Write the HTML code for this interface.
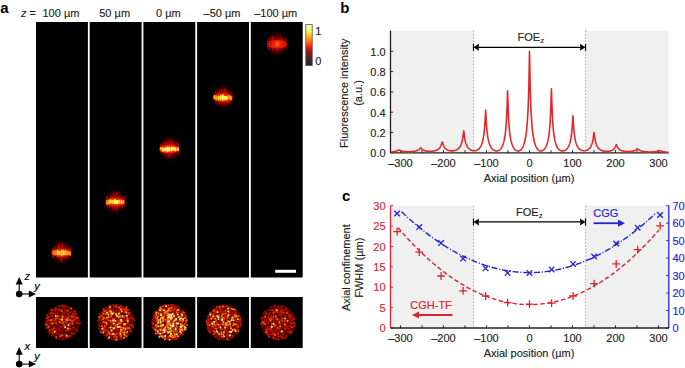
<!DOCTYPE html>
<html><head><meta charset="utf-8"><style>
html,body{margin:0;padding:0;background:#fff;overflow:hidden;width:685px;height:368px;}
svg{display:block;font-family:"Liberation Sans", sans-serif;}
</style></head><body>
<svg width="685" height="368" viewBox="0 0 685 368">
<rect width="685" height="368" fill="#fff"/>
<text x="0.20" y="13.30" font-size="15" text-anchor="start" fill="#000" stroke="#000" stroke-width="0" font-weight="bold" font-style="normal" >a</text>
<text x="21.00" y="17.00" font-size="11" text-anchor="start" fill="#231f20" stroke="#231f20" stroke-width="0.15" font-weight="normal" font-style="italic" >z</text>
<text x="29.60" y="17.00" font-size="11" text-anchor="start" fill="#231f20" stroke="#231f20" stroke-width="0.15" font-weight="normal" font-style="normal" >=</text>
<text x="60.95" y="17.00" font-size="11" text-anchor="middle" fill="#231f20" stroke="#231f20" stroke-width="0.15" font-weight="normal" font-style="normal" >100 µm</text>
<text x="114.65" y="17.00" font-size="11" text-anchor="middle" fill="#231f20" stroke="#231f20" stroke-width="0.15" font-weight="normal" font-style="normal" >50 µm</text>
<text x="168.35" y="17.00" font-size="11" text-anchor="middle" fill="#231f20" stroke="#231f20" stroke-width="0.15" font-weight="normal" font-style="normal" >0 µm</text>
<text x="222.05" y="17.00" font-size="11" text-anchor="middle" fill="#231f20" stroke="#231f20" stroke-width="0.15" font-weight="normal" font-style="normal" >–50 µm</text>
<text x="275.75" y="17.00" font-size="11" text-anchor="middle" fill="#231f20" stroke="#231f20" stroke-width="0.15" font-weight="normal" font-style="normal" >–100 µm</text>
<rect x="36.00" y="22" width="51.9" height="255.5" fill="#000"/>
<rect x="36.00" y="297" width="51.9" height="51" fill="#000"/>
<rect x="89.70" y="22" width="51.9" height="255.5" fill="#000"/>
<rect x="89.70" y="297" width="51.9" height="51" fill="#000"/>
<rect x="143.40" y="22" width="51.9" height="255.5" fill="#000"/>
<rect x="143.40" y="297" width="51.9" height="51" fill="#000"/>
<rect x="197.10" y="22" width="51.9" height="255.5" fill="#000"/>
<rect x="197.10" y="297" width="51.9" height="51" fill="#000"/>
<rect x="250.80" y="22" width="51.9" height="255.5" fill="#000"/>
<rect x="250.80" y="297" width="51.9" height="51" fill="#000"/>
<defs>
<radialGradient id="glow"><stop offset="0" stop-color="#e01000" stop-opacity="1"/><stop offset="0.55" stop-color="#a00000" stop-opacity="0.6"/><stop offset="1" stop-color="#400000" stop-opacity="0"/></radialGradient>
<radialGradient id="core"><stop offset="0" stop-color="#ffffa0"/><stop offset="0.45" stop-color="#ffd020"/><stop offset="0.8" stop-color="#ff5000" stop-opacity="0.8"/><stop offset="1" stop-color="#ff0000" stop-opacity="0"/></radialGradient>
<filter id="bl1" x="-50%" y="-50%" width="200%" height="200%" color-interpolation-filters="sRGB"><feGaussianBlur stdDeviation="0.55"/></filter>
<filter id="bl2" x="-50%" y="-50%" width="200%" height="200%" color-interpolation-filters="sRGB"><feGaussianBlur stdDeviation="0.55"/></filter>
<linearGradient id="cbar" x1="0" y1="1" x2="0" y2="0"><stop offset="0" stop-color="#2a2222"/><stop offset="0.18" stop-color="#4a2828"/><stop offset="0.33" stop-color="#8a1c1c"/><stop offset="0.42" stop-color="#e01010"/><stop offset="0.55" stop-color="#ff5a10"/><stop offset="0.7" stop-color="#ffb020"/><stop offset="0.82" stop-color="#fff040"/><stop offset="1" stop-color="#fffff0"/></linearGradient>
<filter id="bl3" x="-50%" y="-50%" width="200%" height="200%" color-interpolation-filters="sRGB"><feGaussianBlur stdDeviation="2.2"/></filter>
<filter id="bl4" x="-50%" y="-50%" width="200%" height="200%" color-interpolation-filters="sRGB"><feGaussianBlur stdDeviation="0.7"/></filter>
</defs>
<ellipse cx="61.5" cy="252.3" rx="7.5" ry="10" fill="#a00000" opacity="0.66" filter="url(#bl3)"/>
<g filter="url(#bl4)">
<ellipse cx="52.4" cy="253.1" rx="0.65" ry="5.3" fill="#e00800" opacity="0.71"/>
<ellipse cx="53.7" cy="252.2" rx="0.65" ry="5.9" fill="#e00800" opacity="0.71"/>
<ellipse cx="55.2" cy="251.7" rx="0.65" ry="5.8" fill="#e00800" opacity="0.71"/>
<ellipse cx="57.0" cy="252.4" rx="0.65" ry="5.6" fill="#e00800" opacity="0.71"/>
<ellipse cx="58.5" cy="251.1" rx="0.65" ry="7.4" fill="#e00800" opacity="0.71"/>
<ellipse cx="59.8" cy="252.9" rx="0.65" ry="9.1" fill="#e00800" opacity="0.71"/>
<ellipse cx="61.5" cy="253.5" rx="0.65" ry="9.2" fill="#e00800" opacity="0.71"/>
<ellipse cx="62.7" cy="251.3" rx="0.65" ry="8.3" fill="#e00800" opacity="0.71"/>
<ellipse cx="64.3" cy="252.7" rx="0.65" ry="6.5" fill="#e00800" opacity="0.71"/>
<ellipse cx="66.2" cy="253.0" rx="0.65" ry="6.6" fill="#e00800" opacity="0.71"/>
<ellipse cx="67.6" cy="252.7" rx="0.65" ry="6.4" fill="#e00800" opacity="0.71"/>
<ellipse cx="68.7" cy="252.7" rx="0.65" ry="5.0" fill="#e00800" opacity="0.71"/>
<ellipse cx="70.6" cy="252.3" rx="0.65" ry="5.2" fill="#e00800" opacity="0.71"/>
</g>
<g filter="url(#bl1)">
<ellipse cx="61.5" cy="252.8" rx="9.8" ry="4.3" fill="#f02000" opacity="0.95"/>
<ellipse cx="53.4" cy="252.6" rx="1.25" ry="2.4" fill="#ff8417" opacity="0.95"/>
<ellipse cx="55.5" cy="252.9" rx="1.25" ry="2.4" fill="#ff8f1a" opacity="0.95"/>
<ellipse cx="57.7" cy="252.5" rx="1.25" ry="3.0" fill="#ffd130" opacity="0.95"/>
<ellipse cx="59.1" cy="253.1" rx="1.25" ry="2.4" fill="#ffd432" opacity="0.95"/>
<ellipse cx="61.5" cy="253.0" rx="1.25" ry="3.2" fill="#ffd231" opacity="0.95"/>
<ellipse cx="63.6" cy="252.6" rx="1.25" ry="2.9" fill="#fff14c" opacity="0.95"/>
<ellipse cx="65.7" cy="252.7" rx="1.25" ry="2.8" fill="#ffc52a" opacity="0.95"/>
<ellipse cx="68.0" cy="253.0" rx="1.25" ry="2.0" fill="#ffa21d" opacity="0.95"/>
<ellipse cx="69.9" cy="253.4" rx="1.25" ry="2.4" fill="#ff931a" opacity="0.95"/>
</g>
<ellipse cx="115.3" cy="201.5" rx="7.5" ry="10" fill="#a00000" opacity="0.70" filter="url(#bl3)"/>
<g filter="url(#bl4)">
<ellipse cx="106.2" cy="202.0" rx="0.65" ry="5.6" fill="#e00800" opacity="0.75"/>
<ellipse cx="107.5" cy="201.2" rx="0.65" ry="5.5" fill="#e00800" opacity="0.75"/>
<ellipse cx="109.1" cy="202.7" rx="0.65" ry="6.3" fill="#e00800" opacity="0.75"/>
<ellipse cx="110.6" cy="201.8" rx="0.65" ry="6.4" fill="#e00800" opacity="0.75"/>
<ellipse cx="112.5" cy="202.2" rx="0.65" ry="6.7" fill="#e00800" opacity="0.75"/>
<ellipse cx="113.8" cy="201.4" rx="0.65" ry="9.3" fill="#e00800" opacity="0.75"/>
<ellipse cx="115.5" cy="201.8" rx="0.65" ry="7.9" fill="#e00800" opacity="0.75"/>
<ellipse cx="116.7" cy="201.7" rx="0.65" ry="9.6" fill="#e00800" opacity="0.75"/>
<ellipse cx="118.1" cy="201.7" rx="0.65" ry="6.5" fill="#e00800" opacity="0.75"/>
<ellipse cx="119.6" cy="201.8" rx="0.65" ry="7.1" fill="#e00800" opacity="0.75"/>
<ellipse cx="121.2" cy="202.3" rx="0.65" ry="5.6" fill="#e00800" opacity="0.75"/>
<ellipse cx="122.7" cy="202.2" rx="0.65" ry="6.8" fill="#e00800" opacity="0.75"/>
<ellipse cx="124.4" cy="201.8" rx="0.65" ry="5.7" fill="#e00800" opacity="0.75"/>
</g>
<g filter="url(#bl1)">
<ellipse cx="115.3" cy="202.0" rx="9.8" ry="4.3" fill="#f02000" opacity="1.00"/>
<ellipse cx="107.2" cy="202.5" rx="1.25" ry="2.4" fill="#ff8017" opacity="1.00"/>
<ellipse cx="109.4" cy="201.9" rx="1.25" ry="2.3" fill="#ffd633" opacity="1.00"/>
<ellipse cx="110.9" cy="201.5" rx="1.25" ry="2.2" fill="#ffe43a" opacity="1.00"/>
<ellipse cx="113.0" cy="201.8" rx="1.25" ry="2.3" fill="#ffdc36" opacity="1.00"/>
<ellipse cx="114.9" cy="201.5" rx="1.25" ry="2.8" fill="#fff04a" opacity="1.00"/>
<ellipse cx="117.0" cy="202.1" rx="1.25" ry="2.4" fill="#fff57d" opacity="1.00"/>
<ellipse cx="119.2" cy="201.8" rx="1.25" ry="2.2" fill="#ffcf2f" opacity="1.00"/>
<ellipse cx="121.7" cy="202.0" rx="1.25" ry="2.3" fill="#ffe43a" opacity="1.00"/>
<ellipse cx="123.2" cy="201.8" rx="1.25" ry="2.0" fill="#ff8417" opacity="1.00"/>
</g>
<ellipse cx="169.3" cy="148.5" rx="7.5" ry="10" fill="#a00000" opacity="0.73" filter="url(#bl3)"/>
<g filter="url(#bl4)">
<ellipse cx="160.5" cy="148.5" rx="0.65" ry="4.5" fill="#e00800" opacity="0.79"/>
<ellipse cx="162.1" cy="148.1" rx="0.65" ry="5.6" fill="#e00800" opacity="0.79"/>
<ellipse cx="163.3" cy="149.4" rx="0.65" ry="5.8" fill="#e00800" opacity="0.79"/>
<ellipse cx="165.1" cy="148.3" rx="0.65" ry="7.9" fill="#e00800" opacity="0.79"/>
<ellipse cx="166.2" cy="148.2" rx="0.65" ry="6.7" fill="#e00800" opacity="0.79"/>
<ellipse cx="168.0" cy="149.0" rx="0.65" ry="8.6" fill="#e00800" opacity="0.79"/>
<ellipse cx="169.2" cy="149.7" rx="0.65" ry="8.6" fill="#e00800" opacity="0.79"/>
<ellipse cx="171.1" cy="148.4" rx="0.65" ry="9.2" fill="#e00800" opacity="0.79"/>
<ellipse cx="172.5" cy="147.7" rx="0.65" ry="7.4" fill="#e00800" opacity="0.79"/>
<ellipse cx="173.8" cy="148.0" rx="0.65" ry="6.0" fill="#e00800" opacity="0.79"/>
<ellipse cx="175.0" cy="148.6" rx="0.65" ry="5.8" fill="#e00800" opacity="0.79"/>
<ellipse cx="176.9" cy="147.9" rx="0.65" ry="6.6" fill="#e00800" opacity="0.79"/>
<ellipse cx="178.6" cy="148.6" rx="0.65" ry="6.8" fill="#e00800" opacity="0.79"/>
</g>
<g filter="url(#bl1)">
<ellipse cx="169.3" cy="149.0" rx="9.8" ry="4.3" fill="#f02000" opacity="1.00"/>
<ellipse cx="161.0" cy="148.7" rx="1.25" ry="1.9" fill="#ff9f1c" opacity="1.00"/>
<ellipse cx="162.9" cy="149.5" rx="1.25" ry="2.6" fill="#ffd934" opacity="1.00"/>
<ellipse cx="165.2" cy="149.4" rx="1.25" ry="2.2" fill="#fff04b" opacity="1.00"/>
<ellipse cx="167.4" cy="149.3" rx="1.25" ry="3.0" fill="#fff89f" opacity="1.00"/>
<ellipse cx="169.3" cy="149.3" rx="1.25" ry="2.7" fill="#fff36b" opacity="1.00"/>
<ellipse cx="171.6" cy="148.9" rx="1.25" ry="2.6" fill="#fff8a7" opacity="1.00"/>
<ellipse cx="173.8" cy="148.6" rx="1.25" ry="2.2" fill="#fff154" opacity="1.00"/>
<ellipse cx="175.2" cy="149.4" rx="1.25" ry="2.1" fill="#ffee3f" opacity="1.00"/>
<ellipse cx="177.8" cy="149.2" rx="1.25" ry="2.1" fill="#ffd934" opacity="1.00"/>
</g>
<ellipse cx="222.8" cy="97.1" rx="7.5" ry="10" fill="#a00000" opacity="0.68" filter="url(#bl3)"/>
<g filter="url(#bl4)">
<ellipse cx="213.8" cy="97.1" rx="0.65" ry="4.4" fill="#e00800" opacity="0.73"/>
<ellipse cx="215.6" cy="97.1" rx="0.65" ry="6.3" fill="#e00800" opacity="0.73"/>
<ellipse cx="217.1" cy="97.9" rx="0.65" ry="7.0" fill="#e00800" opacity="0.73"/>
<ellipse cx="218.5" cy="97.3" rx="0.65" ry="6.1" fill="#e00800" opacity="0.73"/>
<ellipse cx="219.7" cy="97.8" rx="0.65" ry="7.2" fill="#e00800" opacity="0.73"/>
<ellipse cx="221.2" cy="96.6" rx="0.65" ry="7.2" fill="#e00800" opacity="0.73"/>
<ellipse cx="223.0" cy="97.3" rx="0.65" ry="8.1" fill="#e00800" opacity="0.73"/>
<ellipse cx="224.4" cy="96.2" rx="0.65" ry="8.6" fill="#e00800" opacity="0.73"/>
<ellipse cx="226.1" cy="97.2" rx="0.65" ry="7.6" fill="#e00800" opacity="0.73"/>
<ellipse cx="227.3" cy="97.9" rx="0.65" ry="6.1" fill="#e00800" opacity="0.73"/>
<ellipse cx="228.6" cy="98.4" rx="0.65" ry="6.2" fill="#e00800" opacity="0.73"/>
<ellipse cx="230.1" cy="97.6" rx="0.65" ry="6.3" fill="#e00800" opacity="0.73"/>
<ellipse cx="231.8" cy="97.5" rx="0.65" ry="5.3" fill="#e00800" opacity="0.73"/>
</g>
<g filter="url(#bl1)">
<ellipse cx="222.8" cy="97.6" rx="9.8" ry="4.3" fill="#f02000" opacity="0.97"/>
<ellipse cx="214.6" cy="97.1" rx="1.25" ry="2.2" fill="#ffaa1e" opacity="0.97"/>
<ellipse cx="216.4" cy="97.9" rx="1.25" ry="2.4" fill="#ff9e1c" opacity="0.97"/>
<ellipse cx="218.7" cy="98.1" rx="1.25" ry="2.5" fill="#ffde37" opacity="0.97"/>
<ellipse cx="220.8" cy="97.6" rx="1.25" ry="2.9" fill="#ffe53a" opacity="0.97"/>
<ellipse cx="222.8" cy="97.6" rx="1.25" ry="3.3" fill="#fff261" opacity="0.97"/>
<ellipse cx="225.0" cy="98.1" rx="1.25" ry="2.5" fill="#fff25f" opacity="0.97"/>
<ellipse cx="226.9" cy="98.0" rx="1.25" ry="2.2" fill="#ffeb3d" opacity="0.97"/>
<ellipse cx="228.6" cy="97.1" rx="1.25" ry="2.1" fill="#ffab1f" opacity="0.97"/>
<ellipse cx="230.7" cy="97.9" rx="1.25" ry="2.5" fill="#ffa01d" opacity="0.97"/>
</g>
<ellipse cx="277.0" cy="43.8" rx="7.5" ry="10" fill="#a00000" opacity="0.63" filter="url(#bl3)"/>
<g filter="url(#bl4)">
<ellipse cx="267.8" cy="43.9" rx="0.65" ry="6.0" fill="#e00800" opacity="0.68"/>
<ellipse cx="269.3" cy="44.1" rx="0.65" ry="7.2" fill="#e00800" opacity="0.68"/>
<ellipse cx="270.8" cy="43.1" rx="0.65" ry="7.1" fill="#e00800" opacity="0.68"/>
<ellipse cx="272.5" cy="43.6" rx="0.65" ry="8.4" fill="#e00800" opacity="0.68"/>
<ellipse cx="273.8" cy="44.0" rx="0.65" ry="7.4" fill="#e00800" opacity="0.68"/>
<ellipse cx="275.4" cy="44.1" rx="0.65" ry="7.1" fill="#e00800" opacity="0.68"/>
<ellipse cx="277.1" cy="44.9" rx="0.65" ry="7.6" fill="#e00800" opacity="0.68"/>
<ellipse cx="278.5" cy="44.4" rx="0.65" ry="6.8" fill="#e00800" opacity="0.68"/>
<ellipse cx="280.1" cy="43.1" rx="0.65" ry="6.8" fill="#e00800" opacity="0.68"/>
<ellipse cx="281.8" cy="44.2" rx="0.65" ry="8.3" fill="#e00800" opacity="0.68"/>
<ellipse cx="282.8" cy="43.6" rx="0.65" ry="5.5" fill="#e00800" opacity="0.68"/>
<ellipse cx="284.7" cy="43.7" rx="0.65" ry="5.2" fill="#e00800" opacity="0.68"/>
<ellipse cx="286.0" cy="43.9" rx="0.65" ry="6.5" fill="#e00800" opacity="0.68"/>
</g>
<g filter="url(#bl1)">
<ellipse cx="277.0" cy="44.3" rx="9.8" ry="4.3" fill="#f02000" opacity="0.90"/>
<ellipse cx="268.6" cy="44.8" rx="1.25" ry="2.2" fill="#a71717" opacity="0.90"/>
<ellipse cx="271.0" cy="43.8" rx="1.25" ry="2.5" fill="#cf1212" opacity="0.90"/>
<ellipse cx="272.8" cy="44.8" rx="1.25" ry="2.7" fill="#e72110" opacity="0.90"/>
<ellipse cx="275.2" cy="44.7" rx="1.25" ry="2.3" fill="#f33e10" opacity="0.90"/>
<ellipse cx="277.3" cy="44.1" rx="1.25" ry="3.0" fill="#ff7815" opacity="0.90"/>
<ellipse cx="279.4" cy="43.9" rx="1.25" ry="2.7" fill="#f94d10" opacity="0.90"/>
<ellipse cx="280.9" cy="43.9" rx="1.25" ry="2.1" fill="#e82410" opacity="0.90"/>
<ellipse cx="282.9" cy="44.1" rx="1.25" ry="2.6" fill="#e31710" opacity="0.90"/>
<ellipse cx="285.0" cy="43.9" rx="1.25" ry="2.1" fill="#d61111" opacity="0.90"/>
</g>
<rect x="275.2" y="269.8" width="20.8" height="3" fill="#fff"/>
<rect x="305.8" y="24.6" width="6.4" height="41" fill="url(#cbar)" stroke="#505050" stroke-width="0.8"/>
<text x="315.20" y="34.50" font-size="11" text-anchor="start" fill="#231f20" stroke="#231f20" stroke-width="0.15" font-weight="normal" font-style="normal" >1</text>
<text x="315.20" y="64.60" font-size="11" text-anchor="start" fill="#231f20" stroke="#231f20" stroke-width="0.15" font-weight="normal" font-style="normal" >0</text>
<g filter="url(#bl2)">
<circle cx="62.4" cy="322.4" r="17.5" fill="#400000"/>
<circle cx="56.5" cy="312.2" r="1.07" fill="#680800"/>
<circle cx="60.4" cy="312.5" r="1.01" fill="#680800"/>
<circle cx="63.4" cy="314.1" r="0.90" fill="#680800"/>
<circle cx="64.9" cy="317.6" r="1.03" fill="#680800"/>
<circle cx="58.6" cy="317.9" r="1.09" fill="#680800"/>
<circle cx="57.7" cy="332.8" r="1.00" fill="#690800"/>
<circle cx="51.8" cy="311.3" r="0.87" fill="#690800"/>
<circle cx="62.9" cy="326.3" r="1.05" fill="#690800"/>
<circle cx="49.4" cy="318.0" r="1.07" fill="#690800"/>
<circle cx="64.8" cy="328.2" r="0.94" fill="#690800"/>
<circle cx="63.9" cy="337.5" r="0.88" fill="#6a0800"/>
<circle cx="52.1" cy="317.3" r="0.90" fill="#6a0800"/>
<circle cx="65.4" cy="332.8" r="0.98" fill="#6a0800"/>
<circle cx="73.4" cy="321.9" r="1.07" fill="#6b0800"/>
<circle cx="78.7" cy="317.5" r="1.01" fill="#6b0800"/>
<circle cx="54.8" cy="332.2" r="1.08" fill="#6b0800"/>
<circle cx="62.6" cy="330.9" r="0.90" fill="#6b0800"/>
<circle cx="74.2" cy="323.3" r="0.93" fill="#6c0800"/>
<circle cx="54.9" cy="315.1" r="1.04" fill="#6c0800"/>
<circle cx="65.1" cy="311.4" r="1.01" fill="#6c0800"/>
<circle cx="48.3" cy="313.7" r="0.95" fill="#6d0800"/>
<circle cx="59.6" cy="339.1" r="1.02" fill="#6d0800"/>
<circle cx="58.6" cy="309.5" r="0.93" fill="#6d0800"/>
<circle cx="53.4" cy="315.5" r="0.86" fill="#6d0800"/>
<circle cx="68.7" cy="320.0" r="0.95" fill="#6d0800"/>
<circle cx="65.6" cy="315.5" r="0.86" fill="#6d0800"/>
<circle cx="73.4" cy="329.7" r="1.01" fill="#6e0800"/>
<circle cx="72.0" cy="312.0" r="0.93" fill="#6e0800"/>
<circle cx="59.9" cy="334.2" r="0.97" fill="#6e0800"/>
<circle cx="50.4" cy="331.5" r="1.00" fill="#6e0800"/>
<circle cx="71.1" cy="323.5" r="0.91" fill="#6e0800"/>
<circle cx="61.2" cy="333.5" r="0.97" fill="#6e0800"/>
<circle cx="48.6" cy="315.1" r="0.85" fill="#6e0800"/>
<circle cx="61.9" cy="338.3" r="1.08" fill="#6e0800"/>
<circle cx="56.0" cy="313.4" r="0.99" fill="#6f0900"/>
<circle cx="61.0" cy="338.1" r="1.10" fill="#6f0900"/>
<circle cx="54.4" cy="311.0" r="0.86" fill="#6f0900"/>
<circle cx="59.7" cy="320.4" r="1.00" fill="#6f0900"/>
<circle cx="71.6" cy="313.9" r="1.03" fill="#700900"/>
<circle cx="79.0" cy="324.1" r="0.93" fill="#700900"/>
<circle cx="73.5" cy="324.7" r="0.87" fill="#710900"/>
<circle cx="61.9" cy="308.4" r="0.89" fill="#710900"/>
<circle cx="59.6" cy="331.7" r="0.89" fill="#720900"/>
<circle cx="57.5" cy="321.9" r="1.04" fill="#720900"/>
<circle cx="74.9" cy="324.1" r="0.87" fill="#720900"/>
<circle cx="63.3" cy="312.8" r="1.05" fill="#720900"/>
<circle cx="75.8" cy="328.7" r="0.96" fill="#730900"/>
<circle cx="51.9" cy="330.8" r="0.98" fill="#730900"/>
<circle cx="55.5" cy="310.9" r="1.00" fill="#740900"/>
<circle cx="57.3" cy="326.4" r="0.99" fill="#740900"/>
<circle cx="56.1" cy="322.2" r="1.01" fill="#750900"/>
<circle cx="57.9" cy="326.1" r="1.00" fill="#750900"/>
<circle cx="47.1" cy="321.7" r="0.93" fill="#750900"/>
<circle cx="57.1" cy="320.5" r="1.04" fill="#760a00"/>
<circle cx="64.8" cy="323.3" r="0.91" fill="#760a00"/>
<circle cx="58.7" cy="312.5" r="1.03" fill="#770a00"/>
<circle cx="52.6" cy="314.7" r="1.04" fill="#770a00"/>
<circle cx="53.9" cy="317.7" r="1.04" fill="#770a00"/>
<circle cx="51.9" cy="326.2" r="0.93" fill="#770a00"/>
<circle cx="62.5" cy="305.4" r="1.04" fill="#770a00"/>
<circle cx="49.4" cy="333.7" r="1.09" fill="#770a00"/>
<circle cx="56.2" cy="332.8" r="0.96" fill="#780a00"/>
<circle cx="65.1" cy="308.5" r="0.92" fill="#780a00"/>
<circle cx="47.5" cy="328.3" r="0.98" fill="#780a00"/>
<circle cx="71.8" cy="314.6" r="1.09" fill="#780a00"/>
<circle cx="68.0" cy="323.3" r="0.88" fill="#780a00"/>
<circle cx="71.9" cy="326.2" r="0.85" fill="#790a00"/>
<circle cx="64.1" cy="329.6" r="0.97" fill="#790a00"/>
<circle cx="71.6" cy="335.7" r="1.01" fill="#790a00"/>
<circle cx="65.9" cy="336.8" r="1.04" fill="#790a00"/>
<circle cx="68.2" cy="316.7" r="0.94" fill="#7a0a00"/>
<circle cx="62.8" cy="339.5" r="1.10" fill="#7a0a00"/>
<circle cx="69.3" cy="312.2" r="0.91" fill="#7a0a00"/>
<circle cx="50.6" cy="312.7" r="1.04" fill="#7a0a00"/>
<circle cx="55.0" cy="312.5" r="0.87" fill="#7b0a00"/>
<circle cx="60.6" cy="311.0" r="0.86" fill="#7b0a00"/>
<circle cx="78.6" cy="325.4" r="0.88" fill="#7c0a00"/>
<circle cx="66.3" cy="328.2" r="0.87" fill="#7c0a00"/>
<circle cx="48.4" cy="332.2" r="0.98" fill="#7c0a00"/>
<circle cx="62.3" cy="330.4" r="0.99" fill="#7c0a00"/>
<circle cx="63.8" cy="327.1" r="0.90" fill="#7e0b00"/>
<circle cx="51.1" cy="319.6" r="1.08" fill="#7e0b00"/>
<circle cx="78.1" cy="320.5" r="0.94" fill="#7e0b00"/>
<circle cx="59.4" cy="326.2" r="0.89" fill="#7e0b00"/>
<circle cx="45.5" cy="321.8" r="0.89" fill="#7e0b00"/>
<circle cx="46.1" cy="328.2" r="1.03" fill="#7e0b00"/>
<circle cx="62.7" cy="307.6" r="1.08" fill="#7f0b00"/>
<circle cx="52.5" cy="325.0" r="0.89" fill="#7f0b00"/>
<circle cx="58.4" cy="328.1" r="0.86" fill="#7f0b00"/>
<circle cx="53.4" cy="335.3" r="1.04" fill="#7f0b00"/>
<circle cx="59.5" cy="335.6" r="0.91" fill="#800b00"/>
<circle cx="73.9" cy="328.6" r="1.10" fill="#800b00"/>
<circle cx="71.1" cy="322.1" r="0.97" fill="#800b00"/>
<circle cx="61.9" cy="332.4" r="1.01" fill="#810b00"/>
<circle cx="58.7" cy="308.7" r="0.94" fill="#810b00"/>
<circle cx="60.8" cy="335.3" r="1.05" fill="#810b00"/>
<circle cx="58.0" cy="320.8" r="0.97" fill="#810b00"/>
<circle cx="56.6" cy="331.3" r="0.93" fill="#810b00"/>
<circle cx="66.8" cy="313.8" r="1.08" fill="#820b00"/>
<circle cx="55.0" cy="333.9" r="0.88" fill="#820b00"/>
<circle cx="51.0" cy="325.6" r="1.03" fill="#820b00"/>
<circle cx="61.1" cy="331.3" r="0.87" fill="#830b00"/>
<circle cx="64.7" cy="320.7" r="1.01" fill="#830b00"/>
<circle cx="75.1" cy="315.3" r="0.95" fill="#830b00"/>
<circle cx="74.5" cy="321.7" r="1.07" fill="#850c00"/>
<circle cx="63.4" cy="335.1" r="0.86" fill="#850c00"/>
<circle cx="69.1" cy="317.7" r="0.99" fill="#860c00"/>
<circle cx="53.8" cy="336.3" r="0.95" fill="#860c00"/>
<circle cx="61.8" cy="314.7" r="1.08" fill="#860c00"/>
<circle cx="62.9" cy="328.1" r="1.09" fill="#860c00"/>
<circle cx="59.4" cy="311.4" r="1.01" fill="#870c00"/>
<circle cx="70.3" cy="326.1" r="0.91" fill="#870c00"/>
<circle cx="77.9" cy="316.7" r="0.91" fill="#880c00"/>
<circle cx="65.8" cy="324.7" r="0.92" fill="#880c00"/>
<circle cx="74.2" cy="317.6" r="0.96" fill="#880c00"/>
<circle cx="67.1" cy="330.2" r="0.91" fill="#890c00"/>
<circle cx="68.3" cy="337.5" r="0.90" fill="#890c00"/>
<circle cx="66.7" cy="337.9" r="1.04" fill="#890c00"/>
<circle cx="66.5" cy="306.8" r="1.01" fill="#8a0c00"/>
<circle cx="68.9" cy="327.0" r="0.92" fill="#8b0d00"/>
<circle cx="53.2" cy="319.4" r="1.10" fill="#8b0d00"/>
<circle cx="67.8" cy="337.0" r="0.90" fill="#8c0d00"/>
<circle cx="66.0" cy="312.8" r="0.99" fill="#8d0d00"/>
<circle cx="61.9" cy="327.5" r="0.89" fill="#8d0d00"/>
<circle cx="76.3" cy="319.5" r="1.07" fill="#8d0d00"/>
<circle cx="57.3" cy="324.8" r="1.07" fill="#8e0d00"/>
<circle cx="54.7" cy="321.6" r="0.92" fill="#8e0d00"/>
<circle cx="58.8" cy="306.0" r="1.04" fill="#8e0d00"/>
<circle cx="50.3" cy="321.7" r="1.06" fill="#8f0d00"/>
<circle cx="67.7" cy="333.5" r="0.92" fill="#8f0d00"/>
<circle cx="63.5" cy="316.5" r="0.93" fill="#8f0d00"/>
<circle cx="61.0" cy="306.1" r="0.97" fill="#910d00"/>
<circle cx="50.2" cy="316.0" r="1.07" fill="#920e00"/>
<circle cx="55.3" cy="328.7" r="0.89" fill="#920e00"/>
<circle cx="59.1" cy="316.7" r="1.02" fill="#920e00"/>
<circle cx="61.1" cy="337.1" r="1.00" fill="#920e00"/>
<circle cx="68.2" cy="319.1" r="0.96" fill="#930e00"/>
<circle cx="58.0" cy="308.9" r="0.99" fill="#930e00"/>
<circle cx="49.8" cy="327.2" r="1.07" fill="#930e00"/>
<circle cx="48.6" cy="326.1" r="0.90" fill="#930e00"/>
<circle cx="77.3" cy="322.2" r="1.07" fill="#930e00"/>
<circle cx="53.3" cy="321.7" r="0.94" fill="#940e00"/>
<circle cx="57.6" cy="319.3" r="1.04" fill="#950e00"/>
<circle cx="58.0" cy="313.4" r="1.07" fill="#960e00"/>
<circle cx="57.1" cy="309.7" r="0.90" fill="#960e00"/>
<circle cx="76.6" cy="321.4" r="1.07" fill="#970e00"/>
<circle cx="72.1" cy="318.2" r="1.10" fill="#970e00"/>
<circle cx="61.1" cy="330.4" r="0.92" fill="#980e00"/>
<circle cx="51.5" cy="335.6" r="0.86" fill="#980e00"/>
<circle cx="51.4" cy="324.4" r="0.88" fill="#990f00"/>
<circle cx="73.4" cy="319.6" r="1.09" fill="#990f00"/>
<circle cx="73.6" cy="333.6" r="0.85" fill="#990f00"/>
<circle cx="55.9" cy="324.6" r="1.08" fill="#990f00"/>
<circle cx="68.2" cy="329.9" r="0.89" fill="#9a0f00"/>
<circle cx="51.1" cy="316.0" r="1.03" fill="#9a0f00"/>
<circle cx="55.0" cy="329.9" r="0.87" fill="#9a0f00"/>
<circle cx="65.7" cy="305.9" r="0.89" fill="#9a0f00"/>
<circle cx="59.6" cy="328.6" r="1.02" fill="#9a0f00"/>
<circle cx="62.7" cy="320.3" r="0.87" fill="#9b0f00"/>
<circle cx="74.6" cy="313.3" r="0.93" fill="#9b0f00"/>
<circle cx="48.3" cy="324.5" r="1.08" fill="#9b0f00"/>
<circle cx="69.5" cy="335.4" r="1.03" fill="#9c0f00"/>
<circle cx="61.9" cy="317.3" r="1.07" fill="#9c0f00"/>
<circle cx="53.3" cy="313.8" r="1.09" fill="#9c0f00"/>
<circle cx="63.3" cy="317.5" r="0.86" fill="#9d0f00"/>
<circle cx="56.5" cy="328.3" r="0.91" fill="#9d0f00"/>
<circle cx="76.2" cy="329.7" r="1.05" fill="#9e0f00"/>
<circle cx="56.7" cy="333.7" r="1.02" fill="#9e0f00"/>
<circle cx="47.9" cy="322.0" r="0.86" fill="#9e0f00"/>
<circle cx="73.7" cy="314.9" r="0.98" fill="#9e0f00"/>
<circle cx="68.9" cy="335.7" r="0.91" fill="#9e0f00"/>
<circle cx="64.4" cy="336.1" r="0.96" fill="#9f0f00"/>
<circle cx="50.9" cy="310.1" r="0.88" fill="#9f0f00"/>
<circle cx="58.0" cy="330.1" r="0.85" fill="#9f0f00"/>
<circle cx="79.8" cy="322.9" r="1.10" fill="#a11000"/>
<circle cx="67.2" cy="326.8" r="0.93" fill="#a11000"/>
<circle cx="78.2" cy="318.9" r="1.07" fill="#a11000"/>
<circle cx="58.8" cy="315.3" r="0.88" fill="#a21000"/>
<circle cx="71.4" cy="319.2" r="0.97" fill="#a31100"/>
<circle cx="61.0" cy="309.8" r="0.88" fill="#a31100"/>
<circle cx="69.2" cy="307.5" r="0.96" fill="#a31100"/>
<circle cx="78.2" cy="323.3" r="0.89" fill="#a31100"/>
<circle cx="74.5" cy="333.0" r="1.02" fill="#a41100"/>
<circle cx="61.0" cy="326.2" r="0.89" fill="#a51100"/>
<circle cx="70.5" cy="312.2" r="1.03" fill="#a61200"/>
<circle cx="68.2" cy="314.0" r="0.98" fill="#a61200"/>
<circle cx="74.4" cy="316.2" r="0.88" fill="#a91300"/>
<circle cx="53.8" cy="320.5" r="0.94" fill="#a91300"/>
<circle cx="59.8" cy="315.5" r="0.97" fill="#aa1300"/>
<circle cx="59.0" cy="329.8" r="1.08" fill="#aa1300"/>
<circle cx="47.1" cy="327.0" r="0.94" fill="#ad1400"/>
<circle cx="53.3" cy="334.1" r="0.90" fill="#ad1400"/>
<circle cx="52.2" cy="328.9" r="1.09" fill="#ad1400"/>
<circle cx="75.7" cy="318.1" r="1.07" fill="#ae1400"/>
<circle cx="64.2" cy="312.9" r="1.03" fill="#ae1400"/>
<circle cx="47.2" cy="322.8" r="0.92" fill="#ae1400"/>
<circle cx="52.6" cy="316.2" r="0.89" fill="#af1500"/>
<circle cx="53.6" cy="330.8" r="0.92" fill="#b01500"/>
<circle cx="55.9" cy="329.8" r="0.87" fill="#b11500"/>
<circle cx="69.4" cy="326.2" r="0.86" fill="#b11500"/>
<circle cx="63.7" cy="324.2" r="0.98" fill="#b11500"/>
<circle cx="62.8" cy="315.6" r="0.95" fill="#b11500"/>
<circle cx="69.7" cy="330.0" r="0.99" fill="#b11500"/>
<circle cx="60.3" cy="327.3" r="0.94" fill="#b21500"/>
<circle cx="77.0" cy="331.0" r="0.85" fill="#b21600"/>
<circle cx="73.2" cy="313.7" r="1.02" fill="#b31600"/>
<circle cx="54.9" cy="313.4" r="1.01" fill="#b31600"/>
<circle cx="54.2" cy="326.7" r="0.99" fill="#b41600"/>
<circle cx="47.4" cy="320.4" r="0.99" fill="#b41600"/>
<circle cx="52.1" cy="312.6" r="1.02" fill="#b41600"/>
<circle cx="73.4" cy="327.7" r="1.10" fill="#b51600"/>
<circle cx="50.9" cy="322.1" r="1.07" fill="#b51700"/>
<circle cx="47.1" cy="315.4" r="1.03" fill="#b71700"/>
<circle cx="64.5" cy="310.2" r="0.95" fill="#b71700"/>
<circle cx="45.1" cy="324.1" r="0.93" fill="#b81800"/>
<circle cx="60.5" cy="321.6" r="0.95" fill="#b81800"/>
<circle cx="74.9" cy="311.4" r="1.09" fill="#ba1800"/>
<circle cx="55.3" cy="318.2" r="0.95" fill="#bc1900"/>
<circle cx="51.1" cy="332.2" r="0.95" fill="#bd1900"/>
<circle cx="62.1" cy="314.2" r="0.95" fill="#bd1900"/>
<circle cx="66.6" cy="323.4" r="0.89" fill="#bd1900"/>
<circle cx="69.6" cy="336.3" r="1.10" fill="#c01a00"/>
<circle cx="58.7" cy="334.0" r="0.85" fill="#c01a00"/>
<circle cx="48.2" cy="316.9" r="1.00" fill="#c11a00"/>
<circle cx="56.1" cy="338.1" r="1.08" fill="#c31b00"/>
<circle cx="67.0" cy="322.0" r="0.91" fill="#c41c00"/>
<circle cx="65.3" cy="319.0" r="1.00" fill="#c51c00"/>
<circle cx="55.7" cy="320.4" r="0.94" fill="#c61c00"/>
<circle cx="66.1" cy="317.4" r="0.91" fill="#c61c00"/>
<circle cx="65.3" cy="316.2" r="0.90" fill="#c71c00"/>
<circle cx="49.5" cy="324.2" r="0.88" fill="#c91d00"/>
<circle cx="55.4" cy="310.2" r="1.06" fill="#c91d00"/>
<circle cx="59.7" cy="309.9" r="1.05" fill="#c91d00"/>
<circle cx="69.9" cy="319.3" r="1.08" fill="#ca1d00"/>
<circle cx="68.1" cy="315.2" r="0.86" fill="#cb1e00"/>
<circle cx="55.7" cy="322.9" r="1.02" fill="#cb1e00"/>
<circle cx="74.2" cy="320.8" r="0.93" fill="#cc1e00"/>
<circle cx="75.9" cy="314.1" r="1.01" fill="#cc1e00"/>
<circle cx="77.2" cy="322.9" r="0.99" fill="#cd1e00"/>
<circle cx="61.7" cy="323.1" r="0.93" fill="#cd1f00"/>
<circle cx="74.7" cy="319.2" r="1.09" fill="#d22000"/>
<circle cx="65.6" cy="334.4" r="0.85" fill="#d32100"/>
<circle cx="67.0" cy="310.9" r="1.04" fill="#d32100"/>
<circle cx="48.8" cy="320.2" r="1.06" fill="#d42100"/>
<circle cx="69.8" cy="316.2" r="0.98" fill="#d52100"/>
<circle cx="73.4" cy="316.4" r="1.00" fill="#d62100"/>
<circle cx="69.6" cy="323.1" r="1.10" fill="#d82200"/>
<circle cx="70.7" cy="328.8" r="0.91" fill="#d92200"/>
<circle cx="60.0" cy="323.1" r="1.01" fill="#da2300"/>
<circle cx="64.0" cy="319.5" r="1.04" fill="#da2300"/>
<circle cx="53.9" cy="328.3" r="0.94" fill="#db2300"/>
<circle cx="64.1" cy="306.0" r="1.03" fill="#db2300"/>
<circle cx="71.9" cy="333.5" r="0.95" fill="#dc2300"/>
<circle cx="65.9" cy="330.9" r="0.98" fill="#dc2400"/>
<circle cx="47.0" cy="318.2" r="1.00" fill="#dd2400"/>
<circle cx="53.3" cy="323.3" r="1.02" fill="#de2400"/>
<circle cx="52.8" cy="333.0" r="0.93" fill="#e02500"/>
<circle cx="68.2" cy="310.6" r="1.01" fill="#e02600"/>
<circle cx="69.5" cy="324.8" r="0.99" fill="#e12700"/>
<circle cx="55.7" cy="308.3" r="0.91" fill="#e12800"/>
<circle cx="66.8" cy="319.4" r="1.00" fill="#e42c02"/>
<circle cx="69.2" cy="328.8" r="0.92" fill="#e73303"/>
<circle cx="61.1" cy="320.0" r="1.08" fill="#e73303"/>
<circle cx="56.4" cy="323.0" r="0.97" fill="#e73303"/>
<circle cx="62.5" cy="321.4" r="1.03" fill="#e83404"/>
<circle cx="52.9" cy="330.3" r="0.98" fill="#e83504"/>
<circle cx="52.1" cy="309.9" r="0.97" fill="#eb3a05"/>
<circle cx="59.2" cy="319.1" r="0.91" fill="#eb3b06"/>
<circle cx="51.1" cy="313.3" r="0.89" fill="#ed3e06"/>
<circle cx="51.9" cy="320.1" r="1.08" fill="#ee4007"/>
<circle cx="60.6" cy="319.2" r="0.98" fill="#ee4107"/>
<circle cx="49.6" cy="330.2" r="0.98" fill="#f04508"/>
<circle cx="76.8" cy="317.5" r="0.98" fill="#f14508"/>
<circle cx="72.0" cy="320.9" r="1.05" fill="#f24809"/>
<circle cx="70.4" cy="320.2" r="0.91" fill="#f34909"/>
<circle cx="56.7" cy="317.8" r="0.89" fill="#f34909"/>
<circle cx="50.6" cy="320.2" r="1.06" fill="#f34909"/>
<circle cx="60.1" cy="336.2" r="0.97" fill="#f44c0a"/>
<circle cx="64.2" cy="325.6" r="1.01" fill="#f54d0b"/>
<circle cx="71.3" cy="308.5" r="1.06" fill="#f7520c"/>
<circle cx="67.9" cy="318.0" r="1.07" fill="#f8530c"/>
<circle cx="62.2" cy="335.4" r="1.07" fill="#f8530c"/>
<circle cx="56.4" cy="336.6" r="0.86" fill="#f8540c"/>
<circle cx="55.6" cy="319.1" r="0.95" fill="#f9540c"/>
<circle cx="61.8" cy="311.0" r="1.06" fill="#f9540d"/>
<circle cx="62.9" cy="323.1" r="1.05" fill="#fb5a0e"/>
<circle cx="65.4" cy="322.0" r="0.88" fill="#fc5a0e"/>
<circle cx="59.6" cy="322.0" r="0.89" fill="#fd5d0f"/>
<circle cx="46.5" cy="324.6" r="0.91" fill="#ff6d15"/>
<circle cx="48.5" cy="326.8" r="0.88" fill="#ff7117"/>
<circle cx="72.0" cy="316.5" r="0.94" fill="#ff7117"/>
<circle cx="72.4" cy="323.5" r="1.05" fill="#ff7317"/>
<circle cx="66.5" cy="320.1" r="0.98" fill="#ff811d"/>
<circle cx="67.9" cy="320.1" r="0.96" fill="#ff821d"/>
<circle cx="57.8" cy="316.0" r="0.87" fill="#ff8d22"/>
<circle cx="52.4" cy="323.4" r="0.95" fill="#ff9224"/>
<circle cx="67.8" cy="328.7" r="1.10" fill="#ff9324"/>
<circle cx="62.5" cy="316.7" r="1.02" fill="#ff9625"/>
<circle cx="66.8" cy="335.7" r="0.96" fill="#ffc045"/>
<circle cx="54.8" cy="331.7" r="0.97" fill="#ffcb52"/>
<circle cx="55.8" cy="316.0" r="1.05" fill="#ffcf57"/>
<circle cx="62.0" cy="319.4" r="1.04" fill="#ffd15a"/>
<circle cx="68.3" cy="324.9" r="0.89" fill="#fff393"/>
<circle cx="65.2" cy="327.2" r="1.02" fill="#fff393"/>
</g>
<g filter="url(#bl2)">
<circle cx="116.0" cy="322.2" r="18.3" fill="#400000"/>
<circle cx="101.2" cy="318.3" r="0.94" fill="#680800"/>
<circle cx="100.4" cy="321.8" r="0.88" fill="#690800"/>
<circle cx="101.1" cy="329.1" r="0.97" fill="#690800"/>
<circle cx="123.2" cy="336.8" r="0.85" fill="#690800"/>
<circle cx="106.1" cy="334.2" r="0.89" fill="#690800"/>
<circle cx="107.0" cy="320.4" r="0.91" fill="#690800"/>
<circle cx="132.4" cy="325.9" r="0.87" fill="#690800"/>
<circle cx="101.3" cy="321.0" r="0.87" fill="#6a0800"/>
<circle cx="107.7" cy="331.3" r="0.90" fill="#6a0800"/>
<circle cx="105.1" cy="308.5" r="0.98" fill="#6a0800"/>
<circle cx="130.9" cy="330.2" r="0.88" fill="#6a0800"/>
<circle cx="130.8" cy="325.9" r="1.06" fill="#6a0800"/>
<circle cx="118.7" cy="338.5" r="0.95" fill="#6b0800"/>
<circle cx="117.4" cy="338.3" r="0.91" fill="#6b0800"/>
<circle cx="115.5" cy="328.6" r="0.91" fill="#6b0800"/>
<circle cx="115.5" cy="319.1" r="1.06" fill="#6c0800"/>
<circle cx="122.4" cy="325.3" r="0.86" fill="#6c0800"/>
<circle cx="130.1" cy="320.0" r="1.04" fill="#6e0800"/>
<circle cx="132.0" cy="321.1" r="0.87" fill="#6e0800"/>
<circle cx="123.8" cy="335.7" r="1.09" fill="#6f0900"/>
<circle cx="100.2" cy="330.3" r="0.95" fill="#6f0900"/>
<circle cx="112.2" cy="322.2" r="1.00" fill="#700900"/>
<circle cx="113.9" cy="311.7" r="1.07" fill="#700900"/>
<circle cx="107.6" cy="308.8" r="0.88" fill="#700900"/>
<circle cx="119.6" cy="339.3" r="0.87" fill="#700900"/>
<circle cx="112.2" cy="337.2" r="1.02" fill="#700900"/>
<circle cx="128.8" cy="320.8" r="1.00" fill="#700900"/>
<circle cx="115.2" cy="331.6" r="1.03" fill="#710900"/>
<circle cx="121.2" cy="310.6" r="0.92" fill="#710900"/>
<circle cx="112.7" cy="317.3" r="0.97" fill="#710900"/>
<circle cx="107.8" cy="328.0" r="0.90" fill="#720900"/>
<circle cx="106.9" cy="336.6" r="0.96" fill="#720900"/>
<circle cx="122.8" cy="317.9" r="0.92" fill="#730900"/>
<circle cx="113.9" cy="307.8" r="1.00" fill="#740900"/>
<circle cx="118.5" cy="308.5" r="0.92" fill="#740900"/>
<circle cx="113.0" cy="335.6" r="0.92" fill="#750900"/>
<circle cx="115.9" cy="327.2" r="1.01" fill="#750900"/>
<circle cx="103.8" cy="325.0" r="0.87" fill="#750900"/>
<circle cx="101.6" cy="329.9" r="1.05" fill="#760a00"/>
<circle cx="106.4" cy="308.8" r="0.97" fill="#760a00"/>
<circle cx="101.5" cy="322.3" r="0.91" fill="#770a00"/>
<circle cx="113.4" cy="309.9" r="0.88" fill="#770a00"/>
<circle cx="110.3" cy="337.3" r="0.98" fill="#770a00"/>
<circle cx="104.0" cy="325.9" r="0.98" fill="#780a00"/>
<circle cx="107.3" cy="326.2" r="1.03" fill="#780a00"/>
<circle cx="119.0" cy="325.2" r="0.94" fill="#780a00"/>
<circle cx="118.1" cy="333.9" r="0.95" fill="#780a00"/>
<circle cx="110.6" cy="323.4" r="1.07" fill="#780a00"/>
<circle cx="123.9" cy="315.6" r="0.92" fill="#790a00"/>
<circle cx="123.1" cy="312.3" r="1.10" fill="#7a0a00"/>
<circle cx="131.8" cy="321.7" r="1.07" fill="#7a0a00"/>
<circle cx="116.2" cy="330.3" r="1.10" fill="#7a0a00"/>
<circle cx="104.6" cy="334.6" r="1.09" fill="#7a0a00"/>
<circle cx="112.7" cy="333.0" r="0.91" fill="#7b0a00"/>
<circle cx="116.9" cy="312.6" r="1.05" fill="#7b0a00"/>
<circle cx="103.9" cy="320.8" r="1.00" fill="#7b0a00"/>
<circle cx="114.6" cy="322.2" r="0.90" fill="#7c0a00"/>
<circle cx="106.9" cy="319.5" r="1.10" fill="#7c0a00"/>
<circle cx="105.6" cy="321.0" r="1.01" fill="#7c0a00"/>
<circle cx="106.4" cy="316.3" r="1.05" fill="#7d0b00"/>
<circle cx="126.4" cy="311.3" r="0.99" fill="#7e0b00"/>
<circle cx="99.0" cy="319.9" r="0.87" fill="#7e0b00"/>
<circle cx="114.4" cy="316.9" r="1.07" fill="#7e0b00"/>
<circle cx="119.4" cy="329.3" r="0.89" fill="#7f0b00"/>
<circle cx="108.7" cy="318.4" r="0.91" fill="#7f0b00"/>
<circle cx="128.4" cy="324.6" r="1.00" fill="#7f0b00"/>
<circle cx="107.8" cy="321.8" r="0.90" fill="#800b00"/>
<circle cx="111.4" cy="325.2" r="0.97" fill="#800b00"/>
<circle cx="111.9" cy="339.3" r="1.03" fill="#800b00"/>
<circle cx="99.8" cy="323.5" r="0.87" fill="#800b00"/>
<circle cx="132.6" cy="319.2" r="1.02" fill="#800b00"/>
<circle cx="119.7" cy="317.7" r="0.88" fill="#800b00"/>
<circle cx="128.6" cy="327.6" r="0.97" fill="#810b00"/>
<circle cx="101.3" cy="313.1" r="1.01" fill="#810b00"/>
<circle cx="127.5" cy="326.5" r="1.02" fill="#810b00"/>
<circle cx="128.9" cy="326.1" r="0.86" fill="#810b00"/>
<circle cx="106.3" cy="311.7" r="0.90" fill="#820b00"/>
<circle cx="133.3" cy="323.5" r="1.09" fill="#820b00"/>
<circle cx="118.4" cy="309.7" r="0.95" fill="#830b00"/>
<circle cx="101.7" cy="316.7" r="0.96" fill="#830b00"/>
<circle cx="119.4" cy="320.4" r="0.94" fill="#830b00"/>
<circle cx="128.6" cy="315.3" r="1.02" fill="#840c00"/>
<circle cx="124.6" cy="337.1" r="1.04" fill="#840c00"/>
<circle cx="130.9" cy="317.3" r="1.01" fill="#850c00"/>
<circle cx="102.9" cy="323.9" r="0.95" fill="#850c00"/>
<circle cx="105.2" cy="317.2" r="0.99" fill="#850c00"/>
<circle cx="103.7" cy="331.2" r="0.98" fill="#860c00"/>
<circle cx="106.9" cy="333.4" r="0.90" fill="#860c00"/>
<circle cx="119.3" cy="331.8" r="1.09" fill="#870c00"/>
<circle cx="124.2" cy="320.8" r="1.09" fill="#870c00"/>
<circle cx="105.9" cy="331.5" r="1.04" fill="#870c00"/>
<circle cx="125.5" cy="337.4" r="1.10" fill="#870c00"/>
<circle cx="124.0" cy="317.7" r="0.97" fill="#880c00"/>
<circle cx="115.5" cy="333.0" r="1.06" fill="#880c00"/>
<circle cx="130.5" cy="328.7" r="0.91" fill="#880c00"/>
<circle cx="98.2" cy="321.0" r="1.04" fill="#890c00"/>
<circle cx="118.6" cy="335.6" r="1.03" fill="#890c00"/>
<circle cx="112.1" cy="315.9" r="1.08" fill="#890c00"/>
<circle cx="115.4" cy="310.2" r="1.06" fill="#890c00"/>
<circle cx="118.8" cy="322.2" r="1.07" fill="#890c00"/>
<circle cx="116.2" cy="316.3" r="0.92" fill="#890c00"/>
<circle cx="132.2" cy="315.5" r="1.05" fill="#8a0c00"/>
<circle cx="119.4" cy="337.4" r="0.97" fill="#8a0c00"/>
<circle cx="102.9" cy="312.6" r="0.93" fill="#8a0c00"/>
<circle cx="126.7" cy="313.7" r="0.94" fill="#8b0d00"/>
<circle cx="111.2" cy="306.0" r="1.05" fill="#8d0d00"/>
<circle cx="106.1" cy="312.4" r="1.06" fill="#8d0d00"/>
<circle cx="129.5" cy="314.5" r="1.06" fill="#8e0d00"/>
<circle cx="131.7" cy="327.6" r="1.02" fill="#8e0d00"/>
<circle cx="98.9" cy="325.3" r="0.89" fill="#8e0d00"/>
<circle cx="117.8" cy="311.1" r="0.89" fill="#8f0d00"/>
<circle cx="112.9" cy="309.1" r="0.99" fill="#900d00"/>
<circle cx="129.3" cy="323.8" r="0.90" fill="#900d00"/>
<circle cx="122.4" cy="310.1" r="0.93" fill="#910d00"/>
<circle cx="111.3" cy="314.6" r="0.88" fill="#910d00"/>
<circle cx="115.2" cy="305.0" r="0.89" fill="#920e00"/>
<circle cx="106.9" cy="321.9" r="1.03" fill="#930e00"/>
<circle cx="117.9" cy="337.2" r="0.91" fill="#940e00"/>
<circle cx="127.7" cy="334.2" r="1.06" fill="#940e00"/>
<circle cx="116.5" cy="326.2" r="0.93" fill="#940e00"/>
<circle cx="111.2" cy="332.9" r="1.06" fill="#940e00"/>
<circle cx="99.7" cy="325.9" r="0.93" fill="#940e00"/>
<circle cx="122.5" cy="328.0" r="0.92" fill="#940e00"/>
<circle cx="126.0" cy="326.2" r="0.95" fill="#950e00"/>
<circle cx="107.9" cy="335.4" r="0.85" fill="#950e00"/>
<circle cx="114.7" cy="324.6" r="0.96" fill="#950e00"/>
<circle cx="109.9" cy="322.4" r="0.94" fill="#950e00"/>
<circle cx="102.2" cy="318.6" r="0.85" fill="#950e00"/>
<circle cx="107.1" cy="333.9" r="1.07" fill="#960e00"/>
<circle cx="108.5" cy="323.9" r="0.94" fill="#970e00"/>
<circle cx="122.4" cy="326.6" r="0.85" fill="#970e00"/>
<circle cx="117.7" cy="329.8" r="1.09" fill="#970e00"/>
<circle cx="123.3" cy="333.8" r="0.91" fill="#970e00"/>
<circle cx="126.2" cy="324.4" r="0.91" fill="#970e00"/>
<circle cx="120.6" cy="338.2" r="0.86" fill="#990f00"/>
<circle cx="108.6" cy="333.8" r="0.87" fill="#990f00"/>
<circle cx="129.7" cy="321.8" r="1.03" fill="#9a0f00"/>
<circle cx="111.3" cy="335.6" r="1.00" fill="#9b0f00"/>
<circle cx="113.4" cy="339.8" r="0.98" fill="#9b0f00"/>
<circle cx="109.7" cy="313.9" r="0.91" fill="#9b0f00"/>
<circle cx="99.8" cy="320.4" r="0.92" fill="#9b0f00"/>
<circle cx="122.4" cy="323.6" r="1.09" fill="#9b0f00"/>
<circle cx="102.3" cy="325.9" r="0.94" fill="#9c0f00"/>
<circle cx="106.0" cy="317.9" r="1.10" fill="#9d0f00"/>
<circle cx="133.9" cy="320.4" r="1.07" fill="#9d0f00"/>
<circle cx="117.7" cy="313.0" r="0.88" fill="#9e0f00"/>
<circle cx="119.3" cy="332.9" r="1.06" fill="#9e0f00"/>
<circle cx="114.3" cy="338.0" r="0.86" fill="#9f0f00"/>
<circle cx="120.2" cy="311.3" r="1.03" fill="#9f0f00"/>
<circle cx="110.8" cy="326.1" r="1.05" fill="#a01000"/>
<circle cx="106.2" cy="315.2" r="1.02" fill="#a01000"/>
<circle cx="109.9" cy="325.2" r="0.99" fill="#a01000"/>
<circle cx="108.7" cy="307.7" r="1.05" fill="#a01000"/>
<circle cx="115.4" cy="311.3" r="0.89" fill="#a11000"/>
<circle cx="129.7" cy="317.0" r="0.98" fill="#a21000"/>
<circle cx="113.1" cy="305.0" r="0.92" fill="#a21000"/>
<circle cx="110.1" cy="318.0" r="0.95" fill="#a21000"/>
<circle cx="114.7" cy="337.2" r="0.90" fill="#a41100"/>
<circle cx="115.1" cy="339.4" r="1.03" fill="#a41100"/>
<circle cx="107.0" cy="327.4" r="0.99" fill="#a41100"/>
<circle cx="118.3" cy="326.5" r="1.04" fill="#a51100"/>
<circle cx="116.8" cy="304.7" r="1.01" fill="#a51100"/>
<circle cx="107.8" cy="307.9" r="1.00" fill="#a51100"/>
<circle cx="111.5" cy="310.4" r="1.08" fill="#a51100"/>
<circle cx="120.4" cy="314.4" r="1.05" fill="#a51100"/>
<circle cx="115.8" cy="322.2" r="0.99" fill="#a61200"/>
<circle cx="102.9" cy="320.6" r="0.93" fill="#a61200"/>
<circle cx="114.9" cy="323.9" r="1.08" fill="#a61200"/>
<circle cx="111.3" cy="319.0" r="0.94" fill="#a71200"/>
<circle cx="121.2" cy="307.0" r="0.88" fill="#a71200"/>
<circle cx="102.8" cy="315.7" r="0.93" fill="#a81200"/>
<circle cx="132.0" cy="318.4" r="1.03" fill="#a91300"/>
<circle cx="117.6" cy="331.3" r="1.08" fill="#a91300"/>
<circle cx="121.0" cy="323.7" r="1.01" fill="#a91300"/>
<circle cx="113.2" cy="324.8" r="1.02" fill="#aa1300"/>
<circle cx="114.3" cy="332.9" r="1.08" fill="#ab1300"/>
<circle cx="111.8" cy="326.4" r="1.04" fill="#ac1300"/>
<circle cx="130.4" cy="312.8" r="0.96" fill="#ad1400"/>
<circle cx="99.3" cy="329.1" r="0.97" fill="#ad1400"/>
<circle cx="121.5" cy="339.3" r="1.04" fill="#ad1400"/>
<circle cx="121.7" cy="326.3" r="0.93" fill="#ae1400"/>
<circle cx="127.5" cy="312.3" r="0.88" fill="#ae1400"/>
<circle cx="133.6" cy="318.3" r="1.00" fill="#af1400"/>
<circle cx="116.3" cy="310.3" r="1.05" fill="#af1400"/>
<circle cx="110.1" cy="319.3" r="0.91" fill="#b01500"/>
<circle cx="118.6" cy="311.3" r="1.02" fill="#b01500"/>
<circle cx="121.8" cy="319.9" r="1.07" fill="#b01500"/>
<circle cx="102.2" cy="324.9" r="0.88" fill="#b01500"/>
<circle cx="104.0" cy="312.5" r="0.88" fill="#b01500"/>
<circle cx="122.2" cy="332.6" r="0.97" fill="#b11500"/>
<circle cx="129.8" cy="330.2" r="0.93" fill="#b11500"/>
<circle cx="117.6" cy="339.8" r="1.09" fill="#b21600"/>
<circle cx="112.9" cy="330.5" r="1.10" fill="#b21600"/>
<circle cx="122.9" cy="307.1" r="0.96" fill="#b31600"/>
<circle cx="121.0" cy="312.4" r="1.05" fill="#b31600"/>
<circle cx="127.8" cy="330.3" r="1.01" fill="#b41600"/>
<circle cx="127.6" cy="323.1" r="0.89" fill="#b41600"/>
<circle cx="110.7" cy="309.6" r="1.09" fill="#b41600"/>
<circle cx="122.8" cy="329.3" r="0.89" fill="#b51700"/>
<circle cx="128.6" cy="318.6" r="0.87" fill="#b51700"/>
<circle cx="130.0" cy="318.3" r="0.96" fill="#b61700"/>
<circle cx="114.4" cy="335.8" r="0.85" fill="#b71700"/>
<circle cx="124.4" cy="310.5" r="0.97" fill="#b71700"/>
<circle cx="103.0" cy="311.9" r="0.95" fill="#b71700"/>
<circle cx="125.6" cy="331.8" r="1.09" fill="#b71700"/>
<circle cx="113.9" cy="306.5" r="0.95" fill="#b81800"/>
<circle cx="127.1" cy="321.8" r="1.06" fill="#b91800"/>
<circle cx="117.8" cy="316.5" r="1.04" fill="#ba1800"/>
<circle cx="99.9" cy="314.1" r="1.00" fill="#bb1900"/>
<circle cx="102.6" cy="332.0" r="0.91" fill="#bc1900"/>
<circle cx="107.8" cy="320.0" r="0.93" fill="#bc1900"/>
<circle cx="116.2" cy="317.9" r="0.97" fill="#bc1900"/>
<circle cx="119.5" cy="309.8" r="0.95" fill="#bc1900"/>
<circle cx="122.3" cy="322.1" r="1.01" fill="#bc1900"/>
<circle cx="105.4" cy="319.4" r="0.98" fill="#bd1900"/>
<circle cx="121.8" cy="335.8" r="0.93" fill="#be1a00"/>
<circle cx="100.0" cy="319.2" r="1.00" fill="#be1a00"/>
<circle cx="124.7" cy="331.2" r="1.10" fill="#bf1a00"/>
<circle cx="126.3" cy="316.4" r="0.90" fill="#bf1a00"/>
<circle cx="107.0" cy="323.3" r="0.93" fill="#bf1a00"/>
<circle cx="118.6" cy="319.6" r="0.85" fill="#c11a00"/>
<circle cx="128.9" cy="310.1" r="0.87" fill="#c21b00"/>
<circle cx="110.3" cy="328.7" r="0.86" fill="#c31b00"/>
<circle cx="117.8" cy="329.3" r="0.96" fill="#c41b00"/>
<circle cx="105.4" cy="326.0" r="1.06" fill="#c51c00"/>
<circle cx="117.7" cy="318.0" r="1.02" fill="#c61c00"/>
<circle cx="112.5" cy="311.1" r="1.09" fill="#c71d00"/>
<circle cx="127.0" cy="319.7" r="1.06" fill="#c81d00"/>
<circle cx="105.4" cy="330.4" r="1.00" fill="#c81d00"/>
<circle cx="120.2" cy="322.0" r="1.00" fill="#c91d00"/>
<circle cx="117.6" cy="333.2" r="0.85" fill="#ca1d00"/>
<circle cx="120.9" cy="306.0" r="0.95" fill="#ca1d00"/>
<circle cx="133.4" cy="326.5" r="0.92" fill="#cd1e00"/>
<circle cx="127.5" cy="310.1" r="1.01" fill="#ce1f00"/>
<circle cx="124.9" cy="324.8" r="0.87" fill="#ce1f00"/>
<circle cx="116.2" cy="328.6" r="0.99" fill="#cf1f00"/>
<circle cx="101.4" cy="332.5" r="0.94" fill="#cf1f00"/>
<circle cx="115.2" cy="315.2" r="0.97" fill="#d22000"/>
<circle cx="124.8" cy="330.5" r="0.95" fill="#d22000"/>
<circle cx="125.5" cy="316.0" r="0.88" fill="#d32000"/>
<circle cx="122.4" cy="331.2" r="1.03" fill="#d32100"/>
<circle cx="109.7" cy="333.4" r="1.05" fill="#d42100"/>
<circle cx="104.7" cy="328.8" r="1.00" fill="#d42100"/>
<circle cx="124.9" cy="320.0" r="0.88" fill="#d42100"/>
<circle cx="113.9" cy="337.0" r="1.00" fill="#d42100"/>
<circle cx="109.9" cy="305.9" r="1.07" fill="#d52100"/>
<circle cx="130.7" cy="331.7" r="1.10" fill="#d52100"/>
<circle cx="124.3" cy="326.1" r="1.04" fill="#d52100"/>
<circle cx="129.4" cy="325.0" r="0.86" fill="#d52100"/>
<circle cx="106.4" cy="335.2" r="1.07" fill="#d62100"/>
<circle cx="109.3" cy="327.4" r="1.02" fill="#d62100"/>
<circle cx="124.2" cy="312.6" r="0.92" fill="#d62100"/>
<circle cx="109.2" cy="310.0" r="1.08" fill="#d62100"/>
<circle cx="122.4" cy="320.7" r="1.06" fill="#d62200"/>
<circle cx="108.3" cy="333.3" r="1.07" fill="#d82200"/>
<circle cx="110.0" cy="317.1" r="0.91" fill="#d82200"/>
<circle cx="114.8" cy="334.4" r="0.99" fill="#da2300"/>
<circle cx="108.9" cy="312.7" r="0.94" fill="#dc2300"/>
<circle cx="103.9" cy="310.1" r="0.92" fill="#dc2300"/>
<circle cx="99.8" cy="317.0" r="1.04" fill="#dd2400"/>
<circle cx="119.6" cy="334.1" r="1.00" fill="#de2400"/>
<circle cx="127.9" cy="319.7" r="0.93" fill="#df2400"/>
<circle cx="120.1" cy="335.6" r="0.99" fill="#df2400"/>
<circle cx="118.5" cy="320.9" r="1.08" fill="#df2400"/>
<circle cx="128.6" cy="314.1" r="0.99" fill="#df2400"/>
<circle cx="115.8" cy="306.3" r="1.08" fill="#e12600"/>
<circle cx="102.9" cy="327.8" r="0.99" fill="#e12800"/>
<circle cx="126.3" cy="310.5" r="1.10" fill="#e12800"/>
<circle cx="122.0" cy="309.0" r="0.86" fill="#e12800"/>
<circle cx="116.0" cy="324.6" r="0.96" fill="#e22901"/>
<circle cx="124.8" cy="309.2" r="0.99" fill="#e22a01"/>
<circle cx="106.7" cy="330.1" r="1.03" fill="#e32b01"/>
<circle cx="104.6" cy="327.2" r="1.09" fill="#e32c01"/>
<circle cx="103.8" cy="308.8" r="1.01" fill="#e42e02"/>
<circle cx="126.9" cy="327.3" r="0.97" fill="#e52e02"/>
<circle cx="106.9" cy="324.4" r="1.01" fill="#e63003"/>
<circle cx="106.0" cy="310.4" r="0.98" fill="#e63103"/>
<circle cx="101.0" cy="315.7" r="1.03" fill="#e63103"/>
<circle cx="108.7" cy="320.4" r="1.09" fill="#e63103"/>
<circle cx="112.2" cy="323.9" r="0.85" fill="#e73303"/>
<circle cx="124.0" cy="330.7" r="0.93" fill="#e83504"/>
<circle cx="103.5" cy="330.7" r="1.07" fill="#e93604"/>
<circle cx="115.5" cy="335.3" r="0.86" fill="#e93704"/>
<circle cx="103.3" cy="317.3" r="1.05" fill="#e93704"/>
<circle cx="126.8" cy="333.1" r="0.86" fill="#e93705"/>
<circle cx="123.9" cy="324.8" r="1.01" fill="#e93705"/>
<circle cx="131.5" cy="325.1" r="1.05" fill="#ea3805"/>
<circle cx="108.0" cy="311.9" r="0.91" fill="#ea3905"/>
<circle cx="112.7" cy="327.9" r="0.95" fill="#eb3a05"/>
<circle cx="125.1" cy="311.5" r="0.91" fill="#eb3b06"/>
<circle cx="126.3" cy="309.1" r="1.03" fill="#eb3b06"/>
<circle cx="112.1" cy="331.2" r="0.98" fill="#ec3d06"/>
<circle cx="116.1" cy="334.1" r="1.00" fill="#ed3d06"/>
<circle cx="116.3" cy="321.2" r="0.93" fill="#ee3f07"/>
<circle cx="119.2" cy="313.1" r="1.00" fill="#ee4007"/>
<circle cx="113.0" cy="319.0" r="1.09" fill="#ee4007"/>
<circle cx="111.4" cy="321.7" r="1.04" fill="#ee4007"/>
<circle cx="118.4" cy="315.5" r="1.09" fill="#ef4107"/>
<circle cx="108.3" cy="338.5" r="0.91" fill="#ef4308"/>
<circle cx="128.5" cy="312.9" r="0.98" fill="#ef4308"/>
<circle cx="125.4" cy="335.7" r="0.95" fill="#f04408"/>
<circle cx="111.5" cy="316.6" r="0.94" fill="#f04508"/>
<circle cx="127.2" cy="317.9" r="1.05" fill="#f14508"/>
<circle cx="123.7" cy="309.1" r="0.89" fill="#f14508"/>
<circle cx="127.8" cy="328.6" r="0.99" fill="#f14609"/>
<circle cx="112.1" cy="334.4" r="1.04" fill="#f14609"/>
<circle cx="115.3" cy="326.1" r="1.08" fill="#f44b0a"/>
<circle cx="121.8" cy="317.3" r="0.85" fill="#f44c0a"/>
<circle cx="104.9" cy="313.8" r="0.92" fill="#f44c0a"/>
<circle cx="104.5" cy="311.3" r="0.97" fill="#f44c0a"/>
<circle cx="103.2" cy="313.8" r="1.08" fill="#f54e0b"/>
<circle cx="118.5" cy="323.4" r="0.89" fill="#f64e0b"/>
<circle cx="121.6" cy="330.1" r="1.06" fill="#f64f0b"/>
<circle cx="109.8" cy="311.3" r="0.95" fill="#f7500b"/>
<circle cx="110.7" cy="313.1" r="0.99" fill="#f7510b"/>
<circle cx="126.3" cy="307.3" r="1.08" fill="#f7520c"/>
<circle cx="100.8" cy="331.8" r="0.87" fill="#f8530c"/>
<circle cx="124.7" cy="329.2" r="0.93" fill="#f8530c"/>
<circle cx="116.5" cy="307.2" r="0.89" fill="#f9550d"/>
<circle cx="106.3" cy="314.2" r="0.88" fill="#f9550d"/>
<circle cx="125.4" cy="328.1" r="0.93" fill="#fa570d"/>
<circle cx="110.8" cy="315.2" r="1.03" fill="#fa570d"/>
<circle cx="104.7" cy="322.3" r="1.00" fill="#fa580d"/>
<circle cx="104.8" cy="325.3" r="0.88" fill="#fb590e"/>
<circle cx="126.6" cy="336.1" r="1.05" fill="#fb590e"/>
<circle cx="121.2" cy="336.5" r="0.98" fill="#fb5a0e"/>
<circle cx="120.9" cy="331.5" r="0.89" fill="#fb5a0e"/>
<circle cx="108.6" cy="332.0" r="1.06" fill="#fc5b0e"/>
<circle cx="116.5" cy="336.7" r="1.06" fill="#fe5e0f"/>
<circle cx="99.0" cy="317.2" r="0.90" fill="#ff6010"/>
<circle cx="120.0" cy="326.3" r="1.08" fill="#ff6110"/>
<circle cx="123.7" cy="316.9" r="1.05" fill="#ff6311"/>
<circle cx="103.3" cy="322.2" r="0.91" fill="#ff6311"/>
<circle cx="104.2" cy="317.9" r="0.85" fill="#ff6411"/>
<circle cx="120.2" cy="316.4" r="1.07" fill="#ff6813"/>
<circle cx="123.8" cy="337.9" r="1.06" fill="#ff6813"/>
<circle cx="101.6" cy="326.1" r="0.87" fill="#ff6913"/>
<circle cx="113.8" cy="312.9" r="1.04" fill="#ff6913"/>
<circle cx="129.3" cy="328.0" r="1.04" fill="#ff6b14"/>
<circle cx="103.0" cy="319.2" r="1.01" fill="#ff7217"/>
<circle cx="110.5" cy="320.7" r="1.06" fill="#ff7719"/>
<circle cx="119.3" cy="307.5" r="1.10" fill="#ff7b1b"/>
<circle cx="109.9" cy="334.1" r="0.93" fill="#ff7c1b"/>
<circle cx="123.4" cy="332.8" r="1.06" fill="#ff7c1b"/>
<circle cx="114.2" cy="319.6" r="1.08" fill="#ff821d"/>
<circle cx="128.0" cy="321.8" r="0.93" fill="#ff821d"/>
<circle cx="113.4" cy="329.1" r="1.02" fill="#ff8820"/>
<circle cx="120.6" cy="327.6" r="1.02" fill="#ff8820"/>
<circle cx="125.5" cy="324.0" r="1.06" fill="#ff8c21"/>
<circle cx="120.8" cy="334.6" r="0.99" fill="#ff8e22"/>
<circle cx="124.8" cy="332.7" r="0.92" fill="#ff9123"/>
<circle cx="120.9" cy="329.9" r="0.91" fill="#ff9123"/>
<circle cx="120.9" cy="309.3" r="0.99" fill="#ff9625"/>
<circle cx="127.2" cy="332.0" r="0.88" fill="#ff9e29"/>
<circle cx="119.1" cy="317.1" r="1.06" fill="#ffa42b"/>
<circle cx="108.5" cy="316.7" r="1.07" fill="#ffaa2d"/>
<circle cx="119.9" cy="323.3" r="0.91" fill="#ffab2e"/>
<circle cx="121.3" cy="329.4" r="1.02" fill="#ffad2e"/>
<circle cx="127.6" cy="320.6" r="1.02" fill="#ffb131"/>
<circle cx="116.2" cy="339.5" r="0.88" fill="#ffb334"/>
<circle cx="115.2" cy="321.1" r="1.04" fill="#ffb93b"/>
<circle cx="109.2" cy="337.4" r="1.04" fill="#ffbd41"/>
<circle cx="123.3" cy="328.0" r="0.93" fill="#ffc045"/>
<circle cx="106.9" cy="317.9" r="0.87" fill="#ffc145"/>
<circle cx="124.4" cy="334.6" r="0.92" fill="#ffc145"/>
<circle cx="110.7" cy="327.5" r="1.04" fill="#ffc64c"/>
<circle cx="110.0" cy="307.4" r="0.97" fill="#ffc74d"/>
<circle cx="116.1" cy="314.1" r="1.05" fill="#ffc84f"/>
<circle cx="103.5" cy="332.6" r="0.89" fill="#ffcc53"/>
<circle cx="126.2" cy="312.5" r="0.88" fill="#ffcd55"/>
<circle cx="120.4" cy="333.1" r="0.94" fill="#ffce56"/>
<circle cx="118.9" cy="327.1" r="1.07" fill="#ffd35c"/>
<circle cx="125.6" cy="328.9" r="0.89" fill="#ffd45d"/>
<circle cx="106.2" cy="323.1" r="0.87" fill="#ffd65f"/>
<circle cx="110.8" cy="311.5" r="1.04" fill="#ffd660"/>
<circle cx="122.3" cy="315.8" r="0.87" fill="#ffd862"/>
<circle cx="117.5" cy="327.1" r="1.02" fill="#ffd964"/>
<circle cx="121.8" cy="311.2" r="0.87" fill="#ffdf6b"/>
<circle cx="127.0" cy="315.7" r="0.91" fill="#ffee7e"/>
<circle cx="107.2" cy="312.8" r="1.02" fill="#fff081"/>
<circle cx="113.3" cy="334.0" r="1.07" fill="#fff393"/>
<circle cx="113.1" cy="320.7" r="0.95" fill="#fff393"/>
<circle cx="124.2" cy="323.9" r="0.96" fill="#fff393"/>
<circle cx="108.3" cy="314.6" r="0.86" fill="#fff393"/>
<circle cx="116.9" cy="315.9" r="0.94" fill="#fff393"/>
<circle cx="114.1" cy="328.0" r="0.91" fill="#fff393"/>
<circle cx="120.8" cy="319.7" r="1.05" fill="#fff393"/>
<circle cx="102.4" cy="328.8" r="1.03" fill="#fff393"/>
<circle cx="111.9" cy="313.2" r="1.05" fill="#fff393"/>
<circle cx="112.4" cy="314.0" r="0.98" fill="#fff393"/>
<circle cx="113.7" cy="323.6" r="1.02" fill="#fff393"/>
<circle cx="111.3" cy="330.4" r="0.88" fill="#fff393"/>
<circle cx="121.4" cy="321.3" r="0.95" fill="#fff393"/>
<circle cx="118.9" cy="313.8" r="0.92" fill="#fff393"/>
<circle cx="117.5" cy="324.5" r="0.92" fill="#fff393"/>
</g>
<g filter="url(#bl2)">
<circle cx="169.8" cy="322.2" r="18.1" fill="#400000"/>
<circle cx="168.8" cy="312.8" r="1.09" fill="#680800"/>
<circle cx="179.3" cy="327.7" r="1.09" fill="#690800"/>
<circle cx="182.2" cy="317.4" r="0.98" fill="#690800"/>
<circle cx="161.7" cy="321.2" r="0.99" fill="#6a0800"/>
<circle cx="180.9" cy="316.7" r="0.90" fill="#6a0800"/>
<circle cx="157.7" cy="314.4" r="1.05" fill="#6a0800"/>
<circle cx="183.9" cy="316.9" r="0.97" fill="#6b0800"/>
<circle cx="168.6" cy="334.1" r="1.04" fill="#6b0800"/>
<circle cx="180.2" cy="335.5" r="1.08" fill="#6c0800"/>
<circle cx="180.5" cy="311.4" r="1.01" fill="#6c0800"/>
<circle cx="155.5" cy="324.1" r="1.02" fill="#6c0800"/>
<circle cx="166.3" cy="312.8" r="0.99" fill="#6d0800"/>
<circle cx="169.3" cy="332.9" r="0.88" fill="#6e0800"/>
<circle cx="156.9" cy="323.7" r="0.96" fill="#6e0800"/>
<circle cx="175.6" cy="314.8" r="0.87" fill="#6e0800"/>
<circle cx="156.7" cy="332.0" r="0.90" fill="#6e0800"/>
<circle cx="179.5" cy="322.3" r="1.10" fill="#6f0900"/>
<circle cx="155.4" cy="320.7" r="0.95" fill="#6f0900"/>
<circle cx="184.2" cy="330.6" r="0.88" fill="#700900"/>
<circle cx="155.8" cy="327.4" r="0.96" fill="#700900"/>
<circle cx="167.9" cy="335.8" r="0.87" fill="#700900"/>
<circle cx="178.2" cy="315.8" r="1.00" fill="#700900"/>
<circle cx="161.0" cy="331.3" r="0.91" fill="#700900"/>
<circle cx="167.7" cy="334.1" r="0.90" fill="#710900"/>
<circle cx="164.0" cy="338.3" r="1.01" fill="#710900"/>
<circle cx="177.8" cy="318.3" r="1.08" fill="#720900"/>
<circle cx="173.4" cy="338.0" r="0.85" fill="#720900"/>
<circle cx="164.5" cy="323.3" r="1.03" fill="#720900"/>
<circle cx="151.9" cy="321.5" r="1.00" fill="#730900"/>
<circle cx="155.5" cy="326.6" r="0.97" fill="#730900"/>
<circle cx="163.1" cy="323.8" r="0.96" fill="#740900"/>
<circle cx="179.4" cy="312.8" r="0.85" fill="#740900"/>
<circle cx="184.9" cy="320.0" r="0.94" fill="#750900"/>
<circle cx="165.8" cy="307.2" r="0.98" fill="#760a00"/>
<circle cx="164.2" cy="316.2" r="0.93" fill="#760a00"/>
<circle cx="173.2" cy="306.1" r="1.10" fill="#770a00"/>
<circle cx="155.1" cy="312.8" r="0.94" fill="#770a00"/>
<circle cx="164.8" cy="306.1" r="1.06" fill="#780a00"/>
<circle cx="176.3" cy="306.0" r="1.05" fill="#780a00"/>
<circle cx="182.9" cy="323.9" r="1.05" fill="#7a0a00"/>
<circle cx="172.3" cy="331.9" r="0.97" fill="#7a0a00"/>
<circle cx="169.7" cy="319.2" r="0.97" fill="#7a0a00"/>
<circle cx="154.7" cy="325.1" r="1.06" fill="#7b0a00"/>
<circle cx="181.8" cy="310.6" r="0.88" fill="#7c0a00"/>
<circle cx="183.1" cy="326.6" r="0.91" fill="#7c0a00"/>
<circle cx="183.5" cy="333.6" r="0.85" fill="#7e0b00"/>
<circle cx="171.7" cy="339.4" r="0.97" fill="#7e0b00"/>
<circle cx="171.0" cy="322.1" r="0.96" fill="#7e0b00"/>
<circle cx="168.5" cy="306.1" r="1.09" fill="#7e0b00"/>
<circle cx="152.7" cy="325.1" r="1.08" fill="#7e0b00"/>
<circle cx="163.9" cy="308.0" r="0.95" fill="#7e0b00"/>
<circle cx="171.1" cy="311.9" r="0.97" fill="#7e0b00"/>
<circle cx="178.4" cy="326.7" r="0.88" fill="#800b00"/>
<circle cx="181.7" cy="334.5" r="1.04" fill="#800b00"/>
<circle cx="185.6" cy="314.5" r="0.98" fill="#800b00"/>
<circle cx="183.8" cy="327.5" r="0.89" fill="#800b00"/>
<circle cx="184.5" cy="321.3" r="1.07" fill="#800b00"/>
<circle cx="172.8" cy="312.1" r="0.86" fill="#810b00"/>
<circle cx="177.8" cy="324.8" r="0.90" fill="#810b00"/>
<circle cx="165.2" cy="322.8" r="0.97" fill="#820b00"/>
<circle cx="160.9" cy="325.1" r="1.10" fill="#820b00"/>
<circle cx="175.6" cy="312.6" r="0.88" fill="#820b00"/>
<circle cx="177.3" cy="330.5" r="0.92" fill="#820b00"/>
<circle cx="170.5" cy="304.7" r="1.05" fill="#830b00"/>
<circle cx="166.0" cy="331.8" r="0.93" fill="#830b00"/>
<circle cx="178.0" cy="329.3" r="1.08" fill="#830b00"/>
<circle cx="173.2" cy="304.6" r="0.85" fill="#830b00"/>
<circle cx="170.4" cy="337.1" r="0.91" fill="#830b00"/>
<circle cx="167.0" cy="335.5" r="0.93" fill="#840c00"/>
<circle cx="154.3" cy="328.2" r="1.06" fill="#840c00"/>
<circle cx="163.6" cy="321.9" r="0.88" fill="#850c00"/>
<circle cx="178.3" cy="320.6" r="1.02" fill="#850c00"/>
<circle cx="180.7" cy="322.7" r="1.07" fill="#860c00"/>
<circle cx="173.4" cy="309.2" r="1.09" fill="#860c00"/>
<circle cx="183.5" cy="311.3" r="1.05" fill="#880c00"/>
<circle cx="178.4" cy="331.5" r="0.86" fill="#880c00"/>
<circle cx="154.6" cy="313.9" r="0.97" fill="#880c00"/>
<circle cx="160.7" cy="311.3" r="0.90" fill="#890c00"/>
<circle cx="166.4" cy="309.9" r="0.88" fill="#890c00"/>
<circle cx="159.0" cy="311.6" r="0.91" fill="#890c00"/>
<circle cx="155.2" cy="318.6" r="1.03" fill="#890c00"/>
<circle cx="164.5" cy="305.3" r="0.99" fill="#8a0c00"/>
<circle cx="154.9" cy="331.9" r="0.88" fill="#8a0c00"/>
<circle cx="183.6" cy="314.3" r="0.92" fill="#8a0c00"/>
<circle cx="168.0" cy="304.9" r="0.87" fill="#8b0d00"/>
<circle cx="163.4" cy="328.2" r="1.08" fill="#8b0d00"/>
<circle cx="157.9" cy="322.0" r="1.04" fill="#8b0d00"/>
<circle cx="172.5" cy="327.4" r="0.97" fill="#8b0d00"/>
<circle cx="166.8" cy="316.7" r="1.09" fill="#8c0d00"/>
<circle cx="167.8" cy="338.4" r="1.09" fill="#8c0d00"/>
<circle cx="152.3" cy="322.6" r="0.90" fill="#8f0d00"/>
<circle cx="179.5" cy="330.4" r="0.91" fill="#8f0d00"/>
<circle cx="177.6" cy="332.8" r="0.90" fill="#900d00"/>
<circle cx="161.3" cy="334.6" r="1.01" fill="#900d00"/>
<circle cx="159.3" cy="312.7" r="1.00" fill="#900d00"/>
<circle cx="177.1" cy="319.4" r="0.98" fill="#910d00"/>
<circle cx="158.9" cy="335.6" r="1.04" fill="#910d00"/>
<circle cx="185.5" cy="324.7" r="0.98" fill="#920e00"/>
<circle cx="174.5" cy="317.5" r="0.93" fill="#930e00"/>
<circle cx="181.7" cy="312.6" r="1.02" fill="#930e00"/>
<circle cx="154.0" cy="318.4" r="1.09" fill="#930e00"/>
<circle cx="176.2" cy="316.6" r="0.86" fill="#950e00"/>
<circle cx="154.5" cy="320.1" r="0.97" fill="#950e00"/>
<circle cx="169.7" cy="330.4" r="0.88" fill="#960e00"/>
<circle cx="165.9" cy="334.0" r="1.04" fill="#960e00"/>
<circle cx="170.7" cy="339.8" r="0.96" fill="#960e00"/>
<circle cx="156.2" cy="322.1" r="1.06" fill="#960e00"/>
<circle cx="158.0" cy="329.2" r="1.02" fill="#970e00"/>
<circle cx="179.7" cy="310.3" r="1.09" fill="#990f00"/>
<circle cx="167.6" cy="307.6" r="0.99" fill="#990f00"/>
<circle cx="167.0" cy="333.5" r="1.00" fill="#990f00"/>
<circle cx="185.0" cy="315.3" r="1.09" fill="#990f00"/>
<circle cx="160.0" cy="326.8" r="1.05" fill="#9a0f00"/>
<circle cx="177.8" cy="306.4" r="0.93" fill="#9a0f00"/>
<circle cx="161.5" cy="310.6" r="0.88" fill="#9b0f00"/>
<circle cx="169.6" cy="311.8" r="1.08" fill="#9b0f00"/>
<circle cx="172.1" cy="313.4" r="0.87" fill="#9c0f00"/>
<circle cx="170.6" cy="321.0" r="1.08" fill="#9c0f00"/>
<circle cx="164.0" cy="321.3" r="1.08" fill="#9d0f00"/>
<circle cx="174.6" cy="327.6" r="1.02" fill="#9d0f00"/>
<circle cx="169.6" cy="306.5" r="1.09" fill="#9d0f00"/>
<circle cx="159.2" cy="323.2" r="1.00" fill="#9e0f00"/>
<circle cx="165.1" cy="309.3" r="1.04" fill="#9e0f00"/>
<circle cx="153.0" cy="319.5" r="1.00" fill="#9e0f00"/>
<circle cx="154.7" cy="316.8" r="0.91" fill="#9f0f00"/>
<circle cx="158.0" cy="309.9" r="0.87" fill="#9f0f00"/>
<circle cx="182.0" cy="333.2" r="1.04" fill="#9f0f00"/>
<circle cx="183.2" cy="310.6" r="0.96" fill="#a11000"/>
<circle cx="153.7" cy="320.8" r="0.88" fill="#a11000"/>
<circle cx="162.4" cy="322.4" r="0.99" fill="#a11000"/>
<circle cx="182.7" cy="329.5" r="0.92" fill="#a11000"/>
<circle cx="166.8" cy="339.0" r="0.92" fill="#a11000"/>
<circle cx="179.3" cy="324.6" r="1.07" fill="#a21000"/>
<circle cx="164.4" cy="326.4" r="1.00" fill="#a21000"/>
<circle cx="154.1" cy="322.8" r="1.04" fill="#a21000"/>
<circle cx="175.4" cy="323.5" r="1.05" fill="#a21000"/>
<circle cx="156.8" cy="315.7" r="0.96" fill="#a41100"/>
<circle cx="175.2" cy="315.4" r="0.96" fill="#a41100"/>
<circle cx="157.0" cy="319.3" r="0.96" fill="#a41100"/>
<circle cx="176.4" cy="337.2" r="0.94" fill="#a41100"/>
<circle cx="157.9" cy="318.2" r="1.04" fill="#a51100"/>
<circle cx="172.7" cy="319.6" r="1.07" fill="#a51100"/>
<circle cx="158.5" cy="314.7" r="0.92" fill="#a51100"/>
<circle cx="165.6" cy="315.6" r="1.03" fill="#a61200"/>
<circle cx="159.5" cy="334.6" r="0.90" fill="#a61200"/>
<circle cx="173.8" cy="318.2" r="0.85" fill="#a61200"/>
<circle cx="169.3" cy="307.9" r="1.02" fill="#a71200"/>
<circle cx="166.7" cy="322.0" r="1.04" fill="#a71200"/>
<circle cx="182.8" cy="320.9" r="0.93" fill="#a71200"/>
<circle cx="176.2" cy="325.0" r="1.10" fill="#a81200"/>
<circle cx="172.4" cy="330.9" r="1.03" fill="#a91300"/>
<circle cx="162.4" cy="334.8" r="0.93" fill="#aa1300"/>
<circle cx="180.4" cy="325.3" r="1.04" fill="#aa1300"/>
<circle cx="162.6" cy="307.3" r="1.06" fill="#aa1300"/>
<circle cx="185.9" cy="318.2" r="0.89" fill="#aa1300"/>
<circle cx="169.3" cy="326.3" r="1.08" fill="#ab1300"/>
<circle cx="159.3" cy="315.8" r="0.96" fill="#ab1300"/>
<circle cx="175.8" cy="332.8" r="0.92" fill="#ad1400"/>
<circle cx="186.4" cy="322.5" r="0.94" fill="#ad1400"/>
<circle cx="162.5" cy="328.8" r="0.98" fill="#ad1400"/>
<circle cx="163.3" cy="311.9" r="0.98" fill="#ae1400"/>
<circle cx="179.5" cy="307.3" r="0.92" fill="#af1500"/>
<circle cx="162.9" cy="315.6" r="0.87" fill="#af1500"/>
<circle cx="168.5" cy="330.4" r="1.01" fill="#af1500"/>
<circle cx="162.3" cy="314.7" r="1.03" fill="#af1500"/>
<circle cx="179.7" cy="316.1" r="1.02" fill="#b01500"/>
<circle cx="176.5" cy="307.8" r="0.95" fill="#b11500"/>
<circle cx="178.0" cy="316.8" r="1.06" fill="#b11500"/>
<circle cx="174.1" cy="311.4" r="0.85" fill="#b11500"/>
<circle cx="165.9" cy="317.9" r="0.88" fill="#b11500"/>
<circle cx="182.5" cy="328.1" r="0.85" fill="#b21600"/>
<circle cx="163.1" cy="309.4" r="0.99" fill="#b31600"/>
<circle cx="176.7" cy="321.1" r="0.98" fill="#b31600"/>
<circle cx="161.9" cy="309.2" r="0.91" fill="#b41600"/>
<circle cx="163.2" cy="336.1" r="0.98" fill="#b41600"/>
<circle cx="162.4" cy="331.8" r="0.85" fill="#b41600"/>
<circle cx="182.7" cy="334.0" r="0.86" fill="#b41600"/>
<circle cx="185.6" cy="317.0" r="1.09" fill="#b61700"/>
<circle cx="174.7" cy="322.4" r="1.07" fill="#b61700"/>
<circle cx="163.3" cy="313.2" r="0.87" fill="#b61700"/>
<circle cx="164.1" cy="318.6" r="1.01" fill="#b81800"/>
<circle cx="162.3" cy="330.5" r="0.98" fill="#ba1800"/>
<circle cx="182.1" cy="311.9" r="0.98" fill="#ba1800"/>
<circle cx="163.7" cy="306.0" r="1.06" fill="#ba1800"/>
<circle cx="167.1" cy="330.1" r="1.01" fill="#bb1800"/>
<circle cx="174.9" cy="325.1" r="1.09" fill="#bb1900"/>
<circle cx="174.5" cy="339.0" r="1.02" fill="#bb1900"/>
<circle cx="182.3" cy="319.8" r="1.08" fill="#bc1900"/>
<circle cx="170.1" cy="313.1" r="0.88" fill="#be1a00"/>
<circle cx="156.1" cy="319.8" r="1.06" fill="#bf1a00"/>
<circle cx="174.5" cy="306.5" r="0.93" fill="#bf1a00"/>
<circle cx="175.3" cy="317.9" r="1.08" fill="#bf1a00"/>
<circle cx="172.4" cy="337.5" r="1.05" fill="#bf1a00"/>
<circle cx="165.5" cy="305.0" r="1.09" fill="#c11a00"/>
<circle cx="171.3" cy="338.1" r="1.04" fill="#c11b00"/>
<circle cx="167.5" cy="328.6" r="0.95" fill="#c11b00"/>
<circle cx="186.1" cy="316.1" r="0.98" fill="#c21b00"/>
<circle cx="178.5" cy="337.4" r="1.05" fill="#c31b00"/>
<circle cx="162.8" cy="326.5" r="0.86" fill="#c31b00"/>
<circle cx="153.7" cy="315.6" r="0.98" fill="#c41b00"/>
<circle cx="163.9" cy="314.5" r="0.99" fill="#c51c00"/>
<circle cx="175.7" cy="321.0" r="1.03" fill="#c61c00"/>
<circle cx="176.5" cy="338.7" r="0.94" fill="#c71d00"/>
<circle cx="174.3" cy="319.6" r="1.00" fill="#c81d00"/>
<circle cx="166.2" cy="323.8" r="1.03" fill="#c81d00"/>
<circle cx="177.8" cy="312.1" r="0.95" fill="#cb1e00"/>
<circle cx="183.1" cy="331.4" r="1.02" fill="#cc1e00"/>
<circle cx="172.1" cy="305.4" r="1.08" fill="#ce1f00"/>
<circle cx="185.8" cy="322.2" r="0.94" fill="#ce1f00"/>
<circle cx="173.5" cy="310.2" r="0.98" fill="#ce1f00"/>
<circle cx="162.1" cy="311.5" r="0.97" fill="#cf1f00"/>
<circle cx="178.6" cy="332.7" r="1.06" fill="#cf1f00"/>
<circle cx="175.0" cy="307.7" r="0.92" fill="#cf1f00"/>
<circle cx="165.4" cy="337.5" r="0.92" fill="#d01f00"/>
<circle cx="161.6" cy="313.1" r="0.95" fill="#d12000"/>
<circle cx="161.8" cy="319.8" r="1.01" fill="#d12000"/>
<circle cx="162.0" cy="327.7" r="0.89" fill="#d12000"/>
<circle cx="170.9" cy="307.7" r="1.09" fill="#d12000"/>
<circle cx="176.4" cy="322.8" r="0.98" fill="#d12000"/>
<circle cx="172.1" cy="310.2" r="1.03" fill="#d22000"/>
<circle cx="158.9" cy="333.1" r="0.95" fill="#d22000"/>
<circle cx="160.1" cy="327.5" r="0.86" fill="#d32000"/>
<circle cx="159.0" cy="330.5" r="0.95" fill="#d42100"/>
<circle cx="170.1" cy="326.8" r="0.99" fill="#d42100"/>
<circle cx="174.5" cy="314.4" r="0.87" fill="#d52100"/>
<circle cx="155.0" cy="328.7" r="1.10" fill="#d62100"/>
<circle cx="153.1" cy="327.8" r="1.00" fill="#d72200"/>
<circle cx="167.9" cy="337.3" r="0.96" fill="#d82200"/>
<circle cx="153.9" cy="329.2" r="0.86" fill="#d92200"/>
<circle cx="177.9" cy="327.9" r="0.91" fill="#da2300"/>
<circle cx="168.7" cy="305.4" r="0.93" fill="#da2300"/>
<circle cx="158.6" cy="316.6" r="1.01" fill="#da2300"/>
<circle cx="163.1" cy="333.1" r="0.89" fill="#dc2300"/>
<circle cx="171.4" cy="306.6" r="0.97" fill="#dd2400"/>
<circle cx="186.0" cy="329.4" r="0.92" fill="#de2400"/>
<circle cx="159.2" cy="309.2" r="0.99" fill="#e02500"/>
<circle cx="186.0" cy="320.9" r="1.02" fill="#e02500"/>
<circle cx="176.3" cy="311.6" r="0.98" fill="#e02600"/>
<circle cx="166.0" cy="320.9" r="1.04" fill="#e12700"/>
<circle cx="171.6" cy="327.9" r="1.01" fill="#e12700"/>
<circle cx="172.8" cy="316.5" r="0.87" fill="#e12700"/>
<circle cx="167.1" cy="327.6" r="1.01" fill="#e22901"/>
<circle cx="162.4" cy="306.4" r="0.97" fill="#e22901"/>
<circle cx="155.4" cy="312.0" r="1.04" fill="#e22901"/>
<circle cx="183.7" cy="325.2" r="1.08" fill="#e22a01"/>
<circle cx="184.4" cy="312.7" r="0.94" fill="#e32b01"/>
<circle cx="169.0" cy="318.3" r="1.06" fill="#e42d02"/>
<circle cx="164.8" cy="314.7" r="0.91" fill="#e42d02"/>
<circle cx="175.4" cy="331.6" r="1.01" fill="#e42d02"/>
<circle cx="180.2" cy="334.5" r="0.85" fill="#e42e02"/>
<circle cx="157.3" cy="330.5" r="1.06" fill="#e42e02"/>
<circle cx="174.9" cy="336.0" r="0.96" fill="#e53003"/>
<circle cx="169.0" cy="336.7" r="0.96" fill="#e63103"/>
<circle cx="180.9" cy="314.0" r="0.97" fill="#e63103"/>
<circle cx="178.9" cy="312.1" r="0.94" fill="#e63203"/>
<circle cx="156.2" cy="329.5" r="0.91" fill="#e63203"/>
<circle cx="170.0" cy="327.6" r="1.02" fill="#e73203"/>
<circle cx="153.1" cy="323.5" r="1.01" fill="#e73303"/>
<circle cx="170.8" cy="315.7" r="0.86" fill="#e73404"/>
<circle cx="156.8" cy="321.2" r="0.92" fill="#e83504"/>
<circle cx="177.0" cy="331.4" r="1.08" fill="#e93705"/>
<circle cx="168.1" cy="324.7" r="0.92" fill="#ea3805"/>
<circle cx="184.8" cy="323.9" r="0.92" fill="#eb3a05"/>
<circle cx="173.0" cy="322.4" r="0.99" fill="#eb3a05"/>
<circle cx="179.5" cy="319.3" r="0.94" fill="#eb3a05"/>
<circle cx="166.5" cy="319.7" r="1.09" fill="#ed3e06"/>
<circle cx="160.9" cy="329.1" r="1.10" fill="#ed3e07"/>
<circle cx="157.8" cy="312.1" r="0.88" fill="#ed3e07"/>
<circle cx="173.8" cy="313.2" r="0.91" fill="#ed3f07"/>
<circle cx="160.9" cy="335.5" r="0.89" fill="#ee4007"/>
<circle cx="175.7" cy="330.8" r="0.96" fill="#ee4007"/>
<circle cx="173.1" cy="332.9" r="0.92" fill="#ee4007"/>
<circle cx="175.8" cy="335.7" r="1.02" fill="#ee4007"/>
<circle cx="158.4" cy="320.8" r="1.07" fill="#ef4308"/>
<circle cx="171.8" cy="321.3" r="0.87" fill="#ef4308"/>
<circle cx="177.3" cy="322.6" r="0.86" fill="#f04308"/>
<circle cx="166.5" cy="314.2" r="0.88" fill="#f04408"/>
<circle cx="171.1" cy="319.9" r="0.93" fill="#f04508"/>
<circle cx="159.4" cy="329.3" r="0.88" fill="#f14508"/>
<circle cx="174.8" cy="309.1" r="0.96" fill="#f14508"/>
<circle cx="167.3" cy="326.0" r="0.94" fill="#f14609"/>
<circle cx="186.9" cy="325.1" r="1.03" fill="#f14609"/>
<circle cx="179.7" cy="321.0" r="1.09" fill="#f24709"/>
<circle cx="162.2" cy="333.1" r="1.09" fill="#f24709"/>
<circle cx="161.0" cy="317.4" r="0.96" fill="#f24809"/>
<circle cx="164.8" cy="319.5" r="1.01" fill="#f24809"/>
<circle cx="173.8" cy="329.2" r="0.88" fill="#f34909"/>
<circle cx="176.8" cy="313.0" r="1.00" fill="#f34a0a"/>
<circle cx="166.1" cy="326.3" r="1.07" fill="#f34a0a"/>
<circle cx="164.1" cy="336.7" r="1.07" fill="#f44b0a"/>
<circle cx="176.7" cy="310.3" r="0.89" fill="#f44c0a"/>
<circle cx="162.5" cy="310.4" r="0.89" fill="#f44c0a"/>
<circle cx="171.8" cy="308.0" r="1.08" fill="#f54e0b"/>
<circle cx="169.9" cy="308.5" r="1.02" fill="#f54e0b"/>
<circle cx="181.1" cy="320.6" r="1.04" fill="#f54e0b"/>
<circle cx="167.8" cy="311.3" r="0.87" fill="#f6500b"/>
<circle cx="164.9" cy="338.4" r="1.00" fill="#f7500b"/>
<circle cx="183.2" cy="312.6" r="0.86" fill="#f7520c"/>
<circle cx="175.1" cy="336.8" r="1.03" fill="#f7520c"/>
<circle cx="170.6" cy="310.6" r="1.05" fill="#f8520c"/>
<circle cx="174.8" cy="333.4" r="0.93" fill="#f8530c"/>
<circle cx="181.1" cy="316.1" r="0.85" fill="#f8530c"/>
<circle cx="160.2" cy="307.4" r="1.03" fill="#f8540c"/>
<circle cx="165.5" cy="329.1" r="1.10" fill="#fb590e"/>
<circle cx="170.2" cy="314.6" r="1.01" fill="#fb590e"/>
<circle cx="155.6" cy="317.2" r="0.94" fill="#fb5a0e"/>
<circle cx="162.6" cy="337.4" r="0.93" fill="#fc5a0e"/>
<circle cx="170.9" cy="325.4" r="1.05" fill="#fc5a0e"/>
<circle cx="163.9" cy="316.9" r="1.09" fill="#fc5a0e"/>
<circle cx="182.7" cy="321.9" r="0.94" fill="#fd5d0f"/>
<circle cx="164.7" cy="339.4" r="0.91" fill="#fe5e0f"/>
<circle cx="162.9" cy="321.1" r="1.10" fill="#ff6010"/>
<circle cx="175.6" cy="327.9" r="0.96" fill="#ff6411"/>
<circle cx="158.4" cy="313.4" r="0.96" fill="#ff6411"/>
<circle cx="165.6" cy="311.5" r="0.93" fill="#ff6512"/>
<circle cx="156.4" cy="326.7" r="1.03" fill="#ff6713"/>
<circle cx="167.6" cy="323.5" r="1.10" fill="#ff6813"/>
<circle cx="157.8" cy="323.8" r="0.97" fill="#ff6d15"/>
<circle cx="167.2" cy="325.2" r="1.06" fill="#ff6d15"/>
<circle cx="155.8" cy="333.5" r="0.95" fill="#ff6f16"/>
<circle cx="180.3" cy="330.5" r="0.96" fill="#ff7116"/>
<circle cx="168.9" cy="323.7" r="1.05" fill="#ff7116"/>
<circle cx="180.3" cy="319.5" r="1.09" fill="#ff7317"/>
<circle cx="181.1" cy="327.6" r="1.04" fill="#ff7418"/>
<circle cx="170.7" cy="323.4" r="1.03" fill="#ff7418"/>
<circle cx="160.9" cy="324.0" r="1.06" fill="#ff7418"/>
<circle cx="157.1" cy="318.3" r="1.08" fill="#ff7518"/>
<circle cx="168.3" cy="319.8" r="1.09" fill="#ff7618"/>
<circle cx="167.2" cy="331.5" r="0.98" fill="#ff7719"/>
<circle cx="168.7" cy="329.5" r="0.95" fill="#ff791a"/>
<circle cx="157.9" cy="333.2" r="0.85" fill="#ff7b1a"/>
<circle cx="166.6" cy="311.8" r="0.98" fill="#ff821d"/>
<circle cx="167.7" cy="310.6" r="0.94" fill="#ff821d"/>
<circle cx="173.9" cy="331.3" r="0.85" fill="#ff831e"/>
<circle cx="174.9" cy="334.6" r="1.10" fill="#ff831e"/>
<circle cx="163.2" cy="318.3" r="0.93" fill="#ff841e"/>
<circle cx="171.7" cy="315.6" r="1.08" fill="#ff851e"/>
<circle cx="160.8" cy="318.4" r="0.85" fill="#ff851e"/>
<circle cx="169.0" cy="310.4" r="0.94" fill="#ff8820"/>
<circle cx="168.5" cy="322.4" r="1.05" fill="#ff8920"/>
<circle cx="155.6" cy="330.1" r="1.02" fill="#ff8c21"/>
<circle cx="155.9" cy="325.1" r="1.02" fill="#ff8e22"/>
<circle cx="176.6" cy="326.4" r="0.97" fill="#ff8f23"/>
<circle cx="169.7" cy="335.6" r="0.87" fill="#ff8f23"/>
<circle cx="164.9" cy="312.8" r="1.06" fill="#ff8f23"/>
<circle cx="163.2" cy="320.1" r="1.04" fill="#ff9123"/>
<circle cx="167.8" cy="313.5" r="0.97" fill="#ff9123"/>
<circle cx="172.7" cy="335.6" r="0.99" fill="#ff9424"/>
<circle cx="162.5" cy="325.4" r="1.05" fill="#ff9826"/>
<circle cx="180.0" cy="329.3" r="0.97" fill="#ff9926"/>
<circle cx="185.0" cy="317.9" r="0.97" fill="#ff9926"/>
<circle cx="157.8" cy="316.6" r="0.97" fill="#ff9b27"/>
<circle cx="173.3" cy="337.2" r="1.03" fill="#ff9e29"/>
<circle cx="171.1" cy="333.6" r="1.03" fill="#ff9f29"/>
<circle cx="168.4" cy="308.9" r="0.93" fill="#ffa029"/>
<circle cx="180.9" cy="324.1" r="1.04" fill="#ffa12a"/>
<circle cx="181.0" cy="332.8" r="0.94" fill="#ffa22a"/>
<circle cx="168.1" cy="333.1" r="1.02" fill="#ffa52b"/>
<circle cx="171.6" cy="330.3" r="0.94" fill="#ffa52b"/>
<circle cx="160.7" cy="330.1" r="1.07" fill="#ffa62c"/>
<circle cx="169.5" cy="339.6" r="1.09" fill="#ffa62c"/>
<circle cx="182.2" cy="325.4" r="1.04" fill="#ffa72c"/>
<circle cx="182.5" cy="315.7" r="0.95" fill="#ffac2e"/>
<circle cx="182.2" cy="330.3" r="0.94" fill="#ffac2e"/>
<circle cx="161.0" cy="308.6" r="0.96" fill="#ffad2f"/>
<circle cx="160.5" cy="313.9" r="1.00" fill="#ffaf2f"/>
<circle cx="156.2" cy="314.8" r="0.86" fill="#ffb131"/>
<circle cx="156.4" cy="312.8" r="0.99" fill="#ffb233"/>
<circle cx="159.5" cy="336.9" r="1.08" fill="#ffb333"/>
<circle cx="167.5" cy="315.5" r="0.87" fill="#ffb435"/>
<circle cx="168.3" cy="327.5" r="1.07" fill="#ffb536"/>
<circle cx="165.2" cy="327.6" r="0.99" fill="#ffb637"/>
<circle cx="184.7" cy="329.4" r="1.10" fill="#ffb638"/>
<circle cx="173.9" cy="321.3" r="1.03" fill="#ffb739"/>
<circle cx="178.8" cy="316.9" r="1.03" fill="#ffba3d"/>
<circle cx="170.7" cy="331.5" r="1.04" fill="#ffbc40"/>
<circle cx="186.6" cy="320.1" r="0.96" fill="#ffbd40"/>
<circle cx="168.6" cy="314.2" r="0.88" fill="#ffc044"/>
<circle cx="170.9" cy="336.2" r="1.06" fill="#ffc449"/>
<circle cx="184.4" cy="326.8" r="1.07" fill="#ffc64c"/>
<circle cx="164.1" cy="329.2" r="1.03" fill="#ffc84e"/>
<circle cx="161.9" cy="336.2" r="0.90" fill="#ffc94f"/>
<circle cx="158.5" cy="319.9" r="0.97" fill="#ffcd54"/>
<circle cx="181.8" cy="329.4" r="0.98" fill="#ffcd54"/>
<circle cx="178.0" cy="336.1" r="0.94" fill="#ffd159"/>
<circle cx="172.9" cy="324.7" r="0.97" fill="#ffd45d"/>
<circle cx="168.3" cy="317.0" r="0.96" fill="#ffd963"/>
<circle cx="162.1" cy="317.5" r="1.10" fill="#ffdc67"/>
<circle cx="183.1" cy="318.9" r="1.01" fill="#ffde6a"/>
<circle cx="169.1" cy="315.5" r="1.09" fill="#ffea78"/>
<circle cx="170.3" cy="328.6" r="1.08" fill="#ffeb7a"/>
<circle cx="181.4" cy="318.1" r="0.89" fill="#ffec7c"/>
<circle cx="175.5" cy="320.0" r="1.04" fill="#ffef7f"/>
<circle cx="171.0" cy="318.8" r="0.95" fill="#fff085"/>
<circle cx="171.0" cy="316.5" r="1.00" fill="#fff393"/>
<circle cx="158.5" cy="322.3" r="0.99" fill="#fff393"/>
<circle cx="176.8" cy="323.5" r="1.03" fill="#fff393"/>
<circle cx="180.3" cy="326.7" r="0.93" fill="#fff393"/>
<circle cx="169.2" cy="321.2" r="1.02" fill="#fff393"/>
<circle cx="167.8" cy="321.5" r="0.94" fill="#fff393"/>
<circle cx="185.5" cy="327.8" r="1.05" fill="#fff393"/>
<circle cx="171.0" cy="334.0" r="0.97" fill="#fff393"/>
<circle cx="166.2" cy="306.2" r="1.01" fill="#fff393"/>
<circle cx="173.5" cy="325.9" r="1.10" fill="#fff393"/>
<circle cx="157.8" cy="331.6" r="0.92" fill="#fff393"/>
<circle cx="167.8" cy="318.0" r="0.85" fill="#fff393"/>
<circle cx="164.0" cy="310.2" r="1.07" fill="#fff393"/>
<circle cx="177.7" cy="314.5" r="0.98" fill="#fff393"/>
<circle cx="160.3" cy="333.5" r="1.01" fill="#fff393"/>
<circle cx="181.6" cy="326.5" r="1.06" fill="#fff393"/>
<circle cx="164.8" cy="330.7" r="1.07" fill="#fff393"/>
<circle cx="171.1" cy="314.7" r="0.95" fill="#fff393"/>
<circle cx="172.5" cy="314.0" r="1.10" fill="#fff393"/>
<circle cx="160.8" cy="322.0" r="0.95" fill="#fff393"/>
<circle cx="163.2" cy="325.0" r="1.03" fill="#fff393"/>
<circle cx="158.4" cy="326.2" r="1.06" fill="#fff393"/>
<circle cx="160.2" cy="319.9" r="0.94" fill="#fff393"/>
<circle cx="160.1" cy="310.3" r="0.95" fill="#fff393"/>
<circle cx="178.1" cy="309.8" r="0.94" fill="#fff393"/>
<circle cx="173.5" cy="323.8" r="0.94" fill="#fff393"/>
<circle cx="180.2" cy="318.7" r="0.95" fill="#fff393"/>
<circle cx="175.7" cy="329.1" r="1.06" fill="#fff393"/>
<circle cx="183.3" cy="320.0" r="0.87" fill="#fff393"/>
<circle cx="178.2" cy="323.5" r="1.10" fill="#fff393"/>
<circle cx="171.8" cy="317.9" r="1.05" fill="#fff393"/>
<circle cx="176.8" cy="334.2" r="0.99" fill="#fff393"/>
<circle cx="169.3" cy="331.9" r="1.01" fill="#fff393"/>
<circle cx="180.3" cy="331.7" r="0.92" fill="#fff393"/>
<circle cx="174.0" cy="316.1" r="1.04" fill="#fff393"/>
<circle cx="165.1" cy="336.0" r="1.07" fill="#fff393"/>
<circle cx="169.6" cy="317.3" r="0.95" fill="#fff393"/>
<circle cx="181.9" cy="314.4" r="0.97" fill="#fff393"/>
<circle cx="161.1" cy="326.0" r="0.90" fill="#fff393"/>
<circle cx="163.2" cy="330.5" r="0.91" fill="#fff393"/>
<circle cx="172.2" cy="326.4" r="1.06" fill="#fff393"/>
<circle cx="161.2" cy="315.3" r="1.01" fill="#fff393"/>
<circle cx="176.3" cy="318.8" r="0.96" fill="#fff393"/>
<circle cx="164.4" cy="332.3" r="1.01" fill="#fff393"/>
<circle cx="170.0" cy="325.2" r="0.90" fill="#fff393"/>
</g>
<g filter="url(#bl2)">
<circle cx="224.0" cy="322.6" r="17.8" fill="#400000"/>
<circle cx="225.2" cy="332.6" r="0.96" fill="#680800"/>
<circle cx="227.1" cy="336.2" r="1.01" fill="#680800"/>
<circle cx="211.0" cy="324.6" r="1.02" fill="#680800"/>
<circle cx="223.0" cy="309.5" r="0.92" fill="#690800"/>
<circle cx="230.0" cy="307.0" r="1.02" fill="#6a0800"/>
<circle cx="239.2" cy="313.8" r="1.08" fill="#6a0800"/>
<circle cx="225.6" cy="317.9" r="0.97" fill="#6b0800"/>
<circle cx="233.9" cy="335.6" r="0.95" fill="#6b0800"/>
<circle cx="222.8" cy="333.9" r="1.02" fill="#6b0800"/>
<circle cx="237.9" cy="320.2" r="1.07" fill="#6b0800"/>
<circle cx="225.3" cy="335.3" r="1.02" fill="#6b0800"/>
<circle cx="227.9" cy="305.4" r="1.08" fill="#6d0800"/>
<circle cx="207.5" cy="325.7" r="1.05" fill="#6d0800"/>
<circle cx="217.0" cy="319.4" r="1.09" fill="#6d0800"/>
<circle cx="219.2" cy="330.1" r="0.91" fill="#6e0800"/>
<circle cx="228.5" cy="328.9" r="1.02" fill="#6e0800"/>
<circle cx="222.1" cy="338.3" r="0.90" fill="#6f0900"/>
<circle cx="234.6" cy="332.2" r="0.88" fill="#6f0900"/>
<circle cx="225.5" cy="337.6" r="0.94" fill="#710900"/>
<circle cx="225.9" cy="312.2" r="1.09" fill="#710900"/>
<circle cx="230.3" cy="311.9" r="0.92" fill="#720900"/>
<circle cx="209.9" cy="321.4" r="0.93" fill="#720900"/>
<circle cx="223.9" cy="329.7" r="1.08" fill="#720900"/>
<circle cx="227.0" cy="332.5" r="1.10" fill="#720900"/>
<circle cx="228.3" cy="337.6" r="1.04" fill="#730900"/>
<circle cx="231.2" cy="311.4" r="0.94" fill="#730900"/>
<circle cx="239.5" cy="315.4" r="1.06" fill="#730900"/>
<circle cx="212.6" cy="319.0" r="0.87" fill="#740900"/>
<circle cx="236.8" cy="323.0" r="0.85" fill="#740900"/>
<circle cx="212.7" cy="335.6" r="0.87" fill="#750900"/>
<circle cx="215.4" cy="308.8" r="0.93" fill="#760a00"/>
<circle cx="218.7" cy="326.9" r="0.91" fill="#760a00"/>
<circle cx="223.2" cy="339.6" r="1.06" fill="#760a00"/>
<circle cx="231.6" cy="306.6" r="0.96" fill="#760a00"/>
<circle cx="237.2" cy="328.1" r="1.06" fill="#770a00"/>
<circle cx="225.1" cy="321.6" r="0.97" fill="#770a00"/>
<circle cx="220.7" cy="338.0" r="0.94" fill="#770a00"/>
<circle cx="218.6" cy="307.4" r="0.93" fill="#790a00"/>
<circle cx="220.0" cy="331.0" r="0.86" fill="#790a00"/>
<circle cx="220.4" cy="305.5" r="0.96" fill="#7a0a00"/>
<circle cx="230.8" cy="317.9" r="1.09" fill="#7c0a00"/>
<circle cx="211.5" cy="327.5" r="1.09" fill="#7c0a00"/>
<circle cx="227.8" cy="334.7" r="1.08" fill="#7c0a00"/>
<circle cx="210.7" cy="331.4" r="0.87" fill="#7c0a00"/>
<circle cx="210.3" cy="326.2" r="0.96" fill="#7c0a00"/>
<circle cx="215.8" cy="327.1" r="1.06" fill="#7c0a00"/>
<circle cx="224.1" cy="312.4" r="0.89" fill="#7c0a00"/>
<circle cx="239.1" cy="324.2" r="0.87" fill="#7c0a00"/>
<circle cx="234.0" cy="328.7" r="0.90" fill="#7c0a00"/>
<circle cx="232.5" cy="310.7" r="0.87" fill="#7c0a00"/>
<circle cx="235.3" cy="328.3" r="1.04" fill="#7d0b00"/>
<circle cx="238.6" cy="323.3" r="1.03" fill="#7e0b00"/>
<circle cx="229.1" cy="339.4" r="1.10" fill="#7e0b00"/>
<circle cx="233.4" cy="317.4" r="0.86" fill="#7e0b00"/>
<circle cx="209.9" cy="328.7" r="1.03" fill="#7e0b00"/>
<circle cx="226.1" cy="307.1" r="1.05" fill="#7f0b00"/>
<circle cx="227.0" cy="328.7" r="0.89" fill="#7f0b00"/>
<circle cx="215.1" cy="318.2" r="0.87" fill="#7f0b00"/>
<circle cx="220.9" cy="317.3" r="1.09" fill="#800b00"/>
<circle cx="207.6" cy="328.9" r="1.05" fill="#800b00"/>
<circle cx="232.5" cy="313.7" r="0.87" fill="#810b00"/>
<circle cx="208.2" cy="319.1" r="0.90" fill="#810b00"/>
<circle cx="207.7" cy="318.1" r="1.01" fill="#810b00"/>
<circle cx="217.8" cy="325.7" r="0.89" fill="#810b00"/>
<circle cx="231.4" cy="337.7" r="0.96" fill="#810b00"/>
<circle cx="237.0" cy="320.6" r="0.89" fill="#810b00"/>
<circle cx="214.1" cy="313.7" r="0.87" fill="#810b00"/>
<circle cx="225.9" cy="334.2" r="0.97" fill="#820b00"/>
<circle cx="222.4" cy="305.5" r="0.99" fill="#820b00"/>
<circle cx="222.5" cy="331.4" r="1.06" fill="#820b00"/>
<circle cx="241.4" cy="319.9" r="0.85" fill="#820b00"/>
<circle cx="229.8" cy="318.8" r="0.94" fill="#830b00"/>
<circle cx="227.7" cy="327.3" r="0.87" fill="#840c00"/>
<circle cx="223.4" cy="316.4" r="0.99" fill="#840c00"/>
<circle cx="220.3" cy="316.7" r="0.89" fill="#840c00"/>
<circle cx="230.6" cy="309.4" r="0.93" fill="#840c00"/>
<circle cx="216.9" cy="313.4" r="1.09" fill="#850c00"/>
<circle cx="214.0" cy="332.9" r="1.01" fill="#850c00"/>
<circle cx="219.9" cy="322.8" r="1.02" fill="#850c00"/>
<circle cx="232.0" cy="322.6" r="1.00" fill="#860c00"/>
<circle cx="236.5" cy="333.4" r="0.90" fill="#870c00"/>
<circle cx="226.7" cy="316.8" r="1.02" fill="#870c00"/>
<circle cx="232.7" cy="324.3" r="1.09" fill="#870c00"/>
<circle cx="230.9" cy="321.8" r="0.87" fill="#870c00"/>
<circle cx="220.4" cy="318.7" r="1.06" fill="#880c00"/>
<circle cx="233.8" cy="312.4" r="0.94" fill="#890c00"/>
<circle cx="211.8" cy="312.2" r="0.90" fill="#890c00"/>
<circle cx="216.3" cy="317.9" r="1.01" fill="#890c00"/>
<circle cx="224.4" cy="328.4" r="1.06" fill="#890c00"/>
<circle cx="216.3" cy="336.3" r="0.89" fill="#8a0c00"/>
<circle cx="219.0" cy="305.7" r="0.90" fill="#8a0c00"/>
<circle cx="212.8" cy="330.2" r="0.98" fill="#8a0c00"/>
<circle cx="223.2" cy="305.5" r="0.90" fill="#8b0d00"/>
<circle cx="234.4" cy="311.1" r="0.98" fill="#8b0d00"/>
<circle cx="227.0" cy="320.5" r="1.10" fill="#8c0d00"/>
<circle cx="237.8" cy="318.1" r="0.86" fill="#8c0d00"/>
<circle cx="226.4" cy="311.4" r="0.96" fill="#8c0d00"/>
<circle cx="237.1" cy="332.8" r="0.90" fill="#8c0d00"/>
<circle cx="230.9" cy="334.2" r="0.89" fill="#8d0d00"/>
<circle cx="209.1" cy="325.7" r="1.00" fill="#8d0d00"/>
<circle cx="230.2" cy="323.5" r="1.09" fill="#8d0d00"/>
<circle cx="227.9" cy="333.0" r="0.97" fill="#8e0d00"/>
<circle cx="232.8" cy="319.1" r="0.99" fill="#8e0d00"/>
<circle cx="222.3" cy="308.3" r="1.02" fill="#8e0d00"/>
<circle cx="219.2" cy="339.6" r="1.06" fill="#8e0d00"/>
<circle cx="215.3" cy="323.1" r="1.09" fill="#8f0d00"/>
<circle cx="238.9" cy="329.4" r="0.93" fill="#8f0d00"/>
<circle cx="221.7" cy="335.4" r="0.89" fill="#8f0d00"/>
<circle cx="236.4" cy="315.3" r="1.08" fill="#8f0d00"/>
<circle cx="219.6" cy="336.8" r="1.00" fill="#900d00"/>
<circle cx="206.9" cy="324.3" r="1.07" fill="#900d00"/>
<circle cx="218.5" cy="320.2" r="0.89" fill="#910d00"/>
<circle cx="228.6" cy="307.0" r="1.05" fill="#910d00"/>
<circle cx="220.1" cy="321.5" r="0.88" fill="#910d00"/>
<circle cx="229.8" cy="326.6" r="0.88" fill="#910d00"/>
<circle cx="208.2" cy="329.4" r="0.88" fill="#910d00"/>
<circle cx="217.2" cy="327.1" r="0.94" fill="#910d00"/>
<circle cx="238.4" cy="314.9" r="0.95" fill="#920e00"/>
<circle cx="238.6" cy="321.5" r="1.01" fill="#920e00"/>
<circle cx="226.3" cy="337.6" r="1.08" fill="#920e00"/>
<circle cx="209.3" cy="319.2" r="0.96" fill="#930e00"/>
<circle cx="206.8" cy="320.3" r="0.99" fill="#930e00"/>
<circle cx="229.9" cy="314.2" r="0.95" fill="#930e00"/>
<circle cx="226.3" cy="339.3" r="0.95" fill="#940e00"/>
<circle cx="217.8" cy="308.5" r="0.92" fill="#940e00"/>
<circle cx="220.9" cy="326.0" r="0.85" fill="#940e00"/>
<circle cx="212.0" cy="315.0" r="0.91" fill="#950e00"/>
<circle cx="208.7" cy="318.0" r="1.03" fill="#950e00"/>
<circle cx="217.1" cy="335.6" r="1.05" fill="#960e00"/>
<circle cx="228.2" cy="313.6" r="1.02" fill="#960e00"/>
<circle cx="226.7" cy="307.9" r="0.96" fill="#960e00"/>
<circle cx="213.6" cy="325.9" r="0.95" fill="#970e00"/>
<circle cx="232.5" cy="336.7" r="0.90" fill="#970e00"/>
<circle cx="235.6" cy="320.2" r="0.91" fill="#970e00"/>
<circle cx="221.6" cy="327.6" r="1.10" fill="#980e00"/>
<circle cx="214.5" cy="329.6" r="1.00" fill="#980e00"/>
<circle cx="217.4" cy="338.3" r="0.95" fill="#980e00"/>
<circle cx="211.2" cy="322.2" r="0.98" fill="#980e00"/>
<circle cx="232.1" cy="312.6" r="0.97" fill="#990f00"/>
<circle cx="233.9" cy="330.9" r="0.92" fill="#990f00"/>
<circle cx="226.2" cy="336.5" r="0.95" fill="#990f00"/>
<circle cx="214.7" cy="312.7" r="0.96" fill="#990f00"/>
<circle cx="231.1" cy="314.1" r="1.07" fill="#990f00"/>
<circle cx="220.5" cy="313.5" r="1.07" fill="#990f00"/>
<circle cx="220.9" cy="329.3" r="0.92" fill="#990f00"/>
<circle cx="240.2" cy="317.6" r="0.96" fill="#990f00"/>
<circle cx="240.7" cy="326.6" r="0.91" fill="#990f00"/>
<circle cx="215.8" cy="335.5" r="1.09" fill="#9a0f00"/>
<circle cx="208.7" cy="328.2" r="0.88" fill="#9a0f00"/>
<circle cx="229.4" cy="337.4" r="0.97" fill="#9b0f00"/>
<circle cx="237.0" cy="310.7" r="0.85" fill="#9b0f00"/>
<circle cx="217.8" cy="334.0" r="0.97" fill="#9b0f00"/>
<circle cx="219.1" cy="335.5" r="0.96" fill="#9c0f00"/>
<circle cx="221.5" cy="306.7" r="0.85" fill="#9d0f00"/>
<circle cx="235.2" cy="333.6" r="0.89" fill="#9d0f00"/>
<circle cx="210.0" cy="314.0" r="0.97" fill="#9f0f00"/>
<circle cx="211.9" cy="317.8" r="0.97" fill="#9f0f00"/>
<circle cx="228.9" cy="336.4" r="0.93" fill="#9f0f00"/>
<circle cx="223.9" cy="333.4" r="0.86" fill="#9f0f00"/>
<circle cx="207.8" cy="327.4" r="0.93" fill="#a01000"/>
<circle cx="217.2" cy="329.5" r="0.94" fill="#a11000"/>
<circle cx="219.9" cy="320.6" r="0.88" fill="#a21000"/>
<circle cx="216.0" cy="310.7" r="1.00" fill="#a21000"/>
<circle cx="226.1" cy="328.4" r="0.90" fill="#a31100"/>
<circle cx="229.2" cy="317.8" r="0.98" fill="#a31100"/>
<circle cx="210.6" cy="313.6" r="1.03" fill="#a41100"/>
<circle cx="216.7" cy="333.6" r="0.85" fill="#a41100"/>
<circle cx="214.9" cy="320.3" r="0.97" fill="#a41100"/>
<circle cx="222.2" cy="311.2" r="1.01" fill="#a41100"/>
<circle cx="222.9" cy="328.5" r="1.07" fill="#a41100"/>
<circle cx="238.0" cy="324.6" r="1.02" fill="#a41100"/>
<circle cx="219.4" cy="312.3" r="1.06" fill="#a51100"/>
<circle cx="217.5" cy="321.9" r="1.02" fill="#a51100"/>
<circle cx="223.7" cy="326.7" r="0.91" fill="#a61100"/>
<circle cx="219.7" cy="325.7" r="1.05" fill="#a71200"/>
<circle cx="234.0" cy="321.5" r="1.04" fill="#a71200"/>
<circle cx="229.1" cy="309.4" r="0.97" fill="#a71200"/>
<circle cx="209.6" cy="330.1" r="1.08" fill="#a81200"/>
<circle cx="229.4" cy="320.1" r="0.86" fill="#a81200"/>
<circle cx="228.9" cy="323.5" r="1.08" fill="#a81200"/>
<circle cx="231.8" cy="328.6" r="0.94" fill="#a91200"/>
<circle cx="236.9" cy="317.5" r="0.99" fill="#aa1300"/>
<circle cx="209.2" cy="327.4" r="1.05" fill="#aa1300"/>
<circle cx="212.1" cy="330.8" r="0.89" fill="#aa1300"/>
<circle cx="231.6" cy="309.6" r="0.97" fill="#ab1300"/>
<circle cx="231.0" cy="316.7" r="0.85" fill="#ab1300"/>
<circle cx="229.1" cy="326.1" r="0.86" fill="#ac1300"/>
<circle cx="224.2" cy="330.8" r="1.09" fill="#ac1400"/>
<circle cx="220.1" cy="309.8" r="0.90" fill="#ac1400"/>
<circle cx="218.4" cy="311.2" r="0.96" fill="#ac1400"/>
<circle cx="224.5" cy="325.7" r="0.88" fill="#ac1400"/>
<circle cx="226.2" cy="330.7" r="1.08" fill="#ac1400"/>
<circle cx="208.3" cy="322.2" r="0.98" fill="#ac1400"/>
<circle cx="226.9" cy="330.9" r="1.06" fill="#ad1400"/>
<circle cx="239.6" cy="320.1" r="0.92" fill="#ad1400"/>
<circle cx="222.6" cy="325.7" r="0.97" fill="#ae1400"/>
<circle cx="233.2" cy="316.2" r="0.91" fill="#af1400"/>
<circle cx="226.0" cy="315.1" r="1.00" fill="#b01500"/>
<circle cx="211.7" cy="328.7" r="1.03" fill="#b01500"/>
<circle cx="220.3" cy="334.9" r="0.99" fill="#b01500"/>
<circle cx="221.2" cy="323.3" r="1.00" fill="#b01500"/>
<circle cx="239.1" cy="319.4" r="0.93" fill="#b11500"/>
<circle cx="223.4" cy="314.0" r="1.09" fill="#b11500"/>
<circle cx="226.9" cy="319.4" r="0.85" fill="#b21600"/>
<circle cx="216.5" cy="323.0" r="0.89" fill="#b21600"/>
<circle cx="230.6" cy="320.8" r="1.02" fill="#b41600"/>
<circle cx="215.9" cy="316.4" r="1.09" fill="#b41600"/>
<circle cx="210.8" cy="318.0" r="1.06" fill="#b41600"/>
<circle cx="212.6" cy="311.1" r="0.91" fill="#b41600"/>
<circle cx="224.0" cy="307.3" r="1.09" fill="#b51700"/>
<circle cx="223.9" cy="320.1" r="0.96" fill="#b51700"/>
<circle cx="215.5" cy="336.4" r="0.99" fill="#b51700"/>
<circle cx="225.5" cy="316.8" r="1.01" fill="#b71700"/>
<circle cx="231.1" cy="326.9" r="1.00" fill="#b71700"/>
<circle cx="239.0" cy="327.0" r="1.07" fill="#b71700"/>
<circle cx="232.4" cy="335.6" r="1.07" fill="#b81700"/>
<circle cx="210.7" cy="316.6" r="0.93" fill="#b91800"/>
<circle cx="217.6" cy="314.9" r="1.07" fill="#ba1800"/>
<circle cx="216.2" cy="326.2" r="0.93" fill="#ba1800"/>
<circle cx="209.9" cy="312.7" r="1.02" fill="#bc1900"/>
<circle cx="224.7" cy="323.3" r="0.89" fill="#bc1900"/>
<circle cx="240.1" cy="321.5" r="1.01" fill="#bc1900"/>
<circle cx="208.4" cy="330.9" r="0.93" fill="#bf1a00"/>
<circle cx="236.5" cy="325.4" r="1.10" fill="#bf1a00"/>
<circle cx="222.4" cy="314.0" r="1.02" fill="#bf1a00"/>
<circle cx="240.2" cy="322.7" r="0.95" fill="#c01a00"/>
<circle cx="213.9" cy="322.9" r="1.09" fill="#c11a00"/>
<circle cx="221.0" cy="312.2" r="0.88" fill="#c11b00"/>
<circle cx="226.3" cy="305.8" r="1.04" fill="#c31b00"/>
<circle cx="233.3" cy="315.1" r="1.01" fill="#c41b00"/>
<circle cx="222.7" cy="312.6" r="0.85" fill="#c41b00"/>
<circle cx="218.8" cy="316.0" r="0.96" fill="#c41c00"/>
<circle cx="240.9" cy="324.9" r="0.88" fill="#c41c00"/>
<circle cx="227.4" cy="314.9" r="1.10" fill="#c51c00"/>
<circle cx="230.0" cy="314.9" r="0.87" fill="#c51c00"/>
<circle cx="213.0" cy="313.3" r="1.01" fill="#c61c00"/>
<circle cx="222.3" cy="324.2" r="0.99" fill="#c81d00"/>
<circle cx="220.7" cy="324.1" r="0.88" fill="#c91d00"/>
<circle cx="225.1" cy="329.7" r="1.08" fill="#c91d00"/>
<circle cx="220.0" cy="308.6" r="0.99" fill="#ca1d00"/>
<circle cx="207.9" cy="324.9" r="1.00" fill="#ca1d00"/>
<circle cx="234.2" cy="314.1" r="0.92" fill="#ca1e00"/>
<circle cx="227.1" cy="327.0" r="0.89" fill="#cb1e00"/>
<circle cx="209.3" cy="315.4" r="0.93" fill="#cc1e00"/>
<circle cx="208.7" cy="322.9" r="0.86" fill="#cd1e00"/>
<circle cx="208.0" cy="316.1" r="0.90" fill="#ce1f00"/>
<circle cx="235.6" cy="312.3" r="0.97" fill="#cf1f00"/>
<circle cx="226.2" cy="313.6" r="0.95" fill="#cf1f00"/>
<circle cx="210.8" cy="323.1" r="1.04" fill="#d22000"/>
<circle cx="213.9" cy="317.8" r="0.89" fill="#d32000"/>
<circle cx="227.0" cy="335.5" r="0.90" fill="#d42100"/>
<circle cx="223.8" cy="311.2" r="0.98" fill="#d42100"/>
<circle cx="231.7" cy="326.3" r="1.02" fill="#d42100"/>
<circle cx="229.6" cy="311.0" r="0.93" fill="#d52100"/>
<circle cx="229.5" cy="307.9" r="0.90" fill="#d52100"/>
<circle cx="216.1" cy="309.3" r="0.88" fill="#d72200"/>
<circle cx="237.1" cy="330.9" r="0.94" fill="#d82200"/>
<circle cx="221.9" cy="322.2" r="0.94" fill="#d82200"/>
<circle cx="225.0" cy="324.5" r="1.05" fill="#d82200"/>
<circle cx="214.4" cy="318.9" r="0.91" fill="#d82200"/>
<circle cx="216.1" cy="312.3" r="0.94" fill="#d92200"/>
<circle cx="223.2" cy="319.0" r="1.04" fill="#d92200"/>
<circle cx="240.2" cy="319.0" r="0.90" fill="#da2300"/>
<circle cx="217.0" cy="310.9" r="0.86" fill="#da2300"/>
<circle cx="212.2" cy="325.9" r="1.09" fill="#dc2300"/>
<circle cx="213.6" cy="314.9" r="1.08" fill="#dc2300"/>
<circle cx="237.2" cy="329.8" r="0.93" fill="#dc2300"/>
<circle cx="235.6" cy="319.1" r="0.92" fill="#dc2300"/>
<circle cx="220.8" cy="310.6" r="0.96" fill="#dc2300"/>
<circle cx="227.7" cy="333.5" r="0.90" fill="#dd2400"/>
<circle cx="219.4" cy="317.5" r="1.05" fill="#de2400"/>
<circle cx="227.5" cy="309.4" r="1.07" fill="#de2400"/>
<circle cx="214.6" cy="328.4" r="1.03" fill="#de2400"/>
<circle cx="207.2" cy="323.2" r="0.95" fill="#df2400"/>
<circle cx="221.3" cy="320.2" r="1.06" fill="#e02500"/>
<circle cx="212.3" cy="321.8" r="1.08" fill="#e02500"/>
<circle cx="213.4" cy="331.3" r="0.90" fill="#e02500"/>
<circle cx="216.3" cy="320.6" r="1.02" fill="#e02600"/>
<circle cx="237.0" cy="321.5" r="0.89" fill="#e02600"/>
<circle cx="219.7" cy="328.0" r="1.10" fill="#e02600"/>
<circle cx="215.3" cy="332.9" r="1.05" fill="#e12700"/>
<circle cx="234.8" cy="317.5" r="0.95" fill="#e22901"/>
<circle cx="230.5" cy="331.4" r="1.04" fill="#e22a01"/>
<circle cx="231.7" cy="318.9" r="0.92" fill="#e32b01"/>
<circle cx="238.3" cy="325.8" r="0.87" fill="#e32c01"/>
<circle cx="237.3" cy="327.2" r="0.98" fill="#e42c02"/>
<circle cx="224.6" cy="314.6" r="0.87" fill="#e42d02"/>
<circle cx="209.9" cy="332.2" r="0.96" fill="#e52f02"/>
<circle cx="229.0" cy="312.3" r="1.06" fill="#e63103"/>
<circle cx="237.7" cy="316.5" r="0.99" fill="#e73303"/>
<circle cx="208.5" cy="319.9" r="0.92" fill="#e83504"/>
<circle cx="236.0" cy="314.1" r="0.90" fill="#e93604"/>
<circle cx="216.7" cy="307.0" r="0.99" fill="#e93705"/>
<circle cx="213.7" cy="334.0" r="0.98" fill="#ea3805"/>
<circle cx="213.8" cy="310.0" r="1.08" fill="#ea3805"/>
<circle cx="227.4" cy="325.5" r="0.89" fill="#ea3805"/>
<circle cx="234.2" cy="316.4" r="0.97" fill="#ea3905"/>
<circle cx="224.4" cy="317.4" r="0.96" fill="#eb3b06"/>
<circle cx="221.6" cy="329.6" r="0.94" fill="#ec3b06"/>
<circle cx="220.9" cy="328.9" r="0.90" fill="#ec3d06"/>
<circle cx="230.1" cy="325.5" r="0.95" fill="#ed3e06"/>
<circle cx="211.9" cy="323.1" r="0.99" fill="#ed3e06"/>
<circle cx="219.4" cy="315.2" r="0.90" fill="#ef4107"/>
<circle cx="218.6" cy="332.9" r="0.93" fill="#ef4107"/>
<circle cx="227.5" cy="339.5" r="0.98" fill="#ef4207"/>
<circle cx="214.1" cy="310.9" r="1.09" fill="#ef4208"/>
<circle cx="225.2" cy="313.2" r="0.97" fill="#f04308"/>
<circle cx="215.1" cy="325.6" r="0.94" fill="#f04408"/>
<circle cx="224.8" cy="318.8" r="0.86" fill="#f24709"/>
<circle cx="215.8" cy="321.6" r="0.98" fill="#f24809"/>
<circle cx="238.7" cy="316.2" r="0.94" fill="#f34909"/>
<circle cx="221.6" cy="336.7" r="0.88" fill="#f34909"/>
<circle cx="225.5" cy="325.7" r="0.97" fill="#f44b0a"/>
<circle cx="213.0" cy="326.7" r="1.00" fill="#f44c0a"/>
<circle cx="225.5" cy="310.8" r="0.94" fill="#f44c0a"/>
<circle cx="214.6" cy="331.5" r="1.03" fill="#f44c0a"/>
<circle cx="217.2" cy="324.3" r="1.01" fill="#f64f0b"/>
<circle cx="206.5" cy="321.5" r="0.87" fill="#f64f0b"/>
<circle cx="223.0" cy="337.0" r="0.86" fill="#f7520c"/>
<circle cx="214.0" cy="315.9" r="0.98" fill="#f8530c"/>
<circle cx="227.4" cy="318.1" r="1.00" fill="#fa560d"/>
<circle cx="234.9" cy="309.6" r="0.99" fill="#fc5a0e"/>
<circle cx="238.6" cy="331.3" r="0.91" fill="#ff6210"/>
<circle cx="222.8" cy="306.5" r="0.94" fill="#ff6512"/>
<circle cx="228.4" cy="324.8" r="1.03" fill="#ff6612"/>
<circle cx="219.7" cy="306.9" r="0.95" fill="#ff6913"/>
<circle cx="234.8" cy="315.5" r="0.98" fill="#ff6a14"/>
<circle cx="233.7" cy="323.5" r="0.91" fill="#ff6b14"/>
<circle cx="233.4" cy="325.6" r="1.01" fill="#ff6c15"/>
<circle cx="229.4" cy="331.5" r="0.97" fill="#ff6d15"/>
<circle cx="231.4" cy="308.6" r="0.85" fill="#ff7016"/>
<circle cx="217.6" cy="332.0" r="1.04" fill="#ff7518"/>
<circle cx="227.0" cy="322.9" r="1.05" fill="#ff7518"/>
<circle cx="234.5" cy="324.2" r="1.10" fill="#ff791a"/>
<circle cx="231.7" cy="331.5" r="1.09" fill="#ff7c1b"/>
<circle cx="221.7" cy="316.2" r="1.03" fill="#ff7d1b"/>
<circle cx="209.5" cy="324.9" r="0.97" fill="#ff7d1b"/>
<circle cx="236.2" cy="324.5" r="0.92" fill="#ff811d"/>
<circle cx="222.7" cy="318.0" r="1.03" fill="#ff841e"/>
<circle cx="214.5" cy="324.4" r="0.95" fill="#ff841e"/>
<circle cx="221.5" cy="332.2" r="0.93" fill="#ff841e"/>
<circle cx="216.1" cy="328.5" r="0.88" fill="#ff861f"/>
<circle cx="222.5" cy="314.6" r="1.00" fill="#ff8a21"/>
<circle cx="233.1" cy="309.3" r="1.03" fill="#ff8b21"/>
<circle cx="223.3" cy="334.8" r="1.04" fill="#ff9324"/>
<circle cx="227.7" cy="316.3" r="0.89" fill="#ff9425"/>
<circle cx="221.6" cy="334.0" r="0.90" fill="#ff9625"/>
<circle cx="223.0" cy="324.2" r="1.01" fill="#ff9625"/>
<circle cx="215.5" cy="318.7" r="0.88" fill="#ff9726"/>
<circle cx="211.4" cy="318.7" r="1.07" fill="#ff9c28"/>
<circle cx="228.2" cy="321.4" r="1.08" fill="#ffa12a"/>
<circle cx="229.8" cy="332.0" r="1.01" fill="#ffa92d"/>
<circle cx="225.5" cy="323.2" r="0.92" fill="#ffaf2f"/>
<circle cx="230.2" cy="324.0" r="0.99" fill="#ffb435"/>
<circle cx="226.2" cy="324.7" r="1.04" fill="#ffb537"/>
<circle cx="218.6" cy="324.8" r="0.94" fill="#ffb93c"/>
<circle cx="232.5" cy="330.0" r="1.01" fill="#ffba3c"/>
<circle cx="234.5" cy="329.6" r="1.00" fill="#ffba3d"/>
<circle cx="236.1" cy="316.3" r="1.08" fill="#ffbc3f"/>
<circle cx="224.0" cy="332.3" r="1.04" fill="#ffbd40"/>
<circle cx="219.3" cy="334.0" r="1.02" fill="#ffc247"/>
<circle cx="230.8" cy="328.3" r="0.99" fill="#ffc347"/>
<circle cx="225.1" cy="327.6" r="1.07" fill="#ffc449"/>
<circle cx="213.0" cy="316.5" r="1.00" fill="#ffc54b"/>
<circle cx="235.6" cy="330.9" r="1.02" fill="#ffc54b"/>
<circle cx="229.8" cy="321.7" r="0.93" fill="#ffc64c"/>
<circle cx="228.1" cy="308.4" r="0.88" fill="#ffcf57"/>
<circle cx="220.3" cy="327.2" r="0.99" fill="#ffd964"/>
<circle cx="233.7" cy="320.2" r="0.91" fill="#ffdd69"/>
<circle cx="210.4" cy="314.6" r="1.09" fill="#ffe06d"/>
<circle cx="223.4" cy="321.8" r="0.91" fill="#ffe472"/>
<circle cx="229.9" cy="335.4" r="1.07" fill="#ffe674"/>
<circle cx="222.3" cy="320.0" r="0.93" fill="#ffe977"/>
<circle cx="237.9" cy="319.2" r="0.90" fill="#ffed7c"/>
<circle cx="228.6" cy="315.2" r="0.99" fill="#ffed7c"/>
<circle cx="218.5" cy="319.1" r="0.93" fill="#fff084"/>
<circle cx="218.4" cy="317.3" r="1.10" fill="#fff393"/>
<circle cx="221.8" cy="319.5" r="1.00" fill="#fff393"/>
<circle cx="224.1" cy="336.3" r="0.88" fill="#fff393"/>
<circle cx="217.6" cy="312.1" r="0.93" fill="#fff393"/>
<circle cx="228.3" cy="311.5" r="0.88" fill="#fff393"/>
<circle cx="216.7" cy="331.3" r="0.97" fill="#fff393"/>
<circle cx="231.1" cy="332.0" r="0.98" fill="#fff393"/>
<circle cx="217.2" cy="316.0" r="0.93" fill="#fff393"/>
<circle cx="231.7" cy="320.2" r="1.02" fill="#fff393"/>
<circle cx="212.4" cy="324.0" r="0.96" fill="#fff393"/>
<circle cx="232.5" cy="317.7" r="1.05" fill="#fff393"/>
<circle cx="214.1" cy="321.9" r="1.02" fill="#fff393"/>
</g>
<g filter="url(#bl2)">
<circle cx="278.0" cy="322.6" r="17.5" fill="#400000"/>
<circle cx="282.0" cy="323.9" r="1.02" fill="#680800"/>
<circle cx="290.6" cy="333.8" r="0.96" fill="#680800"/>
<circle cx="278.5" cy="326.3" r="1.03" fill="#680800"/>
<circle cx="284.4" cy="316.9" r="1.04" fill="#690800"/>
<circle cx="281.3" cy="332.8" r="1.04" fill="#690800"/>
<circle cx="268.7" cy="318.9" r="0.96" fill="#690800"/>
<circle cx="272.5" cy="307.4" r="0.89" fill="#690800"/>
<circle cx="278.7" cy="318.5" r="0.89" fill="#6a0800"/>
<circle cx="275.2" cy="339.4" r="0.92" fill="#6a0800"/>
<circle cx="280.3" cy="307.4" r="0.99" fill="#6a0800"/>
<circle cx="274.4" cy="309.0" r="0.86" fill="#6a0800"/>
<circle cx="289.0" cy="327.0" r="0.93" fill="#6b0800"/>
<circle cx="284.1" cy="306.4" r="0.89" fill="#6b0800"/>
<circle cx="262.6" cy="326.9" r="0.98" fill="#6b0800"/>
<circle cx="293.2" cy="327.4" r="0.90" fill="#6b0800"/>
<circle cx="281.2" cy="322.1" r="1.06" fill="#6c0800"/>
<circle cx="285.2" cy="331.3" r="0.87" fill="#6c0800"/>
<circle cx="283.0" cy="317.5" r="0.94" fill="#6c0800"/>
<circle cx="294.1" cy="329.2" r="1.04" fill="#6c0800"/>
<circle cx="277.1" cy="331.2" r="1.06" fill="#6c0800"/>
<circle cx="270.3" cy="324.5" r="0.95" fill="#6d0800"/>
<circle cx="279.4" cy="333.1" r="1.09" fill="#6d0800"/>
<circle cx="274.3" cy="328.8" r="1.07" fill="#6d0800"/>
<circle cx="285.7" cy="327.9" r="0.99" fill="#6d0800"/>
<circle cx="264.6" cy="318.2" r="0.93" fill="#6d0800"/>
<circle cx="265.9" cy="327.2" r="0.90" fill="#6d0800"/>
<circle cx="285.8" cy="332.6" r="1.02" fill="#6d0800"/>
<circle cx="293.8" cy="317.0" r="0.86" fill="#6d0800"/>
<circle cx="268.2" cy="315.1" r="1.01" fill="#6d0800"/>
<circle cx="268.3" cy="324.8" r="0.91" fill="#6e0800"/>
<circle cx="265.0" cy="330.5" r="0.90" fill="#6e0800"/>
<circle cx="265.5" cy="333.0" r="1.00" fill="#6f0900"/>
<circle cx="292.8" cy="325.8" r="0.95" fill="#700900"/>
<circle cx="286.3" cy="334.3" r="0.86" fill="#700900"/>
<circle cx="294.7" cy="319.1" r="0.89" fill="#700900"/>
<circle cx="269.7" cy="333.2" r="1.05" fill="#700900"/>
<circle cx="286.9" cy="335.2" r="0.95" fill="#710900"/>
<circle cx="277.2" cy="307.4" r="1.04" fill="#710900"/>
<circle cx="290.5" cy="327.1" r="1.00" fill="#720900"/>
<circle cx="274.1" cy="307.2" r="0.85" fill="#730900"/>
<circle cx="267.5" cy="329.2" r="0.94" fill="#730900"/>
<circle cx="265.9" cy="315.0" r="1.00" fill="#730900"/>
<circle cx="264.4" cy="331.5" r="0.91" fill="#740900"/>
<circle cx="272.2" cy="321.0" r="0.88" fill="#740900"/>
<circle cx="288.9" cy="330.0" r="1.10" fill="#740900"/>
<circle cx="284.4" cy="334.5" r="0.93" fill="#740900"/>
<circle cx="274.8" cy="321.7" r="1.01" fill="#750900"/>
<circle cx="277.0" cy="320.8" r="0.96" fill="#750900"/>
<circle cx="269.2" cy="326.4" r="1.10" fill="#760a00"/>
<circle cx="278.3" cy="308.5" r="0.91" fill="#760a00"/>
<circle cx="263.5" cy="320.3" r="0.86" fill="#760a00"/>
<circle cx="272.7" cy="326.9" r="1.01" fill="#760a00"/>
<circle cx="286.8" cy="331.4" r="1.02" fill="#760a00"/>
<circle cx="295.1" cy="324.4" r="1.06" fill="#760a00"/>
<circle cx="276.7" cy="325.9" r="0.88" fill="#760a00"/>
<circle cx="277.3" cy="328.7" r="0.89" fill="#770a00"/>
<circle cx="281.2" cy="309.1" r="0.97" fill="#770a00"/>
<circle cx="288.2" cy="321.8" r="0.92" fill="#780a00"/>
<circle cx="271.8" cy="332.5" r="0.88" fill="#780a00"/>
<circle cx="272.6" cy="318.2" r="0.89" fill="#780a00"/>
<circle cx="291.3" cy="332.5" r="0.86" fill="#780a00"/>
<circle cx="271.1" cy="334.3" r="0.96" fill="#790a00"/>
<circle cx="288.6" cy="311.0" r="0.88" fill="#790a00"/>
<circle cx="288.7" cy="332.4" r="0.86" fill="#790a00"/>
<circle cx="285.8" cy="338.0" r="0.87" fill="#790a00"/>
<circle cx="284.5" cy="309.9" r="1.03" fill="#790a00"/>
<circle cx="276.6" cy="315.3" r="1.01" fill="#7a0a00"/>
<circle cx="271.1" cy="307.2" r="0.94" fill="#7a0a00"/>
<circle cx="279.4" cy="324.3" r="1.05" fill="#7b0a00"/>
<circle cx="280.2" cy="328.4" r="0.86" fill="#7b0a00"/>
<circle cx="287.9" cy="309.9" r="0.95" fill="#7c0a00"/>
<circle cx="268.4" cy="326.9" r="1.08" fill="#7c0a00"/>
<circle cx="287.8" cy="331.9" r="0.86" fill="#7c0a00"/>
<circle cx="292.2" cy="313.0" r="0.89" fill="#7c0a00"/>
<circle cx="281.3" cy="328.6" r="0.97" fill="#7c0a00"/>
<circle cx="281.1" cy="319.6" r="0.94" fill="#7c0a00"/>
<circle cx="284.3" cy="313.7" r="0.87" fill="#7d0b00"/>
<circle cx="276.8" cy="334.1" r="1.06" fill="#7d0b00"/>
<circle cx="277.5" cy="316.3" r="1.05" fill="#7d0b00"/>
<circle cx="282.4" cy="306.0" r="1.00" fill="#7d0b00"/>
<circle cx="281.6" cy="315.6" r="0.95" fill="#7d0b00"/>
<circle cx="271.9" cy="308.1" r="0.99" fill="#7d0b00"/>
<circle cx="264.2" cy="320.5" r="0.98" fill="#7e0b00"/>
<circle cx="281.3" cy="307.7" r="0.99" fill="#7e0b00"/>
<circle cx="284.4" cy="327.4" r="0.93" fill="#800b00"/>
<circle cx="281.1" cy="314.1" r="1.05" fill="#800b00"/>
<circle cx="289.8" cy="330.4" r="0.98" fill="#800b00"/>
<circle cx="270.4" cy="316.4" r="0.91" fill="#800b00"/>
<circle cx="277.2" cy="312.6" r="1.00" fill="#810b00"/>
<circle cx="276.9" cy="339.6" r="1.04" fill="#810b00"/>
<circle cx="265.1" cy="315.3" r="0.97" fill="#810b00"/>
<circle cx="263.9" cy="314.1" r="0.93" fill="#810b00"/>
<circle cx="278.1" cy="321.8" r="0.99" fill="#820b00"/>
<circle cx="283.5" cy="321.2" r="1.02" fill="#820b00"/>
<circle cx="283.7" cy="336.8" r="0.90" fill="#830b00"/>
<circle cx="276.0" cy="327.1" r="1.07" fill="#830b00"/>
<circle cx="273.5" cy="336.5" r="0.95" fill="#840c00"/>
<circle cx="266.0" cy="320.6" r="0.95" fill="#850c00"/>
<circle cx="288.2" cy="328.3" r="0.98" fill="#850c00"/>
<circle cx="287.6" cy="312.5" r="1.04" fill="#850c00"/>
<circle cx="262.2" cy="319.7" r="0.89" fill="#850c00"/>
<circle cx="275.2" cy="332.9" r="0.90" fill="#850c00"/>
<circle cx="270.5" cy="327.4" r="0.97" fill="#850c00"/>
<circle cx="282.9" cy="323.4" r="0.85" fill="#850c00"/>
<circle cx="270.3" cy="335.3" r="0.96" fill="#850c00"/>
<circle cx="284.8" cy="326.2" r="0.88" fill="#850c00"/>
<circle cx="279.1" cy="327.2" r="0.90" fill="#850c00"/>
<circle cx="282.2" cy="326.5" r="0.94" fill="#860c00"/>
<circle cx="271.0" cy="315.5" r="1.07" fill="#860c00"/>
<circle cx="262.5" cy="325.2" r="1.00" fill="#860c00"/>
<circle cx="282.5" cy="319.5" r="0.92" fill="#860c00"/>
<circle cx="268.5" cy="335.1" r="1.01" fill="#870c00"/>
<circle cx="264.4" cy="312.8" r="0.98" fill="#870c00"/>
<circle cx="277.3" cy="335.1" r="0.85" fill="#870c00"/>
<circle cx="268.9" cy="323.6" r="0.96" fill="#870c00"/>
<circle cx="279.1" cy="315.3" r="1.03" fill="#870c00"/>
<circle cx="270.0" cy="330.5" r="1.05" fill="#870c00"/>
<circle cx="283.7" cy="319.2" r="1.09" fill="#870c00"/>
<circle cx="275.5" cy="315.5" r="0.85" fill="#880c00"/>
<circle cx="274.5" cy="324.6" r="0.98" fill="#880c00"/>
<circle cx="262.7" cy="317.8" r="0.95" fill="#880c00"/>
<circle cx="287.5" cy="318.9" r="0.96" fill="#890c00"/>
<circle cx="286.1" cy="336.7" r="1.05" fill="#890c00"/>
<circle cx="273.2" cy="311.4" r="0.96" fill="#890c00"/>
<circle cx="271.8" cy="329.7" r="0.99" fill="#8a0c00"/>
<circle cx="268.1" cy="331.4" r="1.04" fill="#8a0c00"/>
<circle cx="289.9" cy="321.7" r="1.07" fill="#8a0c00"/>
<circle cx="278.3" cy="310.0" r="1.00" fill="#8b0d00"/>
<circle cx="280.7" cy="325.0" r="0.98" fill="#8b0d00"/>
<circle cx="267.9" cy="323.0" r="0.88" fill="#8c0d00"/>
<circle cx="279.8" cy="309.7" r="0.94" fill="#8c0d00"/>
<circle cx="277.5" cy="313.7" r="0.90" fill="#8c0d00"/>
<circle cx="273.6" cy="322.2" r="1.04" fill="#8d0d00"/>
<circle cx="269.0" cy="331.5" r="1.02" fill="#8d0d00"/>
<circle cx="263.4" cy="324.4" r="0.88" fill="#8e0d00"/>
<circle cx="284.3" cy="315.7" r="0.99" fill="#8e0d00"/>
<circle cx="292.2" cy="320.5" r="1.07" fill="#8e0d00"/>
<circle cx="273.3" cy="329.8" r="1.06" fill="#8f0d00"/>
<circle cx="280.5" cy="336.8" r="0.94" fill="#8f0d00"/>
<circle cx="274.6" cy="338.5" r="0.94" fill="#900d00"/>
<circle cx="282.4" cy="327.9" r="0.98" fill="#900d00"/>
<circle cx="275.2" cy="331.8" r="0.95" fill="#900d00"/>
<circle cx="275.5" cy="312.3" r="1.09" fill="#910d00"/>
<circle cx="276.4" cy="335.9" r="1.06" fill="#910d00"/>
<circle cx="289.0" cy="317.8" r="1.07" fill="#910d00"/>
<circle cx="271.4" cy="321.8" r="1.10" fill="#910d00"/>
<circle cx="281.2" cy="306.4" r="0.88" fill="#920e00"/>
<circle cx="293.0" cy="323.4" r="1.09" fill="#920e00"/>
<circle cx="265.1" cy="311.3" r="0.94" fill="#920e00"/>
<circle cx="285.8" cy="308.2" r="0.92" fill="#920e00"/>
<circle cx="266.8" cy="319.3" r="1.00" fill="#920e00"/>
<circle cx="290.1" cy="325.2" r="0.95" fill="#930e00"/>
<circle cx="264.0" cy="316.7" r="0.90" fill="#930e00"/>
<circle cx="291.5" cy="319.2" r="1.09" fill="#930e00"/>
<circle cx="264.1" cy="319.6" r="0.90" fill="#930e00"/>
<circle cx="290.5" cy="318.3" r="0.87" fill="#930e00"/>
<circle cx="277.3" cy="322.9" r="0.95" fill="#940e00"/>
<circle cx="288.9" cy="319.2" r="1.06" fill="#940e00"/>
<circle cx="280.1" cy="312.9" r="1.05" fill="#950e00"/>
<circle cx="277.5" cy="330.2" r="0.96" fill="#950e00"/>
<circle cx="276.0" cy="324.8" r="0.95" fill="#960e00"/>
<circle cx="265.7" cy="328.9" r="0.88" fill="#970e00"/>
<circle cx="268.3" cy="330.1" r="1.05" fill="#970e00"/>
<circle cx="292.1" cy="331.6" r="1.04" fill="#970e00"/>
<circle cx="287.4" cy="330.1" r="0.90" fill="#970e00"/>
<circle cx="275.1" cy="310.2" r="1.02" fill="#970e00"/>
<circle cx="266.0" cy="312.8" r="1.07" fill="#970e00"/>
<circle cx="279.5" cy="329.7" r="0.94" fill="#970e00"/>
<circle cx="276.7" cy="338.3" r="0.91" fill="#990f00"/>
<circle cx="278.5" cy="307.3" r="1.04" fill="#990f00"/>
<circle cx="275.8" cy="320.7" r="1.01" fill="#990f00"/>
<circle cx="274.0" cy="309.9" r="0.95" fill="#990f00"/>
<circle cx="283.7" cy="335.3" r="0.85" fill="#9a0f00"/>
<circle cx="294.2" cy="318.2" r="0.93" fill="#9a0f00"/>
<circle cx="289.1" cy="314.3" r="1.03" fill="#9a0f00"/>
<circle cx="292.3" cy="315.5" r="0.90" fill="#9b0f00"/>
<circle cx="269.2" cy="315.6" r="0.97" fill="#9b0f00"/>
<circle cx="269.7" cy="313.1" r="1.04" fill="#9c0f00"/>
<circle cx="280.8" cy="335.9" r="0.94" fill="#9c0f00"/>
<circle cx="265.9" cy="317.9" r="0.88" fill="#9c0f00"/>
<circle cx="272.3" cy="331.0" r="1.02" fill="#9c0f00"/>
<circle cx="275.3" cy="307.4" r="1.02" fill="#9d0f00"/>
<circle cx="276.1" cy="333.1" r="1.00" fill="#9d0f00"/>
<circle cx="287.4" cy="311.6" r="1.08" fill="#9d0f00"/>
<circle cx="273.6" cy="321.1" r="0.94" fill="#9e0f00"/>
<circle cx="279.8" cy="320.8" r="0.98" fill="#9e0f00"/>
<circle cx="274.4" cy="305.6" r="0.96" fill="#9e0f00"/>
<circle cx="282.6" cy="321.6" r="1.06" fill="#9f0f00"/>
<circle cx="282.0" cy="314.0" r="0.93" fill="#9f0f00"/>
<circle cx="279.2" cy="319.8" r="0.91" fill="#9f0f00"/>
<circle cx="282.7" cy="311.1" r="0.94" fill="#9f0f00"/>
<circle cx="275.4" cy="317.6" r="1.06" fill="#9f0f00"/>
<circle cx="291.0" cy="315.3" r="1.04" fill="#a01000"/>
<circle cx="283.2" cy="331.8" r="0.90" fill="#a11000"/>
<circle cx="280.1" cy="331.5" r="1.05" fill="#a11000"/>
<circle cx="261.3" cy="318.2" r="1.10" fill="#a11000"/>
<circle cx="271.3" cy="323.2" r="0.93" fill="#a21000"/>
<circle cx="282.4" cy="337.9" r="1.05" fill="#a21000"/>
<circle cx="283.7" cy="322.0" r="1.02" fill="#a31100"/>
<circle cx="275.0" cy="327.8" r="1.00" fill="#a41100"/>
<circle cx="272.8" cy="319.3" r="0.91" fill="#a51100"/>
<circle cx="273.7" cy="324.5" r="0.85" fill="#a51100"/>
<circle cx="283.0" cy="334.1" r="1.07" fill="#a51100"/>
<circle cx="289.4" cy="323.5" r="0.93" fill="#a71200"/>
<circle cx="286.8" cy="322.5" r="1.06" fill="#a81200"/>
<circle cx="269.6" cy="334.2" r="1.06" fill="#a91200"/>
<circle cx="284.4" cy="338.2" r="1.06" fill="#a91200"/>
<circle cx="289.6" cy="314.9" r="1.03" fill="#aa1300"/>
<circle cx="275.8" cy="328.5" r="1.03" fill="#ab1300"/>
<circle cx="292.1" cy="316.6" r="1.06" fill="#ab1300"/>
<circle cx="278.2" cy="339.6" r="1.09" fill="#ac1400"/>
<circle cx="285.4" cy="324.4" r="1.08" fill="#ac1400"/>
<circle cx="266.4" cy="323.8" r="1.07" fill="#ad1400"/>
<circle cx="284.6" cy="312.3" r="0.93" fill="#ad1400"/>
<circle cx="265.7" cy="321.9" r="1.08" fill="#ad1400"/>
<circle cx="289.1" cy="326.2" r="0.87" fill="#ae1400"/>
<circle cx="286.2" cy="309.5" r="0.90" fill="#ae1400"/>
<circle cx="271.6" cy="316.7" r="1.07" fill="#af1500"/>
<circle cx="274.6" cy="330.6" r="0.99" fill="#b01500"/>
<circle cx="286.2" cy="321.0" r="1.09" fill="#b01500"/>
<circle cx="275.4" cy="334.3" r="0.93" fill="#b11500"/>
<circle cx="291.2" cy="320.2" r="0.87" fill="#b11500"/>
<circle cx="278.0" cy="324.6" r="0.89" fill="#b21500"/>
<circle cx="289.2" cy="328.8" r="1.07" fill="#b21600"/>
<circle cx="281.6" cy="310.1" r="1.05" fill="#b21600"/>
<circle cx="276.4" cy="330.3" r="0.96" fill="#b31600"/>
<circle cx="281.8" cy="336.4" r="1.01" fill="#b41600"/>
<circle cx="278.3" cy="321.2" r="0.86" fill="#b51600"/>
<circle cx="276.8" cy="318.3" r="1.08" fill="#b51700"/>
<circle cx="269.1" cy="328.5" r="0.92" fill="#b61700"/>
<circle cx="270.8" cy="331.1" r="0.90" fill="#b71700"/>
<circle cx="283.7" cy="309.7" r="0.97" fill="#b71700"/>
<circle cx="269.8" cy="313.6" r="0.97" fill="#b81700"/>
<circle cx="273.5" cy="315.0" r="0.97" fill="#b91800"/>
<circle cx="274.4" cy="319.7" r="1.03" fill="#b91800"/>
<circle cx="287.1" cy="327.8" r="0.90" fill="#b91800"/>
<circle cx="267.0" cy="333.1" r="1.05" fill="#ba1800"/>
<circle cx="291.0" cy="326.2" r="0.93" fill="#ba1800"/>
<circle cx="269.3" cy="310.2" r="0.95" fill="#bc1900"/>
<circle cx="278.4" cy="312.3" r="1.07" fill="#bd1900"/>
<circle cx="289.8" cy="331.9" r="1.03" fill="#bd1900"/>
<circle cx="273.3" cy="332.8" r="1.03" fill="#be1a00"/>
<circle cx="267.4" cy="327.3" r="1.05" fill="#bf1a00"/>
<circle cx="266.7" cy="313.9" r="0.96" fill="#c01a00"/>
<circle cx="285.2" cy="319.1" r="0.94" fill="#c01a00"/>
<circle cx="281.5" cy="312.7" r="0.98" fill="#c21b00"/>
<circle cx="294.4" cy="326.2" r="1.06" fill="#c41b00"/>
<circle cx="265.3" cy="324.3" r="0.89" fill="#c61c00"/>
<circle cx="270.7" cy="318.3" r="1.03" fill="#c81d00"/>
<circle cx="267.5" cy="334.5" r="0.97" fill="#c81d00"/>
<circle cx="280.5" cy="315.1" r="1.09" fill="#c91d00"/>
<circle cx="272.2" cy="334.4" r="1.03" fill="#cd1e00"/>
<circle cx="293.5" cy="319.2" r="1.08" fill="#ce1f00"/>
<circle cx="278.1" cy="333.0" r="0.95" fill="#ce1f00"/>
<circle cx="273.9" cy="326.1" r="0.97" fill="#cf1f00"/>
<circle cx="276.7" cy="319.5" r="0.91" fill="#d02000"/>
<circle cx="288.2" cy="315.4" r="0.90" fill="#d22000"/>
<circle cx="278.5" cy="334.1" r="0.93" fill="#d42100"/>
<circle cx="268.8" cy="321.9" r="0.90" fill="#d52100"/>
<circle cx="290.8" cy="331.9" r="1.01" fill="#d52100"/>
<circle cx="286.5" cy="326.3" r="0.99" fill="#d72200"/>
<circle cx="293.8" cy="322.9" r="1.03" fill="#d92200"/>
<circle cx="280.9" cy="311.1" r="1.04" fill="#d92300"/>
<circle cx="273.1" cy="317.1" r="1.09" fill="#da2300"/>
<circle cx="268.2" cy="317.5" r="0.98" fill="#db2300"/>
<circle cx="278.5" cy="336.6" r="1.00" fill="#dc2300"/>
<circle cx="285.0" cy="321.0" r="0.98" fill="#e02500"/>
<circle cx="278.8" cy="328.6" r="0.97" fill="#e02600"/>
<circle cx="272.2" cy="310.3" r="0.94" fill="#e02600"/>
<circle cx="285.2" cy="316.7" r="0.93" fill="#e02600"/>
<circle cx="275.1" cy="311.4" r="0.93" fill="#e02600"/>
<circle cx="291.4" cy="323.3" r="0.98" fill="#e12800"/>
<circle cx="285.2" cy="329.0" r="0.96" fill="#e22901"/>
<circle cx="289.9" cy="317.1" r="0.99" fill="#e32b01"/>
<circle cx="269.1" cy="336.9" r="1.02" fill="#e32c02"/>
<circle cx="270.8" cy="329.1" r="1.10" fill="#e42d02"/>
<circle cx="278.8" cy="322.9" r="1.00" fill="#e42d02"/>
<circle cx="272.0" cy="324.6" r="1.10" fill="#e52e02"/>
<circle cx="283.5" cy="312.5" r="0.93" fill="#e63003"/>
<circle cx="273.4" cy="337.9" r="1.00" fill="#e63103"/>
<circle cx="277.5" cy="311.6" r="1.00" fill="#e73303"/>
<circle cx="273.7" cy="334.0" r="0.96" fill="#e73303"/>
<circle cx="271.5" cy="319.0" r="0.96" fill="#e83504"/>
<circle cx="261.2" cy="323.7" r="0.91" fill="#e83504"/>
<circle cx="266.7" cy="329.7" r="1.10" fill="#e83504"/>
<circle cx="279.9" cy="323.3" r="0.87" fill="#e93604"/>
<circle cx="277.5" cy="327.8" r="1.05" fill="#ea3905"/>
<circle cx="272.1" cy="323.9" r="0.97" fill="#ec3c06"/>
<circle cx="281.7" cy="318.3" r="0.94" fill="#ef4107"/>
<circle cx="262.3" cy="321.8" r="0.93" fill="#f04308"/>
<circle cx="286.8" cy="313.0" r="1.09" fill="#f34909"/>
<circle cx="292.0" cy="327.4" r="0.93" fill="#f34909"/>
<circle cx="264.4" cy="323.7" r="0.99" fill="#f8530c"/>
<circle cx="273.6" cy="312.7" r="0.95" fill="#f9550d"/>
<circle cx="275.0" cy="325.6" r="1.02" fill="#f9560d"/>
<circle cx="269.6" cy="319.2" r="0.99" fill="#f9560d"/>
<circle cx="284.5" cy="324.7" r="0.98" fill="#fc5b0e"/>
<circle cx="285.0" cy="323.9" r="0.88" fill="#fd5c0f"/>
<circle cx="282.1" cy="320.3" r="0.86" fill="#fd5d0f"/>
<circle cx="266.2" cy="331.9" r="1.01" fill="#ff6110"/>
<circle cx="277.6" cy="319.2" r="0.85" fill="#ff6311"/>
<circle cx="270.6" cy="320.4" r="0.98" fill="#ff6a14"/>
<circle cx="263.6" cy="322.5" r="0.92" fill="#ff6a14"/>
<circle cx="280.1" cy="326.4" r="1.04" fill="#ff6f16"/>
<circle cx="265.2" cy="316.8" r="0.93" fill="#ff7116"/>
<circle cx="279.6" cy="321.8" r="0.86" fill="#ff7719"/>
<circle cx="274.9" cy="335.1" r="0.89" fill="#ff7819"/>
<circle cx="275.8" cy="316.5" r="0.93" fill="#ff841e"/>
<circle cx="287.7" cy="320.8" r="1.01" fill="#ff8e22"/>
<circle cx="276.7" cy="310.1" r="1.03" fill="#ffb739"/>
<circle cx="281.8" cy="331.4" r="1.06" fill="#ffeb79"/>
<circle cx="271.7" cy="326.9" r="1.09" fill="#fff393"/>
<circle cx="273.7" cy="323.8" r="0.99" fill="#fff393"/>
<circle cx="285.1" cy="318.5" r="0.86" fill="#fff393"/>
</g>
<circle cx="19.2" cy="294.0" r="3.3" fill="#000"/>
<line x1="19.2" y1="294.0" x2="19.2" y2="284.0" stroke="#000" stroke-width="1.1"/>
<polygon points="15.7,284.6 22.7,284.6 19.2,277.0" fill="#000"/>
<line x1="19.2" y1="294.0" x2="29.2" y2="294.0" stroke="#000" stroke-width="1.1"/>
<polygon points="28.799999999999997,290.5 28.799999999999997,297.5 36.099999999999994,294.0" fill="#000"/>
<text x="24.50" y="279.50" font-size="11" text-anchor="start" fill="#000" stroke="#000" stroke-width="0.15" font-weight="normal" font-style="italic" >z</text>
<text x="34.30" y="290.10" font-size="11" text-anchor="start" fill="#000" stroke="#000" stroke-width="0.15" font-weight="normal" font-style="italic" >y</text>
<circle cx="19.2" cy="364.1" r="3.3" fill="#000"/>
<line x1="19.2" y1="364.1" x2="19.2" y2="354.1" stroke="#000" stroke-width="1.1"/>
<polygon points="15.7,354.70000000000005 22.7,354.70000000000005 19.2,347.1" fill="#000"/>
<line x1="19.2" y1="364.1" x2="29.2" y2="364.1" stroke="#000" stroke-width="1.1"/>
<polygon points="28.799999999999997,360.6 28.799999999999997,367.6 36.099999999999994,364.1" fill="#000"/>
<text x="24.50" y="349.60" font-size="11" text-anchor="start" fill="#000" stroke="#000" stroke-width="0.15" font-weight="normal" font-style="italic" >x</text>
<text x="34.30" y="360.20" font-size="11" text-anchor="start" fill="#000" stroke="#000" stroke-width="0.15" font-weight="normal" font-style="italic" >y</text>
<text x="340.20" y="13.30" font-size="15" text-anchor="start" fill="#000" stroke="#000" stroke-width="0" font-weight="bold" font-style="normal" >b</text>
<rect x="390.5" y="30.6" width="83.10" height="122.20" fill="#f0f0f0"/>
<rect x="585.6" y="30.6" width="83.20" height="122.20" fill="#f0f0f0"/>
<line x1="473.6" y1="30.6" x2="473.6" y2="152.8" stroke="#a4a4a4" stroke-width="0.9" stroke-dasharray="1.6,1.7"/>
<line x1="585.6" y1="30.6" x2="585.6" y2="152.8" stroke="#a4a4a4" stroke-width="0.9" stroke-dasharray="1.6,1.7"/>
<line x1="390.5" y1="30.6" x2="390.5" y2="152.8" stroke="#231f20" stroke-width="1.3"/>
<line x1="390.5" y1="152.80" x2="393.1" y2="152.80" stroke="#231f20" stroke-width="1"/>
<text x="385.60" y="157.10" font-size="11" text-anchor="end" fill="#231f20" stroke="#231f20" stroke-width="0.15" font-weight="normal" font-style="normal" >0.0</text>
<line x1="390.5" y1="132.50" x2="393.1" y2="132.50" stroke="#231f20" stroke-width="1"/>
<text x="385.60" y="136.80" font-size="11" text-anchor="end" fill="#231f20" stroke="#231f20" stroke-width="0.15" font-weight="normal" font-style="normal" >0.2</text>
<line x1="390.5" y1="112.20" x2="393.1" y2="112.20" stroke="#231f20" stroke-width="1"/>
<text x="385.60" y="116.50" font-size="11" text-anchor="end" fill="#231f20" stroke="#231f20" stroke-width="0.15" font-weight="normal" font-style="normal" >0.4</text>
<line x1="390.5" y1="91.90" x2="393.1" y2="91.90" stroke="#231f20" stroke-width="1"/>
<text x="385.60" y="96.20" font-size="11" text-anchor="end" fill="#231f20" stroke="#231f20" stroke-width="0.15" font-weight="normal" font-style="normal" >0.6</text>
<line x1="390.5" y1="71.60" x2="393.1" y2="71.60" stroke="#231f20" stroke-width="1"/>
<text x="385.60" y="75.90" font-size="11" text-anchor="end" fill="#231f20" stroke="#231f20" stroke-width="0.15" font-weight="normal" font-style="normal" >0.8</text>
<line x1="390.5" y1="51.30" x2="393.1" y2="51.30" stroke="#231f20" stroke-width="1"/>
<text x="385.60" y="55.60" font-size="11" text-anchor="end" fill="#231f20" stroke="#231f20" stroke-width="0.15" font-weight="normal" font-style="normal" >1.0</text>
<line x1="390.5" y1="152.8" x2="668.8" y2="152.8" stroke="#231f20" stroke-width="1.3"/>
<line x1="400.50" y1="152.8" x2="400.50" y2="150.20000000000002" stroke="#231f20" stroke-width="1"/>
<line x1="422.00" y1="152.8" x2="422.00" y2="150.20000000000002" stroke="#231f20" stroke-width="1"/>
<line x1="443.50" y1="152.8" x2="443.50" y2="150.20000000000002" stroke="#231f20" stroke-width="1"/>
<line x1="465.00" y1="152.8" x2="465.00" y2="150.20000000000002" stroke="#231f20" stroke-width="1"/>
<line x1="486.50" y1="152.8" x2="486.50" y2="150.20000000000002" stroke="#231f20" stroke-width="1"/>
<line x1="508.00" y1="152.8" x2="508.00" y2="150.20000000000002" stroke="#231f20" stroke-width="1"/>
<line x1="529.50" y1="152.8" x2="529.50" y2="150.20000000000002" stroke="#231f20" stroke-width="1"/>
<line x1="551.00" y1="152.8" x2="551.00" y2="150.20000000000002" stroke="#231f20" stroke-width="1"/>
<line x1="572.50" y1="152.8" x2="572.50" y2="150.20000000000002" stroke="#231f20" stroke-width="1"/>
<line x1="594.00" y1="152.8" x2="594.00" y2="150.20000000000002" stroke="#231f20" stroke-width="1"/>
<line x1="615.50" y1="152.8" x2="615.50" y2="150.20000000000002" stroke="#231f20" stroke-width="1"/>
<line x1="637.00" y1="152.8" x2="637.00" y2="150.20000000000002" stroke="#231f20" stroke-width="1"/>
<line x1="658.50" y1="152.8" x2="658.50" y2="150.20000000000002" stroke="#231f20" stroke-width="1"/>
<text x="400.50" y="166.50" font-size="11" text-anchor="middle" fill="#231f20" stroke="#231f20" stroke-width="0.15" font-weight="normal" font-style="normal" >–300</text>
<text x="443.50" y="166.50" font-size="11" text-anchor="middle" fill="#231f20" stroke="#231f20" stroke-width="0.15" font-weight="normal" font-style="normal" >–200</text>
<text x="486.50" y="166.50" font-size="11" text-anchor="middle" fill="#231f20" stroke="#231f20" stroke-width="0.15" font-weight="normal" font-style="normal" >–100</text>
<text x="529.50" y="166.50" font-size="11" text-anchor="middle" fill="#231f20" stroke="#231f20" stroke-width="0.15" font-weight="normal" font-style="normal" >0</text>
<text x="572.50" y="166.50" font-size="11" text-anchor="middle" fill="#231f20" stroke="#231f20" stroke-width="0.15" font-weight="normal" font-style="normal" >100</text>
<text x="615.50" y="166.50" font-size="11" text-anchor="middle" fill="#231f20" stroke="#231f20" stroke-width="0.15" font-weight="normal" font-style="normal" >200</text>
<text x="658.50" y="166.50" font-size="11" text-anchor="middle" fill="#231f20" stroke="#231f20" stroke-width="0.15" font-weight="normal" font-style="normal" >300</text>
<text x="529.00" y="181.60" font-size="11" text-anchor="middle" fill="#231f20" stroke="#231f20" stroke-width="0.15" font-weight="normal" font-style="normal" >Axial position (µm)</text>
<text transform="translate(348.3,93.3) rotate(-90)" font-size="11" text-anchor="middle" fill="#231f20" stroke="#231f20" stroke-width="0.15">Fluorescence intensity</text>
<text transform="translate(361.5,93.0) rotate(-90)" font-size="11" text-anchor="middle" fill="#231f20" stroke="#231f20" stroke-width="0.15">(a.u.)</text>
<path d="M391.30,152.01 L391.55,151.98 L391.80,151.95 L392.05,151.92 L392.30,151.88 L392.55,151.85 L392.80,151.81 L393.05,151.78 L393.30,151.73 L393.55,151.69 L393.80,151.65 L394.05,151.60 L394.30,151.55 L394.55,151.50 L394.80,151.44 L395.05,151.38 L395.30,151.31 L395.55,151.24 L395.80,151.17 L396.05,151.09 L396.30,151.01 L396.55,150.92 L396.80,150.82 L397.05,150.72 L397.30,150.60 L397.55,150.49 L397.80,150.36 L398.05,150.23 L398.30,150.09 L398.55,149.96 L398.78,149.85 L398.80,149.86 L399.05,149.97 L399.30,150.09 L399.55,150.22 L399.80,150.34 L400.05,150.46 L400.30,150.57 L400.55,150.67 L400.80,150.76 L401.05,150.85 L401.30,150.93 L401.55,151.00 L401.80,151.07 L402.05,151.13 L402.30,151.19 L402.55,151.25 L402.80,151.30 L403.05,151.34 L403.30,151.39 L403.55,151.42 L403.80,151.46 L404.05,151.49 L404.30,151.52 L404.55,151.55 L404.80,151.58 L405.05,151.60 L405.30,151.62 L405.55,151.64 L405.80,151.66 L406.05,151.68 L406.30,151.69 L406.55,151.70 L406.80,151.71 L407.05,151.72 L407.30,151.73 L407.55,151.74 L407.80,151.74 L408.05,151.74 L408.30,151.75 L408.55,151.75 L408.80,151.75 L409.05,151.74 L409.30,151.74 L409.55,151.73 L409.80,151.73 L410.05,151.72 L410.30,151.71 L410.55,151.70 L410.80,151.69 L411.05,151.67 L411.30,151.66 L411.55,151.64 L411.80,151.62 L412.05,151.60 L412.30,151.58 L412.55,151.55 L412.80,151.52 L413.05,151.50 L413.30,151.46 L413.55,151.43 L413.80,151.40 L414.05,151.36 L414.30,151.31 L414.55,151.27 L414.80,151.22 L415.05,151.17 L415.30,151.11 L415.55,151.05 L415.80,150.99 L416.05,150.92 L416.30,150.85 L416.55,150.76 L416.80,150.68 L417.05,150.58 L417.30,150.48 L417.55,150.37 L417.80,150.25 L418.05,150.11 L418.30,149.97 L418.55,149.81 L418.80,149.64 L419.05,149.45 L419.30,149.24 L419.55,149.02 L419.80,148.77 L420.05,148.51 L420.30,148.23 L420.55,147.95 L420.71,147.81 L420.80,147.88 L421.05,148.14 L421.30,148.42 L421.55,148.69 L421.80,148.94 L422.05,149.17 L422.30,149.37 L422.55,149.57 L422.80,149.74 L423.05,149.90 L423.30,150.04 L423.55,150.17 L423.80,150.29 L424.05,150.40 L424.30,150.50 L424.55,150.59 L424.80,150.68 L425.05,150.75 L425.30,150.82 L425.55,150.89 L425.80,150.95 L426.05,151.00 L426.30,151.05 L426.55,151.09 L426.80,151.13 L427.05,151.17 L427.30,151.20 L427.55,151.23 L427.80,151.26 L428.05,151.28 L428.30,151.30 L428.55,151.31 L428.80,151.33 L429.05,151.34 L429.30,151.34 L429.55,151.35 L429.80,151.35 L430.05,151.35 L430.30,151.35 L430.55,151.34 L430.80,151.33 L431.05,151.32 L431.30,151.30 L431.55,151.29 L431.80,151.27 L432.05,151.24 L432.30,151.22 L432.55,151.19 L432.80,151.16 L433.05,151.12 L433.30,151.08 L433.55,151.04 L433.80,150.99 L434.05,150.94 L434.30,150.89 L434.55,150.83 L434.80,150.76 L435.05,150.70 L435.30,150.62 L435.55,150.54 L435.80,150.46 L436.05,150.37 L436.30,150.27 L436.55,150.16 L436.80,150.04 L437.05,149.92 L437.30,149.79 L437.55,149.64 L437.80,149.48 L438.05,149.31 L438.30,149.13 L438.55,148.92 L438.80,148.70 L439.05,148.46 L439.30,148.19 L439.55,147.90 L439.80,147.57 L440.05,147.21 L440.30,146.80 L440.55,146.35 L440.80,145.85 L441.05,145.28 L441.30,144.65 L441.55,143.95 L441.80,143.18 L442.05,142.40 L442.21,141.98 L442.30,142.19 L442.55,142.97 L442.80,143.74 L443.05,144.47 L443.30,145.12 L443.55,145.70 L443.80,146.23 L444.05,146.69 L444.30,147.11 L444.55,147.49 L444.80,147.82 L445.05,148.13 L445.30,148.40 L445.55,148.65 L445.80,148.88 L446.05,149.08 L446.30,149.27 L446.55,149.44 L446.80,149.60 L447.05,149.75 L447.30,149.88 L447.55,150.00 L447.80,150.11 L448.05,150.21 L448.30,150.31 L448.55,150.39 L448.80,150.47 L449.05,150.54 L449.30,150.60 L449.55,150.66 L449.80,150.71 L450.05,150.75 L450.30,150.79 L450.55,150.82 L450.80,150.85 L451.05,150.87 L451.30,150.89 L451.55,150.90 L451.80,150.90 L452.05,150.90 L452.30,150.90 L452.55,150.88 L452.80,150.87 L453.05,150.85 L453.30,150.82 L453.55,150.79 L453.80,150.75 L454.05,150.70 L454.30,150.65 L454.55,150.59 L454.80,150.53 L455.05,150.46 L455.30,150.38 L455.55,150.29 L455.80,150.20 L456.05,150.10 L456.30,149.98 L456.55,149.86 L456.80,149.73 L457.05,149.59 L457.30,149.44 L457.55,149.27 L457.80,149.09 L458.05,148.89 L458.30,148.68 L458.55,148.45 L458.80,148.21 L459.05,147.93 L459.30,147.64 L459.55,147.32 L459.80,146.96 L460.05,146.57 L460.30,146.15 L460.55,145.67 L460.80,145.15 L461.05,144.56 L461.30,143.90 L461.55,143.16 L461.80,142.32 L462.05,141.36 L462.30,140.27 L462.55,139.01 L462.80,137.56 L463.05,135.90 L463.30,134.02 L463.55,131.99 L463.71,130.87 L463.80,131.45 L464.05,133.47 L464.30,135.41 L464.55,137.15 L464.80,138.66 L465.05,139.98 L465.30,141.13 L465.55,142.13 L465.80,143.01 L466.05,143.78 L466.30,144.47 L466.55,145.08 L466.80,145.63 L467.05,146.13 L467.30,146.57 L467.55,146.98 L467.80,147.35 L468.05,147.69 L468.30,148.00 L468.55,148.28 L468.80,148.54 L469.05,148.78 L469.30,149.00 L469.55,149.20 L469.80,149.39 L470.05,149.56 L470.30,149.72 L470.55,149.86 L470.80,150.00 L471.05,150.12 L471.30,150.23 L471.55,150.33 L471.80,150.42 L472.05,150.50 L472.30,150.57 L472.55,150.63 L472.80,150.68 L473.05,150.72 L473.30,150.76 L473.55,150.78 L473.80,150.80 L474.05,150.80 L474.30,150.80 L474.55,150.79 L474.80,150.77 L475.05,150.74 L475.30,150.70 L475.55,150.65 L475.80,150.59 L476.05,150.52 L476.30,150.43 L476.55,150.34 L476.80,150.23 L477.05,150.11 L477.30,149.98 L477.55,149.84 L477.80,149.67 L478.05,149.50 L478.30,149.30 L478.55,149.09 L478.80,148.86 L479.05,148.61 L479.30,148.34 L479.55,148.05 L479.80,147.72 L480.05,147.38 L480.30,147.00 L480.55,146.58 L480.80,146.13 L481.05,145.64 L481.30,145.09 L481.55,144.50 L481.80,143.85 L482.05,143.12 L482.30,142.32 L482.55,141.43 L482.80,140.42 L483.05,139.29 L483.30,138.01 L483.55,136.55 L483.80,134.86 L484.05,132.90 L484.30,130.61 L484.55,127.91 L484.80,124.70 L485.05,120.89 L485.30,116.42 L485.55,111.57 L485.64,110.13 L485.80,112.91 L486.05,117.74 L486.30,122.04 L486.55,125.68 L486.80,128.74 L487.05,131.33 L487.30,133.52 L487.55,135.41 L487.80,137.03 L488.05,138.45 L488.30,139.69 L488.55,140.79 L488.80,141.77 L489.05,142.65 L489.30,143.43 L489.55,144.15 L489.80,144.79 L490.05,145.38 L490.30,145.91 L490.55,146.40 L490.80,146.85 L491.05,147.27 L491.30,147.65 L491.55,148.00 L491.80,148.32 L492.05,148.62 L492.30,148.89 L492.55,149.14 L492.80,149.38 L493.05,149.59 L493.30,149.79 L493.55,149.96 L493.80,150.13 L494.05,150.27 L494.30,150.41 L494.55,150.52 L494.80,150.63 L495.05,150.72 L495.30,150.79 L495.55,150.86 L495.80,150.91 L496.05,150.94 L496.30,150.97 L496.55,150.98 L496.80,150.98 L497.05,150.96 L497.30,150.93 L497.55,150.88 L497.80,150.82 L498.05,150.75 L498.30,150.66 L498.55,150.55 L498.80,150.43 L499.05,150.29 L499.30,150.13 L499.55,149.95 L499.80,149.75 L500.05,149.53 L500.30,149.28 L500.55,149.01 L500.80,148.72 L501.05,148.39 L501.30,148.03 L501.55,147.64 L501.80,147.22 L502.05,146.75 L502.30,146.24 L502.55,145.68 L502.80,145.06 L503.05,144.39 L503.30,143.65 L503.55,142.83 L503.80,141.92 L504.05,140.91 L504.30,139.79 L504.55,138.53 L504.80,137.10 L505.05,135.48 L505.30,133.63 L505.55,131.48 L505.80,128.99 L506.05,126.04 L506.30,122.53 L506.55,118.30 L506.80,113.15 L507.05,106.85 L507.30,99.29 L507.55,91.30 L507.57,90.87 L507.80,97.98 L508.05,105.73 L508.30,112.23 L508.55,117.55 L508.80,121.92 L509.05,125.53 L509.30,128.56 L509.55,131.13 L509.80,133.33 L510.05,135.23 L510.30,136.88 L510.55,138.34 L510.80,139.63 L511.05,140.78 L511.30,141.81 L511.55,142.74 L511.80,143.57 L512.05,144.33 L512.30,145.02 L512.55,145.65 L512.80,146.22 L513.05,146.74 L513.30,147.22 L513.55,147.66 L513.80,148.06 L514.05,148.43 L514.30,148.76 L514.55,149.07 L514.80,149.35 L515.05,149.60 L515.30,149.83 L515.55,150.04 L515.80,150.22 L516.05,150.38 L516.30,150.53 L516.55,150.65 L516.80,150.75 L517.05,150.84 L517.30,150.91 L517.55,150.96 L517.80,150.99 L518.05,151.00 L518.30,151.00 L518.55,150.97 L518.80,150.93 L519.05,150.87 L519.30,150.79 L519.55,150.69 L519.80,150.57 L520.05,150.43 L520.30,150.26 L520.55,150.07 L520.80,149.85 L521.05,149.61 L521.30,149.34 L521.55,149.04 L521.80,148.71 L522.05,148.34 L522.30,147.94 L522.55,147.50 L522.80,147.01 L523.05,146.48 L523.30,145.90 L523.55,145.26 L523.80,144.57 L524.05,143.81 L524.30,142.98 L524.55,142.07 L524.80,141.07 L525.05,139.96 L525.30,138.75 L525.55,137.41 L525.80,135.92 L526.05,134.26 L526.30,132.41 L526.55,130.31 L526.80,127.95 L527.05,125.24 L527.30,122.13 L527.55,118.52 L527.80,114.28 L528.05,109.24 L528.30,103.17 L528.55,95.79 L528.80,86.69 L529.05,75.45 L529.30,61.94 L529.50,51.30 L529.55,53.49 L529.80,67.58 L530.05,80.23 L530.30,90.56 L530.55,98.92 L530.80,105.74 L531.05,111.36 L531.30,116.06 L531.55,120.03 L531.80,123.43 L532.05,126.37 L532.30,128.93 L532.55,131.18 L532.80,133.17 L533.05,134.95 L533.30,136.53 L533.55,137.96 L533.80,139.25 L534.05,140.42 L534.30,141.48 L534.55,142.44 L534.80,143.32 L535.05,144.12 L535.30,144.85 L535.55,145.52 L535.80,146.14 L536.05,146.70 L536.30,147.21 L536.55,147.67 L536.80,148.10 L537.05,148.49 L537.30,148.84 L537.55,149.16 L537.80,149.45 L538.05,149.70 L538.30,149.93 L538.55,150.14 L538.80,150.32 L539.05,150.47 L539.30,150.60 L539.55,150.72 L539.80,150.81 L540.05,150.88 L540.30,150.93 L540.55,150.96 L540.80,150.97 L541.05,150.96 L541.30,150.94 L541.55,150.90 L541.80,150.84 L542.05,150.76 L542.30,150.66 L542.55,150.54 L542.80,150.41 L543.05,150.25 L543.30,150.07 L543.55,149.87 L543.80,149.65 L544.05,149.40 L544.30,149.13 L544.55,148.83 L544.80,148.50 L545.05,148.14 L545.30,147.75 L545.55,147.32 L545.80,146.85 L546.05,146.34 L546.30,145.78 L546.55,145.16 L546.80,144.49 L547.05,143.75 L547.30,142.94 L547.55,142.04 L547.80,141.04 L548.05,139.93 L548.30,138.69 L548.55,137.29 L548.80,135.70 L549.05,133.90 L549.30,131.82 L549.55,129.41 L549.80,126.58 L550.05,123.23 L550.30,119.21 L550.55,114.33 L550.80,108.37 L551.05,101.13 L551.30,92.76 L551.43,88.84 L551.55,92.42 L551.80,100.81 L552.05,108.10 L552.30,114.10 L552.55,119.02 L552.80,123.07 L553.05,126.44 L553.30,129.29 L553.55,131.71 L553.80,133.80 L554.05,135.61 L554.30,137.20 L554.55,138.60 L554.80,139.84 L555.05,140.96 L555.30,141.95 L555.55,142.85 L555.80,143.66 L556.05,144.40 L556.30,145.07 L556.55,145.68 L556.80,146.24 L557.05,146.75 L557.30,147.22 L557.55,147.64 L557.80,148.03 L558.05,148.39 L558.30,148.71 L558.55,149.01 L558.80,149.28 L559.05,149.53 L559.30,149.75 L559.55,149.95 L559.80,150.13 L560.05,150.28 L560.30,150.42 L560.55,150.55 L560.80,150.65 L561.05,150.74 L561.30,150.81 L561.55,150.87 L561.80,150.92 L562.05,150.95 L562.30,150.96 L562.55,150.97 L562.80,150.95 L563.05,150.93 L563.30,150.89 L563.55,150.84 L563.80,150.78 L564.05,150.70 L564.30,150.61 L564.55,150.51 L564.80,150.39 L565.05,150.26 L565.30,150.11 L565.55,149.94 L565.80,149.76 L566.05,149.57 L566.30,149.35 L566.55,149.12 L566.80,148.86 L567.05,148.58 L567.30,148.28 L567.55,147.95 L567.80,147.59 L568.05,147.20 L568.30,146.77 L568.55,146.30 L568.80,145.79 L569.05,145.23 L569.30,144.60 L569.55,143.91 L569.80,143.15 L570.05,142.29 L570.30,141.32 L570.55,140.22 L570.80,138.97 L571.05,137.53 L571.30,135.87 L571.55,133.92 L571.80,131.63 L572.05,128.91 L572.30,125.67 L572.55,121.86 L572.80,117.63 L572.93,115.70 L573.05,117.45 L573.30,121.69 L573.55,125.51 L573.80,128.76 L574.05,131.50 L574.30,133.80 L574.55,135.75 L574.80,137.42 L575.05,138.86 L575.30,140.11 L575.55,141.20 L575.80,142.17 L576.05,143.02 L576.30,143.79 L576.55,144.47 L576.80,145.09 L577.05,145.65 L577.30,146.15 L577.55,146.61 L577.80,147.03 L578.05,147.42 L578.30,147.77 L578.55,148.09 L578.80,148.38 L579.05,148.66 L579.30,148.90 L579.55,149.13 L579.80,149.34 L580.05,149.53 L580.30,149.71 L580.55,149.87 L580.80,150.01 L581.05,150.14 L581.30,150.26 L581.55,150.36 L581.80,150.45 L582.05,150.54 L582.30,150.61 L582.55,150.66 L582.80,150.71 L583.05,150.75 L583.30,150.78 L583.55,150.80 L583.80,150.81 L584.05,150.82 L584.30,150.81 L584.55,150.79 L584.80,150.77 L585.05,150.73 L585.30,150.69 L585.55,150.64 L585.80,150.58 L586.05,150.51 L586.30,150.42 L586.55,150.33 L586.80,150.23 L587.05,150.12 L587.30,150.00 L587.55,149.86 L587.80,149.71 L588.05,149.55 L588.30,149.38 L588.55,149.18 L588.80,148.98 L589.05,148.75 L589.30,148.50 L589.55,148.23 L589.80,147.93 L590.05,147.61 L590.30,147.25 L590.55,146.85 L590.80,146.42 L591.05,145.93 L591.30,145.39 L591.55,144.79 L591.80,144.11 L592.05,143.34 L592.30,142.46 L592.55,141.46 L592.80,140.31 L593.05,138.98 L593.30,137.44 L593.55,135.70 L593.80,133.80 L594.00,132.43 L594.05,132.70 L594.30,134.56 L594.55,136.41 L594.80,138.07 L595.05,139.52 L595.30,140.77 L595.55,141.86 L595.80,142.80 L596.05,143.63 L596.30,144.36 L596.55,145.01 L596.80,145.58 L597.05,146.10 L597.30,146.56 L597.55,146.98 L597.80,147.36 L598.05,147.70 L598.30,148.02 L598.55,148.30 L598.80,148.57 L599.05,148.81 L599.30,149.04 L599.55,149.24 L599.80,149.43 L600.05,149.61 L600.30,149.77 L600.55,149.93 L600.80,150.07 L601.05,150.20 L601.30,150.32 L601.55,150.43 L601.80,150.54 L602.05,150.63 L602.30,150.72 L602.55,150.81 L602.80,150.88 L603.05,150.95 L603.30,151.02 L603.55,151.07 L603.80,151.13 L604.05,151.17 L604.30,151.22 L604.55,151.25 L604.80,151.29 L605.05,151.32 L605.30,151.34 L605.55,151.36 L605.80,151.38 L606.05,151.39 L606.30,151.39 L606.55,151.40 L606.80,151.40 L607.05,151.39 L607.30,151.38 L607.55,151.37 L607.80,151.35 L608.05,151.33 L608.30,151.30 L608.55,151.27 L608.80,151.24 L609.05,151.20 L609.30,151.15 L609.55,151.10 L609.80,151.05 L610.05,150.99 L610.30,150.92 L610.55,150.85 L610.80,150.77 L611.05,150.68 L611.30,150.59 L611.55,150.48 L611.80,150.37 L612.05,150.25 L612.30,150.12 L612.55,149.97 L612.80,149.81 L613.05,149.63 L613.30,149.44 L613.55,149.23 L613.80,148.99 L614.05,148.73 L614.30,148.44 L614.55,148.12 L614.80,147.76 L615.05,147.35 L615.30,146.90 L615.55,146.39 L615.80,145.83 L616.05,145.23 L616.30,144.65 L616.36,144.55 L616.55,144.94 L616.80,145.54 L617.05,146.12 L617.30,146.65 L617.55,147.12 L617.80,147.55 L618.05,147.93 L618.30,148.26 L618.55,148.57 L618.80,148.84 L619.05,149.08 L619.30,149.31 L619.55,149.51 L619.80,149.69 L620.05,149.85 L620.30,150.01 L620.55,150.14 L620.80,150.27 L621.05,150.39 L621.30,150.50 L621.55,150.60 L621.80,150.69 L622.05,150.77 L622.30,150.85 L622.55,150.92 L622.80,150.99 L623.05,151.05 L623.30,151.11 L623.55,151.17 L623.80,151.22 L624.05,151.26 L624.30,151.30 L624.55,151.34 L624.80,151.38 L625.05,151.41 L625.30,151.44 L625.55,151.47 L625.80,151.49 L626.05,151.51 L626.30,151.53 L626.55,151.55 L626.80,151.56 L627.05,151.58 L627.30,151.58 L627.55,151.59 L627.80,151.60 L628.05,151.60 L628.30,151.60 L628.55,151.60 L628.80,151.59 L629.05,151.59 L629.30,151.58 L629.55,151.57 L629.80,151.55 L630.05,151.54 L630.30,151.52 L630.55,151.50 L630.80,151.47 L631.05,151.45 L631.30,151.41 L631.55,151.38 L631.80,151.34 L632.05,151.30 L632.30,151.26 L632.55,151.21 L632.80,151.15 L633.05,151.09 L633.30,151.03 L633.55,150.96 L633.80,150.88 L634.05,150.80 L634.30,150.71 L634.55,150.61 L634.80,150.50 L635.05,150.37 L635.30,150.24 L635.55,150.10 L635.80,149.94 L636.05,149.76 L636.30,149.57 L636.55,149.36 L636.80,149.13 L637.05,148.89 L637.30,148.66 L637.43,148.56 L637.55,148.65 L637.80,148.89 L638.05,149.13 L638.30,149.36 L638.55,149.57 L638.80,149.77 L639.05,149.95 L639.30,150.11 L639.55,150.26 L639.80,150.40 L640.05,150.52 L640.30,150.64 L640.55,150.74 L640.80,150.84 L641.05,150.93 L641.30,151.01 L641.55,151.09 L641.80,151.16 L642.05,151.22 L642.30,151.28 L642.55,151.34 L642.80,151.39 L643.05,151.44 L643.30,151.48 L643.55,151.52 L643.80,151.56 L644.05,151.60 L644.30,151.63 L644.55,151.66 L644.80,151.69 L645.05,151.72 L645.30,151.75 L645.55,151.77 L645.80,151.79 L646.05,151.81 L646.30,151.83 L646.55,151.85 L646.80,151.86 L647.05,151.88 L647.30,151.89 L647.55,151.90 L647.80,151.91 L648.05,151.92 L648.30,151.93 L648.55,151.94 L648.80,151.94 L649.05,151.95 L649.30,151.95 L649.55,151.95 L649.80,151.95 L650.05,151.95 L650.30,151.95 L650.55,151.95 L650.80,151.95 L651.05,151.94 L651.30,151.93 L651.55,151.93 L651.80,151.92 L652.05,151.91 L652.30,151.90 L652.55,151.88 L652.80,151.87 L653.05,151.85 L653.30,151.84 L653.55,151.82 L653.80,151.80 L654.05,151.77 L654.30,151.75 L654.55,151.72 L654.80,151.69 L655.05,151.66 L655.30,151.62 L655.55,151.58 L655.80,151.54 L656.05,151.50 L656.30,151.45 L656.55,151.40 L656.80,151.34 L657.05,151.28 L657.30,151.21 L657.55,151.14 L657.80,151.06 L658.05,150.97 L658.30,150.88 L658.55,150.79 L658.80,150.69 L659.05,150.59 L659.30,150.50 L659.36,150.48 L659.55,150.55 L659.80,150.65 L660.05,150.76 L660.30,150.87 L660.55,150.97 L660.80,151.06 L661.05,151.15 L661.30,151.23 L661.55,151.31 L661.80,151.38 L662.05,151.45 L662.30,151.51 L662.55,151.57 L662.80,151.63 L663.05,151.68 L663.30,151.73 L663.55,151.77 L663.80,151.82 L664.05,151.86 L664.30,151.89 L664.55,151.93 L664.80,151.96 L665.05,151.99 L665.30,152.03 L665.55,152.05 L665.80,152.08 L666.05,152.11 L666.30,152.13 L666.55,152.16 L666.80,152.18 L667.05,152.20 L667.30,152.22 L667.55,152.24 L667.80,152.26 L668.05,152.28 L668.30,152.29" fill="none" stroke="#e3262a" stroke-width="1.6" stroke-linejoin="round"/>
<line x1="477.5" y1="47.3" x2="581.5" y2="47.3" stroke="#000" stroke-width="1.3"/>
<line x1="473.5" y1="43.8" x2="473.5" y2="50.8" stroke="#000" stroke-width="1.2"/>
<line x1="585.5" y1="43.8" x2="585.5" y2="50.8" stroke="#000" stroke-width="1.2"/>
<polygon points="473.5,47.3 479.1,43.8 478.5,47.3 479.1,50.8" fill="#000"/>
<polygon points="585.5,47.3 579.9,43.8 580.5,47.3 579.9,50.8" fill="#000"/>
<text x="517.6" y="40.7" font-size="11" fill="#231f20" stroke="#231f20" stroke-width="0.15">FOE<tspan font-size="8" dy="2.6">z</tspan></text>
<text x="342.00" y="201.40" font-size="15" text-anchor="start" fill="#000" stroke="#000" stroke-width="0" font-weight="bold" font-style="normal" >c</text>
<rect x="390.5" y="205.7" width="83.10" height="122.30" fill="#f0f0f0"/>
<rect x="585.6" y="205.7" width="83.20" height="122.30" fill="#f0f0f0"/>
<line x1="473.6" y1="205.7" x2="473.6" y2="328.0" stroke="#a4a4a4" stroke-width="0.9" stroke-dasharray="1.6,1.7"/>
<line x1="585.6" y1="205.7" x2="585.6" y2="328.0" stroke="#a4a4a4" stroke-width="0.9" stroke-dasharray="1.6,1.7"/>
<line x1="390.5" y1="205.7" x2="390.5" y2="328.0" stroke="#dc2430" stroke-width="1.3"/>
<line x1="390.5" y1="328.00" x2="393.1" y2="328.00" stroke="#dc2430" stroke-width="1"/>
<text x="385.60" y="332.20" font-size="11" text-anchor="end" fill="#dc2430" stroke="#dc2430" stroke-width="0.15" font-weight="normal" font-style="normal" >0</text>
<line x1="390.5" y1="307.62" x2="393.1" y2="307.62" stroke="#dc2430" stroke-width="1"/>
<text x="385.60" y="311.82" font-size="11" text-anchor="end" fill="#dc2430" stroke="#dc2430" stroke-width="0.15" font-weight="normal" font-style="normal" >5</text>
<line x1="390.5" y1="287.23" x2="393.1" y2="287.23" stroke="#dc2430" stroke-width="1"/>
<text x="385.60" y="291.43" font-size="11" text-anchor="end" fill="#dc2430" stroke="#dc2430" stroke-width="0.15" font-weight="normal" font-style="normal" >10</text>
<line x1="390.5" y1="266.85" x2="393.1" y2="266.85" stroke="#dc2430" stroke-width="1"/>
<text x="385.60" y="271.05" font-size="11" text-anchor="end" fill="#dc2430" stroke="#dc2430" stroke-width="0.15" font-weight="normal" font-style="normal" >15</text>
<line x1="390.5" y1="246.47" x2="393.1" y2="246.47" stroke="#dc2430" stroke-width="1"/>
<text x="385.60" y="250.67" font-size="11" text-anchor="end" fill="#dc2430" stroke="#dc2430" stroke-width="0.15" font-weight="normal" font-style="normal" >20</text>
<line x1="390.5" y1="226.08" x2="393.1" y2="226.08" stroke="#dc2430" stroke-width="1"/>
<text x="385.60" y="230.28" font-size="11" text-anchor="end" fill="#dc2430" stroke="#dc2430" stroke-width="0.15" font-weight="normal" font-style="normal" >25</text>
<line x1="390.5" y1="205.70" x2="393.1" y2="205.70" stroke="#dc2430" stroke-width="1"/>
<text x="385.60" y="209.90" font-size="11" text-anchor="end" fill="#dc2430" stroke="#dc2430" stroke-width="0.15" font-weight="normal" font-style="normal" >30</text>
<line x1="668.8" y1="205.7" x2="668.8" y2="328.0" stroke="#2424d4" stroke-width="1.3"/>
<line x1="668.8" y1="328.00" x2="666.1999999999999" y2="328.00" stroke="#2424d4" stroke-width="1"/>
<text x="672.40" y="332.20" font-size="11" text-anchor="start" fill="#2424d4" stroke="#2424d4" stroke-width="0.15" font-weight="normal" font-style="normal" >0</text>
<line x1="668.8" y1="310.53" x2="666.1999999999999" y2="310.53" stroke="#2424d4" stroke-width="1"/>
<text x="672.40" y="314.73" font-size="11" text-anchor="start" fill="#2424d4" stroke="#2424d4" stroke-width="0.15" font-weight="normal" font-style="normal" >10</text>
<line x1="668.8" y1="293.06" x2="666.1999999999999" y2="293.06" stroke="#2424d4" stroke-width="1"/>
<text x="672.40" y="297.26" font-size="11" text-anchor="start" fill="#2424d4" stroke="#2424d4" stroke-width="0.15" font-weight="normal" font-style="normal" >20</text>
<line x1="668.8" y1="275.59" x2="666.1999999999999" y2="275.59" stroke="#2424d4" stroke-width="1"/>
<text x="672.40" y="279.79" font-size="11" text-anchor="start" fill="#2424d4" stroke="#2424d4" stroke-width="0.15" font-weight="normal" font-style="normal" >30</text>
<line x1="668.8" y1="258.11" x2="666.1999999999999" y2="258.11" stroke="#2424d4" stroke-width="1"/>
<text x="672.40" y="262.31" font-size="11" text-anchor="start" fill="#2424d4" stroke="#2424d4" stroke-width="0.15" font-weight="normal" font-style="normal" >40</text>
<line x1="668.8" y1="240.64" x2="666.1999999999999" y2="240.64" stroke="#2424d4" stroke-width="1"/>
<text x="672.40" y="244.84" font-size="11" text-anchor="start" fill="#2424d4" stroke="#2424d4" stroke-width="0.15" font-weight="normal" font-style="normal" >50</text>
<line x1="668.8" y1="223.17" x2="666.1999999999999" y2="223.17" stroke="#2424d4" stroke-width="1"/>
<text x="672.40" y="227.37" font-size="11" text-anchor="start" fill="#2424d4" stroke="#2424d4" stroke-width="0.15" font-weight="normal" font-style="normal" >60</text>
<line x1="668.8" y1="205.70" x2="666.1999999999999" y2="205.70" stroke="#2424d4" stroke-width="1"/>
<text x="672.40" y="209.90" font-size="11" text-anchor="start" fill="#2424d4" stroke="#2424d4" stroke-width="0.15" font-weight="normal" font-style="normal" >70</text>
<line x1="390.5" y1="328.0" x2="668.8" y2="328.0" stroke="#231f20" stroke-width="1.3"/>
<line x1="400.50" y1="328.0" x2="400.50" y2="325.4" stroke="#231f20" stroke-width="1"/>
<line x1="422.00" y1="328.0" x2="422.00" y2="325.4" stroke="#231f20" stroke-width="1"/>
<line x1="443.50" y1="328.0" x2="443.50" y2="325.4" stroke="#231f20" stroke-width="1"/>
<line x1="465.00" y1="328.0" x2="465.00" y2="325.4" stroke="#231f20" stroke-width="1"/>
<line x1="486.50" y1="328.0" x2="486.50" y2="325.4" stroke="#231f20" stroke-width="1"/>
<line x1="508.00" y1="328.0" x2="508.00" y2="325.4" stroke="#231f20" stroke-width="1"/>
<line x1="529.50" y1="328.0" x2="529.50" y2="325.4" stroke="#231f20" stroke-width="1"/>
<line x1="551.00" y1="328.0" x2="551.00" y2="325.4" stroke="#231f20" stroke-width="1"/>
<line x1="572.50" y1="328.0" x2="572.50" y2="325.4" stroke="#231f20" stroke-width="1"/>
<line x1="594.00" y1="328.0" x2="594.00" y2="325.4" stroke="#231f20" stroke-width="1"/>
<line x1="615.50" y1="328.0" x2="615.50" y2="325.4" stroke="#231f20" stroke-width="1"/>
<line x1="637.00" y1="328.0" x2="637.00" y2="325.4" stroke="#231f20" stroke-width="1"/>
<line x1="658.50" y1="328.0" x2="658.50" y2="325.4" stroke="#231f20" stroke-width="1"/>
<text x="400.50" y="341.60" font-size="11" text-anchor="middle" fill="#231f20" stroke="#231f20" stroke-width="0.15" font-weight="normal" font-style="normal" >–300</text>
<text x="443.50" y="341.60" font-size="11" text-anchor="middle" fill="#231f20" stroke="#231f20" stroke-width="0.15" font-weight="normal" font-style="normal" >–200</text>
<text x="486.50" y="341.60" font-size="11" text-anchor="middle" fill="#231f20" stroke="#231f20" stroke-width="0.15" font-weight="normal" font-style="normal" >–100</text>
<text x="529.50" y="341.60" font-size="11" text-anchor="middle" fill="#231f20" stroke="#231f20" stroke-width="0.15" font-weight="normal" font-style="normal" >0</text>
<text x="572.50" y="341.60" font-size="11" text-anchor="middle" fill="#231f20" stroke="#231f20" stroke-width="0.15" font-weight="normal" font-style="normal" >100</text>
<text x="615.50" y="341.60" font-size="11" text-anchor="middle" fill="#231f20" stroke="#231f20" stroke-width="0.15" font-weight="normal" font-style="normal" >200</text>
<text x="658.50" y="341.60" font-size="11" text-anchor="middle" fill="#231f20" stroke="#231f20" stroke-width="0.15" font-weight="normal" font-style="normal" >300</text>
<text x="529.00" y="356.80" font-size="11" text-anchor="middle" fill="#231f20" stroke="#231f20" stroke-width="0.15" font-weight="normal" font-style="normal" >Axial position (µm)</text>
<text transform="translate(350.2,267.7) rotate(-90)" font-size="11" text-anchor="middle" fill="#231f20" stroke="#231f20" stroke-width="0.15">Axial confinement</text>
<text transform="translate(362.8,267.7) rotate(-90)" font-size="11" text-anchor="middle" fill="#231f20" stroke="#231f20" stroke-width="0.15">FWHM (µm)</text>
<path d="M401.5,211.65 L402.5,212.60 L403.5,213.54 L404.5,214.48 L405.5,215.40 L406.5,216.32 L407.5,217.23 L408.5,218.14 L409.5,219.03 L410.5,219.92 L411.5,220.80 L412.5,221.68 L413.5,222.54 L414.5,223.40 L415.5,224.25 L416.5,225.10 L417.5,225.94 L418.5,226.77 L419.5,227.59 L420.5,228.40 L421.5,229.21 L422.5,230.01 L423.5,230.80 L424.5,231.59 L425.5,232.36 L426.5,233.13 L427.5,233.90 L428.5,234.65 L429.5,235.40 L430.5,236.14 L431.5,236.87 L432.5,237.60 L433.5,238.32 L434.5,239.03 L435.5,239.73 L436.5,240.43 L437.5,241.11 L438.5,241.79 L439.5,242.47 L440.5,243.13 L441.5,243.79 L442.5,244.44 L443.5,245.09 L444.5,245.72 L445.5,246.35 L446.5,246.97 L447.5,247.59 L448.5,248.19 L449.5,248.79 L450.5,249.38 L451.5,249.97 L452.5,250.54 L453.5,251.11 L454.5,251.68 L455.5,252.23 L456.5,252.78 L457.5,253.32 L458.5,253.85 L459.5,254.37 L460.5,254.89 L461.5,255.40 L462.5,255.90 L463.5,256.40 L464.5,256.88 L465.5,257.36 L466.5,257.84 L467.5,258.30 L468.5,258.76 L469.5,259.21 L470.5,259.65 L471.5,260.09 L472.5,260.51 L473.5,260.93 L474.5,261.35 L475.5,261.75 L476.5,262.15 L477.5,262.54 L478.5,262.92 L479.5,263.30 L480.5,263.67 L481.5,264.03 L482.5,264.38 L483.5,264.73 L484.5,265.07 L485.5,265.40 L486.5,265.72 L487.5,266.04 L488.5,266.35 L489.5,266.65 L490.5,266.94 L491.5,267.23 L492.5,267.51 L493.5,267.78 L494.5,268.04 L495.5,268.30 L496.5,268.55 L497.5,268.79 L498.5,269.03 L499.5,269.25 L500.5,269.47 L501.5,269.68 L502.5,269.89 L503.5,270.09 L504.5,270.28 L505.5,270.46 L506.5,270.63 L507.5,270.80 L508.5,270.96 L509.5,271.11 L510.5,271.26 L511.5,271.39 L512.5,271.52 L513.5,271.65 L514.5,271.76 L515.5,271.87 L516.5,271.97 L517.5,272.06 L518.5,272.15 L519.5,272.23 L520.5,272.30 L521.5,272.36 L522.5,272.42 L523.5,272.47 L524.5,272.51 L525.5,272.54 L526.5,272.57 L527.5,272.59 L528.5,272.60 L529.5,272.60 L530.5,272.60 L531.5,272.59 L532.5,272.57 L533.5,272.54 L534.5,272.51 L535.5,272.47 L536.5,272.42 L537.5,272.36 L538.5,272.30 L539.5,272.23 L540.5,272.15 L541.5,272.06 L542.5,271.97 L543.5,271.87 L544.5,271.76 L545.5,271.65 L546.5,271.52 L547.5,271.39 L548.5,271.26 L549.5,271.11 L550.5,270.96 L551.5,270.80 L552.5,270.63 L553.5,270.46 L554.5,270.28 L555.5,270.09 L556.5,269.89 L557.5,269.68 L558.5,269.47 L559.5,269.25 L560.5,269.03 L561.5,268.79 L562.5,268.55 L563.5,268.30 L564.5,268.04 L565.5,267.78 L566.5,267.51 L567.5,267.23 L568.5,266.94 L569.5,266.65 L570.5,266.35 L571.5,266.04 L572.5,265.72 L573.5,265.40 L574.5,265.07 L575.5,264.73 L576.5,264.38 L577.5,264.03 L578.5,263.67 L579.5,263.30 L580.5,262.92 L581.5,262.54 L582.5,262.15 L583.5,261.75 L584.5,261.35 L585.5,260.93 L586.5,260.51 L587.5,260.09 L588.5,259.65 L589.5,259.21 L590.5,258.76 L591.5,258.30 L592.5,257.84 L593.5,257.36 L594.5,256.88 L595.5,256.40 L596.5,255.90 L597.5,255.40 L598.5,254.89 L599.5,254.37 L600.5,253.85 L601.5,253.32 L602.5,252.78 L603.5,252.23 L604.5,251.68 L605.5,251.11 L606.5,250.54 L607.5,249.97 L608.5,249.38 L609.5,248.79 L610.5,248.19 L611.5,247.59 L612.5,246.97 L613.5,246.35 L614.5,245.72 L615.5,245.09 L616.5,244.44 L617.5,243.79 L618.5,243.13 L619.5,242.47 L620.5,241.79 L621.5,241.11 L622.5,240.43 L623.5,239.73 L624.5,239.03 L625.5,238.32 L626.5,237.60 L627.5,236.87 L628.5,236.14 L629.5,235.40 L630.5,234.65 L631.5,233.90 L632.5,233.13 L633.5,232.36 L634.5,231.59 L635.5,230.80 L636.5,230.01 L637.5,229.21 L638.5,228.40 L639.5,227.59 L640.5,226.77 L641.5,225.94 L642.5,225.10 L643.5,224.25 L644.5,223.40 L645.5,222.54 L646.5,221.68 L647.5,220.80 L648.5,219.92 L649.5,219.03 L650.5,218.14 L651.5,217.23 L652.5,216.32 L653.5,215.40 L654.5,214.48 L655.5,213.54 L656.5,212.60" fill="none" stroke="#2424d4" stroke-width="1.4" stroke-dasharray="6,1.8,1.1,1.8"/>
<path d="M398.0,227.65 L399.0,228.82 L400.0,229.97 L401.0,231.12 L402.0,232.26 L403.0,233.39 L404.0,234.51 L405.0,235.62 L406.0,236.73 L407.0,237.82 L408.0,238.91 L409.0,239.98 L410.0,241.05 L411.0,242.11 L412.0,243.16 L413.0,244.20 L414.0,245.24 L415.0,246.26 L416.0,247.27 L417.0,248.28 L418.0,249.28 L419.0,250.26 L420.0,251.24 L421.0,252.21 L422.0,253.17 L423.0,254.13 L424.0,255.07 L425.0,256.00 L426.0,256.93 L427.0,257.85 L428.0,258.75 L429.0,259.65 L430.0,260.54 L431.0,261.42 L432.0,262.30 L433.0,263.16 L434.0,264.01 L435.0,264.86 L436.0,265.70 L437.0,266.52 L438.0,267.34 L439.0,268.15 L440.0,268.95 L441.0,269.75 L442.0,270.53 L443.0,271.30 L444.0,272.07 L445.0,272.83 L446.0,273.57 L447.0,274.31 L448.0,275.04 L449.0,275.76 L450.0,276.47 L451.0,277.18 L452.0,277.87 L453.0,278.56 L454.0,279.23 L455.0,279.90 L456.0,280.56 L457.0,281.21 L458.0,281.85 L459.0,282.48 L460.0,283.11 L461.0,283.72 L462.0,284.32 L463.0,284.92 L464.0,285.51 L465.0,286.09 L466.0,286.66 L467.0,287.22 L468.0,287.77 L469.0,288.31 L470.0,288.85 L471.0,289.37 L472.0,289.89 L473.0,290.39 L474.0,290.89 L475.0,291.38 L476.0,291.86 L477.0,292.33 L478.0,292.80 L479.0,293.25 L480.0,293.70 L481.0,294.13 L482.0,294.56 L483.0,294.98 L484.0,295.39 L485.0,295.79 L486.0,296.18 L487.0,296.56 L488.0,296.94 L489.0,297.30 L490.0,297.66 L491.0,298.00 L492.0,298.34 L493.0,298.67 L494.0,298.99 L495.0,299.30 L496.0,299.61 L497.0,299.90 L498.0,300.18 L499.0,300.46 L500.0,300.73 L501.0,300.99 L502.0,301.23 L503.0,301.47 L504.0,301.71 L505.0,301.93 L506.0,302.14 L507.0,302.35 L508.0,302.54 L509.0,302.73 L510.0,302.91 L511.0,303.08 L512.0,303.24 L513.0,303.39 L514.0,303.53 L515.0,303.66 L516.0,303.79 L517.0,303.90 L518.0,304.01 L519.0,304.11 L520.0,304.20 L521.0,304.28 L522.0,304.35 L523.0,304.41 L524.0,304.47 L525.0,304.51 L526.0,304.55 L527.0,304.57 L528.0,304.59 L529.0,304.60 L530.0,304.60 L531.0,304.59 L532.0,304.57 L533.0,304.55 L534.0,304.51 L535.0,304.47 L536.0,304.41 L537.0,304.35 L538.0,304.28 L539.0,304.20 L540.0,304.11 L541.0,304.01 L542.0,303.90 L543.0,303.79 L544.0,303.66 L545.0,303.53 L546.0,303.39 L547.0,303.24 L548.0,303.08 L549.0,302.91 L550.0,302.73 L551.0,302.54 L552.0,302.35 L553.0,302.14 L554.0,301.93 L555.0,301.71 L556.0,301.47 L557.0,301.23 L558.0,300.99 L559.0,300.73 L560.0,300.46 L561.0,300.18 L562.0,299.90 L563.0,299.61 L564.0,299.30 L565.0,298.99 L566.0,298.67 L567.0,298.34 L568.0,298.00 L569.0,297.66 L570.0,297.30 L571.0,296.94 L572.0,296.56 L573.0,296.18 L574.0,295.79 L575.0,295.39 L576.0,294.98 L577.0,294.56 L578.0,294.13 L579.0,293.70 L580.0,293.25 L581.0,292.80 L582.0,292.33 L583.0,291.86 L584.0,291.38 L585.0,290.89 L586.0,290.39 L587.0,289.89 L588.0,289.37 L589.0,288.85 L590.0,288.31 L591.0,287.77 L592.0,287.22 L593.0,286.66 L594.0,286.09 L595.0,285.51 L596.0,284.92 L597.0,284.32 L598.0,283.72 L599.0,283.11 L600.0,282.48 L601.0,281.85 L602.0,281.21 L603.0,280.56 L604.0,279.90 L605.0,279.23 L606.0,278.56 L607.0,277.87 L608.0,277.18 L609.0,276.47 L610.0,275.76 L611.0,275.04 L612.0,274.31 L613.0,273.57 L614.0,272.83 L615.0,272.07 L616.0,271.30 L617.0,270.53 L618.0,269.75 L619.0,268.95 L620.0,268.15 L621.0,267.34 L622.0,266.52 L623.0,265.70 L624.0,264.86 L625.0,264.01 L626.0,263.16 L627.0,262.30 L628.0,261.42 L629.0,260.54 L630.0,259.65 L631.0,258.75 L632.0,257.85 L633.0,256.93 L634.0,256.00 L635.0,255.07 L636.0,254.13 L637.0,253.17 L638.0,252.21 L639.0,251.24 L640.0,250.26 L641.0,249.28 L642.0,248.28 L643.0,247.27 L644.0,246.26 L645.0,245.24 L646.0,244.20 L647.0,243.16 L648.0,242.11 L649.0,241.05 L650.0,239.98 L651.0,238.91 L652.0,237.82 L653.0,236.73 L654.0,235.62 L655.0,234.51 L656.0,233.39 L657.0,232.26 L658.0,231.12 L659.0,229.97" fill="none" stroke="#dc2430" stroke-width="1.4" stroke-dasharray="4.5,2.5"/>
<path d="M394.3,210.7 L399.90000000000003,216.3 M394.3,216.3 L399.90000000000003,210.7" stroke="#2424d4" stroke-width="1.3" fill="none"/>
<path d="M416.4,224.29999999999998 L422.0,229.9 M416.4,229.9 L422.0,224.29999999999998" stroke="#2424d4" stroke-width="1.3" fill="none"/>
<path d="M438.3,240.29999999999998 L443.90000000000003,245.9 M438.3,245.9 L443.90000000000003,240.29999999999998" stroke="#2424d4" stroke-width="1.3" fill="none"/>
<path d="M460.3,255.8 L465.90000000000003,261.40000000000003 M460.3,261.40000000000003 L465.90000000000003,255.8" stroke="#2424d4" stroke-width="1.3" fill="none"/>
<path d="M482.8,265.5 L488.40000000000003,271.1 M482.8,271.1 L488.40000000000003,265.5" stroke="#2424d4" stroke-width="1.3" fill="none"/>
<path d="M504.8,270.3 L510.40000000000003,275.90000000000003 M504.8,275.90000000000003 L510.40000000000003,270.3" stroke="#2424d4" stroke-width="1.3" fill="none"/>
<path d="M526.7,270.09999999999997 L532.3,275.7 M526.7,275.7 L532.3,270.09999999999997" stroke="#2424d4" stroke-width="1.3" fill="none"/>
<path d="M548.8000000000001,266.59999999999997 L554.4,272.2 M548.8000000000001,272.2 L554.4,266.59999999999997" stroke="#2424d4" stroke-width="1.3" fill="none"/>
<path d="M570.3000000000001,261.09999999999997 L575.9,266.7 M570.3000000000001,266.7 L575.9,261.09999999999997" stroke="#2424d4" stroke-width="1.3" fill="none"/>
<path d="M591.3000000000001,253.7 L596.9,259.3 M591.3000000000001,259.3 L596.9,253.7" stroke="#2424d4" stroke-width="1.3" fill="none"/>
<path d="M613.4000000000001,240.7 L619.0,246.3 M613.4000000000001,246.3 L619.0,240.7" stroke="#2424d4" stroke-width="1.3" fill="none"/>
<path d="M634.8000000000001,224.89999999999998 L640.4,230.5 M634.8000000000001,230.5 L640.4,224.89999999999998" stroke="#2424d4" stroke-width="1.3" fill="none"/>
<path d="M657.3000000000001,212.2 L662.9,217.8 M657.3000000000001,217.8 L662.9,212.2" stroke="#2424d4" stroke-width="1.3" fill="none"/>
<path d="M393.20000000000005,231.6 L401.0,231.6 M397.1,227.7 L397.1,235.5" stroke="#dc2430" stroke-width="1.3" fill="none"/>
<path d="M415.3,252.1 L423.09999999999997,252.1 M419.2,248.2 L419.2,256.0" stroke="#dc2430" stroke-width="1.3" fill="none"/>
<path d="M437.20000000000005,276.0 L445.0,276.0 M441.1,272.1 L441.1,279.9" stroke="#dc2430" stroke-width="1.3" fill="none"/>
<path d="M459.20000000000005,290.8 L467.0,290.8 M463.1,286.90000000000003 L463.1,294.7" stroke="#dc2430" stroke-width="1.3" fill="none"/>
<path d="M481.70000000000005,296.0 L489.5,296.0 M485.6,292.1 L485.6,299.9" stroke="#dc2430" stroke-width="1.3" fill="none"/>
<path d="M503.70000000000005,302.7 L511.5,302.7 M507.6,298.8 L507.6,306.59999999999997" stroke="#dc2430" stroke-width="1.3" fill="none"/>
<path d="M525.6,304.2 L533.4,304.2 M529.5,300.3 L529.5,308.09999999999997" stroke="#dc2430" stroke-width="1.3" fill="none"/>
<path d="M547.7,303.1 L555.5,303.1 M551.6,299.20000000000005 L551.6,307.0" stroke="#dc2430" stroke-width="1.3" fill="none"/>
<path d="M569.2,296.0 L577.0,296.0 M573.1,292.1 L573.1,299.9" stroke="#dc2430" stroke-width="1.3" fill="none"/>
<path d="M590.2,283.6 L598.0,283.6 M594.1,279.70000000000005 L594.1,287.5" stroke="#dc2430" stroke-width="1.3" fill="none"/>
<path d="M612.3000000000001,263.9 L620.1,263.9 M616.2,260.0 L616.2,267.79999999999995" stroke="#dc2430" stroke-width="1.3" fill="none"/>
<path d="M633.7,249.7 L641.5,249.7 M637.6,245.79999999999998 L637.6,253.6" stroke="#dc2430" stroke-width="1.3" fill="none"/>
<path d="M656.2,225.8 L664.0,225.8 M660.1,221.9 L660.1,229.70000000000002" stroke="#dc2430" stroke-width="1.3" fill="none"/>
<text x="593.30" y="217.00" font-size="11" text-anchor="start" fill="#2424d4" stroke="#2424d4" stroke-width="0.15" font-weight="normal" font-style="normal" >CGG</text>
<line x1="593.6" y1="223.2" x2="619" y2="223.2" stroke="#2424d4" stroke-width="1.8"/>
<polygon points="618,219.6 625,223.2 618,226.8" fill="#2424d4"/>
<text x="410.30" y="309.00" font-size="11" text-anchor="start" fill="#dc2430" stroke="#dc2430" stroke-width="0.15" font-weight="normal" font-style="normal" >CGH-TF</text>
<line x1="418" y1="315.0" x2="452.4" y2="315.0" stroke="#dc2430" stroke-width="1.8"/>
<polygon points="419,311.4 412,315.0 419,318.6" fill="#dc2430"/>
<line x1="477.5" y1="221.9" x2="581.5" y2="221.9" stroke="#000" stroke-width="1.3"/>
<line x1="473.5" y1="218.4" x2="473.5" y2="225.4" stroke="#000" stroke-width="1.2"/>
<line x1="585.5" y1="218.4" x2="585.5" y2="225.4" stroke="#000" stroke-width="1.2"/>
<polygon points="473.5,221.9 479.1,218.4 478.5,221.9 479.1,225.4" fill="#000"/>
<polygon points="585.5,221.9 579.9,218.4 580.5,221.9 579.9,225.4" fill="#000"/>
<text x="516.1" y="215.8" font-size="11" fill="#231f20" stroke="#231f20" stroke-width="0.15">FOE<tspan font-size="8" dy="2.6">z</tspan></text>
</svg>
</body></html>
